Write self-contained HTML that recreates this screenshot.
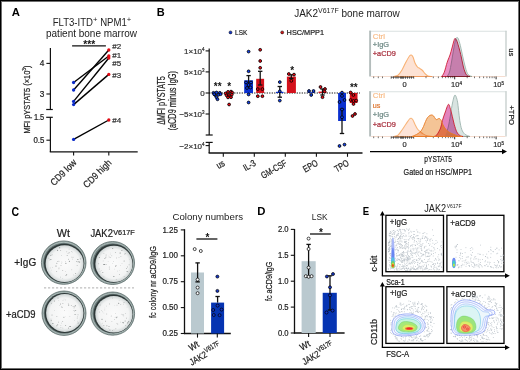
<!DOCTYPE html>
<html><head><meta charset="utf-8"><style>
html,body{margin:0;padding:0;background:#fff;}
#fig{position:relative;width:520px;height:370px;overflow:hidden;background:#fff;}
svg{position:absolute;left:0;top:0;font-family:"Liberation Sans", sans-serif;will-change:transform;}
#frame{position:absolute;left:0;top:0;width:518px;height:368px;border:1px solid #000;box-shadow:inset 0 0 0 1px rgba(0,0,0,0.57);}
</style></head><body><div id="fig">
<svg width="520" height="370" viewBox="0 0 520 370">
<text x="11.7" y="15.8" font-size="11.2" text-anchor="start" fill="#000" textLength="8.2" lengthAdjust="spacingAndGlyphs" font-weight="bold" >A</text>
<text x="156.8" y="16.4" font-size="11" text-anchor="start" fill="#000" font-weight="bold" >B</text>
<text x="11.6" y="215.5" font-size="12" text-anchor="start" fill="#000" textLength="7.6" lengthAdjust="spacingAndGlyphs" font-weight="bold" >C</text>
<text x="257.2" y="214.6" font-size="11" text-anchor="start" fill="#000" textLength="8.2" lengthAdjust="spacingAndGlyphs" font-weight="bold" >D</text>
<text x="362.8" y="215.0" font-size="11" text-anchor="start" fill="#000" textLength="6.4" lengthAdjust="spacingAndGlyphs" font-weight="bold" >E</text>
<text x="92.0" y="25.6" font-size="10" text-anchor="middle" fill="#222" textLength="78.6" lengthAdjust="spacingAndGlyphs" stroke="none">FLT3-ITD<tspan dy="-3.6" font-size="8">+</tspan><tspan dy="3.6"> NPM1</tspan><tspan dy="-3.6" font-size="8">+</tspan></text>
<text x="91.5" y="37.2" font-size="10" text-anchor="middle" fill="#222" textLength="91" lengthAdjust="spacingAndGlyphs" stroke="none">patient bone marrow</text>
<line x1="72.1" y1="45.9" x2="105.9" y2="45.9" stroke="#111" stroke-width="1.3" />
<text x="89.3" y="47.6" font-size="10.5" text-anchor="middle" fill="#111" textLength="12" lengthAdjust="spacingAndGlyphs" font-weight="bold" >***</text>
<line x1="50.4" y1="48" x2="50.4" y2="109.5" stroke="#111" stroke-width="1.2" />
<line x1="46.2" y1="109.5" x2="52.8" y2="109.5" stroke="#111" stroke-width="1.2" />
<line x1="46.2" y1="117.3" x2="52.8" y2="117.3" stroke="#111" stroke-width="1.2" />
<line x1="50.4" y1="117.3" x2="50.4" y2="151.9" stroke="#111" stroke-width="1.2" />
<line x1="49.8" y1="151.9" x2="137.7" y2="151.9" stroke="#111" stroke-width="1.2" />
<line x1="46.4" y1="63.4" x2="50.4" y2="63.4" stroke="#111" stroke-width="1.1" />
<line x1="46.4" y1="94.0" x2="50.4" y2="94.0" stroke="#111" stroke-width="1.1" />
<line x1="46.4" y1="140.2" x2="50.4" y2="140.2" stroke="#111" stroke-width="1.1" />
<text x="44.3" y="66.3" font-size="8.4" text-anchor="end" fill="#222" textLength="4.6" lengthAdjust="spacingAndGlyphs" stroke="#222" stroke-width="0.22">4</text>
<text x="44.3" y="96.9" font-size="8.4" text-anchor="end" fill="#222" textLength="4.6" lengthAdjust="spacingAndGlyphs" stroke="#222" stroke-width="0.22">3</text>
<text x="44.3" y="119.7" font-size="8.4" text-anchor="end" fill="#222" textLength="10.4" lengthAdjust="spacingAndGlyphs" stroke="#222" stroke-width="0.22">1.5</text>
<text x="44.3" y="143.1" font-size="8.4" text-anchor="end" fill="#222" textLength="10.9" lengthAdjust="spacingAndGlyphs" stroke="#222" stroke-width="0.22">0.5</text>
<line x1="73.6" y1="151.9" x2="73.6" y2="155.4" stroke="#111" stroke-width="1.1" />
<line x1="108.8" y1="151.9" x2="108.8" y2="155.4" stroke="#111" stroke-width="1.1" />
<text transform="translate(29.8,99.6) rotate(-90)" font-size="9.6" text-anchor="middle" fill="#222" textLength="68" lengthAdjust="spacingAndGlyphs" stroke="#222" stroke-width="0.22">MFI pYSTAT5 (×10<tspan dy="-3.4" font-size="6.2">3</tspan><tspan dy="3.4">)</tspan></text>
<text transform="translate(77.2,163.2) rotate(-45)" font-size="9.6" text-anchor="end" fill="#222" textLength="32.5" lengthAdjust="spacingAndGlyphs" stroke="#222" stroke-width="0.22">CD9 low</text>
<text transform="translate(112.2,163.4) rotate(-45)" font-size="9.6" text-anchor="end" fill="#222" textLength="35.5" lengthAdjust="spacingAndGlyphs" stroke="#222" stroke-width="0.22">CD9 high</text>
<line x1="73.6" y1="82.5" x2="108.8" y2="56.0" stroke="#000" stroke-width="1.4" />
<line x1="73.6" y1="90.0" x2="108.8" y2="50.0" stroke="#000" stroke-width="1.4" />
<line x1="73.6" y1="101.4" x2="108.8" y2="58.0" stroke="#000" stroke-width="1.4" />
<line x1="73.6" y1="104.6" x2="108.8" y2="74.4" stroke="#000" stroke-width="1.4" />
<line x1="73.6" y1="139.4" x2="108.8" y2="120.0" stroke="#000" stroke-width="1.4" />
<circle cx="73.6" cy="82.5" r="1.65" fill="#0a2ac8" stroke="none" stroke-width="0"/>
<circle cx="108.8" cy="56.0" r="1.65" fill="#e00a14" stroke="none" stroke-width="0"/>
<circle cx="73.6" cy="90.0" r="1.65" fill="#0a2ac8" stroke="none" stroke-width="0"/>
<circle cx="108.8" cy="50.0" r="1.65" fill="#e00a14" stroke="none" stroke-width="0"/>
<circle cx="73.6" cy="101.4" r="1.65" fill="#0a2ac8" stroke="none" stroke-width="0"/>
<circle cx="108.8" cy="58.0" r="1.65" fill="#e00a14" stroke="none" stroke-width="0"/>
<circle cx="73.6" cy="104.6" r="1.65" fill="#0a2ac8" stroke="none" stroke-width="0"/>
<circle cx="108.8" cy="74.4" r="1.65" fill="#e00a14" stroke="none" stroke-width="0"/>
<circle cx="73.6" cy="139.4" r="1.65" fill="#0a2ac8" stroke="none" stroke-width="0"/>
<circle cx="108.8" cy="120.0" r="1.65" fill="#e00a14" stroke="none" stroke-width="0"/>
<text x="112.3" y="49.3" font-size="8" text-anchor="start" fill="#333"  stroke="#333" stroke-width="0.22">#2</text>
<text x="112.3" y="57.8" font-size="8" text-anchor="start" fill="#333"  stroke="#333" stroke-width="0.22">#1</text>
<text x="112.3" y="66.1" font-size="8" text-anchor="start" fill="#333"  stroke="#333" stroke-width="0.22">#5</text>
<text x="112.3" y="78.0" font-size="8" text-anchor="start" fill="#333"  stroke="#333" stroke-width="0.22">#3</text>
<text x="112.3" y="123.0" font-size="8" text-anchor="start" fill="#333"  stroke="#333" stroke-width="0.22">#4</text>
<text x="347" y="16.7" font-size="10" text-anchor="middle" fill="#222" stroke="none">JAK2<tspan dy="-4" font-size="7">V617F</tspan><tspan dy="4"> bone marrow</tspan></text>
<circle cx="230.5" cy="32.4" r="1.5" fill="#1536c8" stroke="#000" stroke-width="0.5"/>
<text x="235.1" y="35.2" font-size="7.9" text-anchor="start" fill="#222" textLength="12.1" lengthAdjust="spacingAndGlyphs"  stroke="#222" stroke-width="0.22">LSK</text>
<circle cx="282.2" cy="32.4" r="1.5" fill="#d01818" stroke="#000" stroke-width="0.5"/>
<text x="286.6" y="35.2" font-size="7.9" text-anchor="start" fill="#222" textLength="37.4" lengthAdjust="spacingAndGlyphs"  stroke="#222" stroke-width="0.22">HSC/MPP1</text>
<line x1="209.2" y1="48.6" x2="209.2" y2="135" stroke="#111" stroke-width="1.2" />
<line x1="205.7" y1="135" x2="212.7" y2="135" stroke="#111" stroke-width="1.2" />
<line x1="205.7" y1="142.4" x2="212.7" y2="142.4" stroke="#111" stroke-width="1.2" />
<line x1="209.2" y1="142.4" x2="209.2" y2="153" stroke="#111" stroke-width="1.2" />
<line x1="208.6" y1="153" x2="362.5" y2="153" stroke="#111" stroke-width="1.3" />
<line x1="205.6" y1="50.9" x2="209.2" y2="50.9" stroke="#111" stroke-width="1.1" />
<line x1="205.6" y1="71.9" x2="209.2" y2="71.9" stroke="#111" stroke-width="1.1" />
<line x1="205.6" y1="93.0" x2="209.2" y2="93.0" stroke="#111" stroke-width="1.1" />
<line x1="205.6" y1="114.0" x2="209.2" y2="114.0" stroke="#111" stroke-width="1.1" />
<line x1="205.6" y1="145.6" x2="209.2" y2="145.6" stroke="#111" stroke-width="1.1" />
<text x="204.6" y="53.8" font-size="8" text-anchor="end" fill="#333"  stroke="#333" stroke-width="0.22">1×10<tspan dy="-2.5" font-size="4.5">4</tspan></text>
<text x="204.6" y="74.80000000000001" font-size="8" text-anchor="end" fill="#333"  stroke="#333" stroke-width="0.22">5×10<tspan dy="-2.5" font-size="4.5">3</tspan></text>
<text x="204.6" y="95.9" font-size="8" text-anchor="end" fill="#333"  stroke="#333" stroke-width="0.22">0</text>
<text x="204.6" y="116.9" font-size="8" text-anchor="end" fill="#333"  stroke="#333" stroke-width="0.22">−5×10<tspan dy="-2.5" font-size="4.5">3</tspan></text>
<text x="204.6" y="148.5" font-size="8" text-anchor="end" fill="#333"  stroke="#333" stroke-width="0.22">−2×10<tspan dy="-2.5" font-size="4.5">4</tspan></text>
<line x1="209.2" y1="93.0" x2="360" y2="93.0" stroke="#000" stroke-width="1.15" stroke-dasharray="1.2 1.3"/>
<line x1="223.3" y1="153" x2="223.3" y2="156.8" stroke="#111" stroke-width="1.1" />
<line x1="254.3" y1="153" x2="254.3" y2="156.8" stroke="#111" stroke-width="1.1" />
<line x1="285.3" y1="153" x2="285.3" y2="156.8" stroke="#111" stroke-width="1.1" />
<line x1="316.4" y1="153" x2="316.4" y2="156.8" stroke="#111" stroke-width="1.1" />
<line x1="347.5" y1="153" x2="347.5" y2="156.8" stroke="#111" stroke-width="1.1" />
<text transform="translate(225.5,165.0) rotate(-30)" font-size="9.4" text-anchor="end" fill="#222" textLength="8.0" lengthAdjust="spacingAndGlyphs" stroke="#222" stroke-width="0.22">us</text>
<text transform="translate(256.5,165.0) rotate(-30)" font-size="9.4" text-anchor="end" fill="#222" textLength="12.6" lengthAdjust="spacingAndGlyphs" stroke="#222" stroke-width="0.22">IL-3</text>
<text transform="translate(287.5,165.0) rotate(-30)" font-size="9.4" text-anchor="end" fill="#222" textLength="28.0" lengthAdjust="spacingAndGlyphs" stroke="#222" stroke-width="0.22">GM-CSF</text>
<text transform="translate(318.59999999999997,165.0) rotate(-30)" font-size="9.4" text-anchor="end" fill="#222" textLength="15.4" lengthAdjust="spacingAndGlyphs" stroke="#222" stroke-width="0.22">EPO</text>
<text transform="translate(349.7,165.0) rotate(-30)" font-size="9.4" text-anchor="end" fill="#222" textLength="15.0" lengthAdjust="spacingAndGlyphs" stroke="#222" stroke-width="0.22">TPO</text>
<text transform="translate(164.6,100.6) rotate(-90)" font-size="10" text-anchor="middle" fill="#222" textLength="48.5" lengthAdjust="spacingAndGlyphs" stroke="#222" stroke-width="0.22">ΔMFI pYSTAT5</text>
<text transform="translate(175.6,100.8) rotate(-90)" font-size="10" text-anchor="middle" fill="#222" textLength="59.5" lengthAdjust="spacingAndGlyphs" stroke="#222" stroke-width="0.22">(aCD9 minus IgG)</text>
<rect x="244.2" y="80.3" width="8.800000000000011" height="12.700000000000003" fill="#0a30d0"/>
<rect x="256.2" y="78.8" width="7.900000000000034" height="14.200000000000003" fill="#d4121c"/>
<line x1="248.6" y1="75.6" x2="248.6" y2="87" stroke="#111" stroke-width="1.3" />
<line x1="246.4" y1="75.6" x2="250.79999999999998" y2="75.6" stroke="#111" stroke-width="1.3" />
<line x1="246.4" y1="87" x2="250.79999999999998" y2="87" stroke="#111" stroke-width="1.3" />
<line x1="260.2" y1="71.3" x2="260.2" y2="85" stroke="#111" stroke-width="1.3" />
<line x1="258.0" y1="71.3" x2="262.4" y2="71.3" stroke="#111" stroke-width="1.3" />
<line x1="258.0" y1="85" x2="262.4" y2="85" stroke="#111" stroke-width="1.3" />
<rect x="276" y="91.8" width="7.5" height="1.2000000000000028" fill="#0a30d0"/>
<line x1="279.8" y1="86.5" x2="279.8" y2="97.2" stroke="#111" stroke-width="1.3" />
<line x1="277.6" y1="86.5" x2="282.0" y2="86.5" stroke="#111" stroke-width="1.3" />
<line x1="277.6" y1="97.2" x2="282.0" y2="97.2" stroke="#111" stroke-width="1.3" />
<rect x="286.9" y="76.6" width="9.0" height="16.400000000000006" fill="#d4121c"/>
<line x1="291.3" y1="74.8" x2="291.3" y2="78.5" stroke="#111" stroke-width="1.3" />
<line x1="289.1" y1="74.8" x2="293.5" y2="74.8" stroke="#111" stroke-width="1.3" />
<line x1="289.1" y1="78.5" x2="293.5" y2="78.5" stroke="#111" stroke-width="1.3" />
<rect x="307.5" y="92.2" width="7.5" height="0.7999999999999972" fill="#0a30d0"/>
<rect x="318.5" y="91.6" width="8.0" height="1.4000000000000057" fill="#d4121c"/>
<line x1="322.5" y1="89" x2="322.5" y2="95" stroke="#111" stroke-width="1.3" />
<line x1="320.3" y1="89" x2="324.7" y2="89" stroke="#111" stroke-width="1.3" />
<line x1="320.3" y1="95" x2="324.7" y2="95" stroke="#111" stroke-width="1.3" />
<rect x="338.1" y="93.0" width="7.899999999999977" height="28.0" fill="#0a30d0"/>
<line x1="342" y1="109.2" x2="342" y2="133.5" stroke="#111" stroke-width="1.3" />
<line x1="339.8" y1="109.2" x2="344.2" y2="109.2" stroke="#111" stroke-width="1.3" />
<line x1="339.8" y1="133.5" x2="344.2" y2="133.5" stroke="#111" stroke-width="1.3" />
<rect x="349.8" y="93.0" width="7.699999999999989" height="10.0" fill="#d4121c"/>
<circle cx="213.5" cy="92.8" r="1.4" fill="#1040f0" stroke="#000" stroke-width="0.85"/>
<circle cx="216.5" cy="92.5" r="1.4" fill="#1040f0" stroke="#000" stroke-width="0.85"/>
<circle cx="219.8" cy="92.8" r="1.4" fill="#1040f0" stroke="#000" stroke-width="0.85"/>
<circle cx="215" cy="95" r="1.4" fill="#1040f0" stroke="#000" stroke-width="0.85"/>
<circle cx="218.5" cy="94.8" r="1.4" fill="#1040f0" stroke="#000" stroke-width="0.85"/>
<circle cx="220.6" cy="94.2" r="1.4" fill="#1040f0" stroke="#000" stroke-width="0.85"/>
<circle cx="216.5" cy="97.3" r="1.4" fill="#1040f0" stroke="#000" stroke-width="0.85"/>
<circle cx="217.5" cy="99.3" r="1.4" fill="#1040f0" stroke="#000" stroke-width="0.85"/>
<circle cx="214.2" cy="94.2" r="1.4" fill="#1040f0" stroke="#000" stroke-width="0.85"/>
<circle cx="248.6" cy="51.6" r="1.4" fill="#1040f0" stroke="#000" stroke-width="0.85"/>
<circle cx="248.6" cy="71.3" r="1.4" fill="#1040f0" stroke="#000" stroke-width="0.85"/>
<circle cx="246" cy="82.5" r="1.4" fill="#1040f0" stroke="#000" stroke-width="0.85"/>
<circle cx="251" cy="82.5" r="1.4" fill="#1040f0" stroke="#000" stroke-width="0.85"/>
<circle cx="248.6" cy="85" r="1.4" fill="#1040f0" stroke="#000" stroke-width="0.85"/>
<circle cx="247" cy="88" r="1.4" fill="#1040f0" stroke="#000" stroke-width="0.85"/>
<circle cx="250.5" cy="87.5" r="1.4" fill="#1040f0" stroke="#000" stroke-width="0.85"/>
<circle cx="248.6" cy="94.5" r="1.4" fill="#1040f0" stroke="#000" stroke-width="0.85"/>
<circle cx="248.6" cy="102.5" r="1.4" fill="#1040f0" stroke="#000" stroke-width="0.85"/>
<circle cx="279.8" cy="82.1" r="1.4" fill="#1040f0" stroke="#000" stroke-width="0.85"/>
<circle cx="279.8" cy="91.3" r="1.4" fill="#1040f0" stroke="#000" stroke-width="0.85"/>
<circle cx="279.8" cy="100.6" r="1.4" fill="#1040f0" stroke="#000" stroke-width="0.85"/>
<circle cx="309" cy="91" r="1.4" fill="#1040f0" stroke="#000" stroke-width="0.85"/>
<circle cx="313.5" cy="91" r="1.4" fill="#1040f0" stroke="#000" stroke-width="0.85"/>
<circle cx="311.2" cy="95" r="1.4" fill="#1040f0" stroke="#000" stroke-width="0.85"/>
<circle cx="342" cy="92.6" r="1.4" fill="#1040f0" stroke="#000" stroke-width="0.85"/>
<circle cx="342" cy="95.9" r="1.4" fill="#1040f0" stroke="#000" stroke-width="0.85"/>
<circle cx="339.5" cy="102" r="1.4" fill="#1040f0" stroke="#000" stroke-width="0.85"/>
<circle cx="344.5" cy="100" r="1.4" fill="#1040f0" stroke="#000" stroke-width="0.85"/>
<circle cx="342" cy="109.5" r="1.4" fill="#1040f0" stroke="#000" stroke-width="0.85"/>
<circle cx="342" cy="117.2" r="1.4" fill="#1040f0" stroke="#000" stroke-width="0.85"/>
<circle cx="339.5" cy="146" r="1.4" fill="#1040f0" stroke="#000" stroke-width="0.85"/>
<circle cx="344.5" cy="144.6" r="1.4" fill="#1040f0" stroke="#000" stroke-width="0.85"/>
<circle cx="225.6" cy="93.4" r="1.4" fill="#f00a14" stroke="#000" stroke-width="0.85"/>
<circle cx="228" cy="91.9" r="1.4" fill="#f00a14" stroke="#000" stroke-width="0.85"/>
<circle cx="231" cy="91.6" r="1.4" fill="#f00a14" stroke="#000" stroke-width="0.85"/>
<circle cx="232.2" cy="92.6" r="1.4" fill="#f00a14" stroke="#000" stroke-width="0.85"/>
<circle cx="226.6" cy="95.4" r="1.4" fill="#f00a14" stroke="#000" stroke-width="0.85"/>
<circle cx="229" cy="95" r="1.4" fill="#f00a14" stroke="#000" stroke-width="0.85"/>
<circle cx="231.8" cy="94.6" r="1.4" fill="#f00a14" stroke="#000" stroke-width="0.85"/>
<circle cx="228" cy="97.4" r="1.4" fill="#f00a14" stroke="#000" stroke-width="0.85"/>
<circle cx="231" cy="97.2" r="1.4" fill="#f00a14" stroke="#000" stroke-width="0.85"/>
<circle cx="229.1" cy="104.5" r="1.4" fill="#f00a14" stroke="#000" stroke-width="0.85"/>
<circle cx="260.2" cy="49.8" r="1.4" fill="#f00a14" stroke="#000" stroke-width="0.85"/>
<circle cx="260.2" cy="61" r="1.4" fill="#f00a14" stroke="#000" stroke-width="0.85"/>
<circle cx="260.2" cy="67.8" r="1.4" fill="#f00a14" stroke="#000" stroke-width="0.85"/>
<circle cx="257.8" cy="89.1" r="1.4" fill="#f00a14" stroke="#000" stroke-width="0.85"/>
<circle cx="262.4" cy="89.1" r="1.4" fill="#f00a14" stroke="#000" stroke-width="0.85"/>
<circle cx="257.8" cy="96.2" r="1.4" fill="#f00a14" stroke="#000" stroke-width="0.85"/>
<circle cx="262.4" cy="96.2" r="1.4" fill="#f00a14" stroke="#000" stroke-width="0.85"/>
<circle cx="288.8" cy="74.0" r="1.4" fill="#f00a14" stroke="#000" stroke-width="0.85"/>
<circle cx="294" cy="74.6" r="1.4" fill="#f00a14" stroke="#000" stroke-width="0.85"/>
<circle cx="291.3" cy="80.8" r="1.4" fill="#f00a14" stroke="#000" stroke-width="0.85"/>
<circle cx="320.5" cy="87" r="1.4" fill="#f00a14" stroke="#000" stroke-width="0.85"/>
<circle cx="325" cy="89" r="1.4" fill="#f00a14" stroke="#000" stroke-width="0.85"/>
<circle cx="324.5" cy="91.5" r="1.4" fill="#f00a14" stroke="#000" stroke-width="0.85"/>
<circle cx="322.5" cy="97.2" r="1.4" fill="#f00a14" stroke="#000" stroke-width="0.85"/>
<circle cx="350.6" cy="92.5" r="1.4" fill="#f00a14" stroke="#000" stroke-width="0.85"/>
<circle cx="353.4" cy="95" r="1.4" fill="#f00a14" stroke="#000" stroke-width="0.85"/>
<circle cx="350.6" cy="100" r="1.4" fill="#f00a14" stroke="#000" stroke-width="0.85"/>
<circle cx="353.5" cy="101" r="1.4" fill="#f00a14" stroke="#000" stroke-width="0.85"/>
<circle cx="356.2" cy="100.6" r="1.4" fill="#f00a14" stroke="#000" stroke-width="0.85"/>
<circle cx="353.5" cy="104" r="1.4" fill="#f00a14" stroke="#000" stroke-width="0.85"/>
<circle cx="352.5" cy="116" r="1.4" fill="#f00a14" stroke="#000" stroke-width="0.85"/>
<circle cx="355" cy="114" r="1.4" fill="#f00a14" stroke="#000" stroke-width="0.85"/>
<text x="217.7" y="90.3" font-size="10" text-anchor="middle" fill="#111" textLength="7.8" lengthAdjust="spacingAndGlyphs" font-weight="bold" >**</text>
<text x="229.2" y="90.4" font-size="10" text-anchor="middle" fill="#111" font-weight="bold" >*</text>
<text x="292.1" y="73.6" font-size="10" text-anchor="middle" fill="#111" font-weight="bold" >*</text>
<text x="353.8" y="90.8" font-size="10" text-anchor="middle" fill="#111" textLength="7.8" lengthAdjust="spacingAndGlyphs" font-weight="bold" >**</text>
<line x1="369.2" y1="31.3" x2="506.6" y2="31.3" stroke="#dae1e0" stroke-width="1.1"/>
<line x1="506" y1="30.7" x2="506" y2="76.5" stroke="#c4cccb" stroke-width="1.3"/>
<line x1="370.1" y1="30.7" x2="370.1" y2="76.5" stroke="#b4bdbc" stroke-width="1.9"/>
<line x1="371" y1="76.5" x2="505.4" y2="76.5" stroke="#f2d4c4" stroke-width="0.8"/>
<line x1="373.7" y1="76.5" x2="373.7" y2="78.2" stroke="#333" stroke-width="0.7" />
<line x1="378.3" y1="76.5" x2="378.3" y2="78.2" stroke="#333" stroke-width="0.7" />
<line x1="382.5" y1="76.5" x2="382.5" y2="78.2" stroke="#333" stroke-width="0.7" />
<line x1="426.0" y1="76.5" x2="426.0" y2="78.2" stroke="#333" stroke-width="0.7" />
<line x1="433.3" y1="76.5" x2="433.3" y2="78.2" stroke="#333" stroke-width="0.7" />
<line x1="438.4" y1="76.5" x2="438.4" y2="78.2" stroke="#333" stroke-width="0.7" />
<line x1="442.4" y1="76.5" x2="442.4" y2="78.2" stroke="#333" stroke-width="0.7" />
<line x1="445.6" y1="76.5" x2="445.6" y2="78.2" stroke="#333" stroke-width="0.7" />
<line x1="448.3" y1="76.5" x2="448.3" y2="78.2" stroke="#333" stroke-width="0.7" />
<line x1="450.7" y1="76.5" x2="450.7" y2="78.2" stroke="#333" stroke-width="0.7" />
<line x1="452.8" y1="76.5" x2="452.8" y2="78.2" stroke="#333" stroke-width="0.7" />
<line x1="467.2" y1="76.5" x2="467.2" y2="78.2" stroke="#333" stroke-width="0.7" />
<line x1="474.5" y1="76.5" x2="474.5" y2="78.2" stroke="#333" stroke-width="0.7" />
<line x1="479.6" y1="76.5" x2="479.6" y2="78.2" stroke="#333" stroke-width="0.7" />
<line x1="483.6" y1="76.5" x2="483.6" y2="78.2" stroke="#333" stroke-width="0.7" />
<line x1="486.9" y1="76.5" x2="486.9" y2="78.2" stroke="#333" stroke-width="0.7" />
<line x1="489.7" y1="76.5" x2="489.7" y2="78.2" stroke="#333" stroke-width="0.7" />
<line x1="492.1" y1="76.5" x2="492.1" y2="78.2" stroke="#333" stroke-width="0.7" />
<line x1="494.2" y1="76.5" x2="494.2" y2="78.2" stroke="#333" stroke-width="0.7" />
<line x1="391" y1="77.2" x2="414" y2="77.2" stroke="#222" stroke-width="0.7" />
<line x1="391.2" y1="76.5" x2="391.2" y2="78.8" stroke="#222" stroke-width="0.65" />
<line x1="393.5" y1="76.5" x2="393.5" y2="78.8" stroke="#222" stroke-width="0.65" />
<line x1="396" y1="76.5" x2="396" y2="78.8" stroke="#222" stroke-width="0.65" />
<line x1="398" y1="76.5" x2="398" y2="78.8" stroke="#222" stroke-width="0.65" />
<line x1="400.6" y1="76.5" x2="400.6" y2="78.8" stroke="#222" stroke-width="0.65" />
<line x1="401.6" y1="76.5" x2="401.6" y2="78.8" stroke="#222" stroke-width="0.65" />
<line x1="402.6" y1="76.5" x2="402.6" y2="78.8" stroke="#222" stroke-width="0.65" />
<line x1="403.6" y1="76.5" x2="403.6" y2="78.8" stroke="#222" stroke-width="0.65" />
<line x1="405.5" y1="76.5" x2="405.5" y2="78.8" stroke="#222" stroke-width="0.65" />
<line x1="407.5" y1="76.5" x2="407.5" y2="78.8" stroke="#222" stroke-width="0.65" />
<line x1="409.6" y1="76.5" x2="409.6" y2="78.8" stroke="#222" stroke-width="0.65" />
<line x1="411.5" y1="76.5" x2="411.5" y2="78.8" stroke="#222" stroke-width="0.65" />
<line x1="413.7" y1="76.5" x2="413.7" y2="78.8" stroke="#222" stroke-width="0.65" />
<line x1="454.7" y1="76.5" x2="454.7" y2="79.3" stroke="#111" stroke-width="0.9" />
<line x1="496.1" y1="76.5" x2="496.1" y2="79.3" stroke="#111" stroke-width="0.9" />
<line x1="369.2" y1="91.8" x2="506.6" y2="91.8" stroke="#dae1e0" stroke-width="1.1"/>
<line x1="506" y1="91.2" x2="506" y2="136.5" stroke="#c4cccb" stroke-width="1.3"/>
<line x1="370.1" y1="91.2" x2="370.1" y2="136.5" stroke="#b4bdbc" stroke-width="1.9"/>
<line x1="371" y1="136.5" x2="505.4" y2="136.5" stroke="#f2d4c4" stroke-width="0.8"/>
<line x1="373.7" y1="136.5" x2="373.7" y2="138.2" stroke="#333" stroke-width="0.7" />
<line x1="378.3" y1="136.5" x2="378.3" y2="138.2" stroke="#333" stroke-width="0.7" />
<line x1="382.5" y1="136.5" x2="382.5" y2="138.2" stroke="#333" stroke-width="0.7" />
<line x1="426.0" y1="136.5" x2="426.0" y2="138.2" stroke="#333" stroke-width="0.7" />
<line x1="433.3" y1="136.5" x2="433.3" y2="138.2" stroke="#333" stroke-width="0.7" />
<line x1="438.4" y1="136.5" x2="438.4" y2="138.2" stroke="#333" stroke-width="0.7" />
<line x1="442.4" y1="136.5" x2="442.4" y2="138.2" stroke="#333" stroke-width="0.7" />
<line x1="445.6" y1="136.5" x2="445.6" y2="138.2" stroke="#333" stroke-width="0.7" />
<line x1="448.3" y1="136.5" x2="448.3" y2="138.2" stroke="#333" stroke-width="0.7" />
<line x1="450.7" y1="136.5" x2="450.7" y2="138.2" stroke="#333" stroke-width="0.7" />
<line x1="452.8" y1="136.5" x2="452.8" y2="138.2" stroke="#333" stroke-width="0.7" />
<line x1="467.2" y1="136.5" x2="467.2" y2="138.2" stroke="#333" stroke-width="0.7" />
<line x1="474.5" y1="136.5" x2="474.5" y2="138.2" stroke="#333" stroke-width="0.7" />
<line x1="479.6" y1="136.5" x2="479.6" y2="138.2" stroke="#333" stroke-width="0.7" />
<line x1="483.6" y1="136.5" x2="483.6" y2="138.2" stroke="#333" stroke-width="0.7" />
<line x1="486.9" y1="136.5" x2="486.9" y2="138.2" stroke="#333" stroke-width="0.7" />
<line x1="489.7" y1="136.5" x2="489.7" y2="138.2" stroke="#333" stroke-width="0.7" />
<line x1="492.1" y1="136.5" x2="492.1" y2="138.2" stroke="#333" stroke-width="0.7" />
<line x1="494.2" y1="136.5" x2="494.2" y2="138.2" stroke="#333" stroke-width="0.7" />
<line x1="391" y1="137.2" x2="414" y2="137.2" stroke="#222" stroke-width="0.7" />
<line x1="391.2" y1="136.5" x2="391.2" y2="138.8" stroke="#222" stroke-width="0.65" />
<line x1="393.5" y1="136.5" x2="393.5" y2="138.8" stroke="#222" stroke-width="0.65" />
<line x1="396" y1="136.5" x2="396" y2="138.8" stroke="#222" stroke-width="0.65" />
<line x1="398" y1="136.5" x2="398" y2="138.8" stroke="#222" stroke-width="0.65" />
<line x1="400.6" y1="136.5" x2="400.6" y2="138.8" stroke="#222" stroke-width="0.65" />
<line x1="401.6" y1="136.5" x2="401.6" y2="138.8" stroke="#222" stroke-width="0.65" />
<line x1="402.6" y1="136.5" x2="402.6" y2="138.8" stroke="#222" stroke-width="0.65" />
<line x1="403.6" y1="136.5" x2="403.6" y2="138.8" stroke="#222" stroke-width="0.65" />
<line x1="405.5" y1="136.5" x2="405.5" y2="138.8" stroke="#222" stroke-width="0.65" />
<line x1="407.5" y1="136.5" x2="407.5" y2="138.8" stroke="#222" stroke-width="0.65" />
<line x1="409.6" y1="136.5" x2="409.6" y2="138.8" stroke="#222" stroke-width="0.65" />
<line x1="411.5" y1="136.5" x2="411.5" y2="138.8" stroke="#222" stroke-width="0.65" />
<line x1="413.7" y1="136.5" x2="413.7" y2="138.8" stroke="#222" stroke-width="0.65" />
<line x1="454.7" y1="136.5" x2="454.7" y2="139.3" stroke="#111" stroke-width="0.9" />
<line x1="496.1" y1="136.5" x2="496.1" y2="139.3" stroke="#111" stroke-width="0.9" />
<text x="404.6" y="87.39999999999999" font-size="7.5" text-anchor="middle" fill="#333"  stroke="#333" stroke-width="0.22">0</text>
<text x="456.5" y="87.39999999999999" font-size="7.5" text-anchor="middle" fill="#333"  stroke="#333" stroke-width="0.22">10<tspan dy="-2.5" font-size="4.5">4</tspan></text>
<text x="498.6" y="87.39999999999999" font-size="7.5" text-anchor="middle" fill="#333"  stroke="#333" stroke-width="0.22">10<tspan dy="-2.5" font-size="4.5">5</tspan></text>
<text x="404.6" y="147.29999999999998" font-size="7.5" text-anchor="middle" fill="#333"  stroke="#333" stroke-width="0.22">0</text>
<text x="456.5" y="147.29999999999998" font-size="7.5" text-anchor="middle" fill="#333"  stroke="#333" stroke-width="0.22">10<tspan dy="-2.5" font-size="4.5">4</tspan></text>
<text x="498.6" y="147.29999999999998" font-size="7.5" text-anchor="middle" fill="#333"  stroke="#333" stroke-width="0.22">10<tspan dy="-2.5" font-size="4.5">5</tspan></text>
<path d="M394,76.5 C394.67,76.28 396.67,76.28 398,75.2 C399.33,74.12 400.67,72.20 402,70 C403.33,67.80 404.75,64.33 406,62 C407.25,59.67 408.62,57.17 409.5,56 C410.38,54.83 410.72,54.83 411.3,55 C411.88,55.17 412.38,55.67 413,57 C413.62,58.33 414.25,61.33 415,63 C415.75,64.67 416.67,66.07 417.5,67 C418.33,67.93 419.17,68.02 420,68.6 C420.83,69.18 421.67,69.67 422.5,70.5 C423.33,71.33 424.08,72.68 425,73.6 C425.92,74.52 426.83,75.52 428,76 C429.17,76.48 431.33,76.42 432,76.5 Z" fill="#fde2d4" stroke="#f8b274" stroke-width="1.1" stroke-linejoin="round" style="mix-blend-mode:multiply"/>
<path d="M447,76.5 C447.42,75.75 448.75,74.42 449.5,72 C450.25,69.58 450.83,65.67 451.5,62 C452.17,58.33 452.83,53.67 453.5,50 C454.17,46.33 454.95,42.07 455.5,40 C456.05,37.93 456.33,37.80 456.8,37.6 C457.27,37.40 457.70,37.45 458.3,38.8 C458.90,40.15 459.65,42.70 460.4,45.7 C461.15,48.70 462.03,53.42 462.8,56.8 C463.57,60.18 464.30,63.38 465,66 C465.70,68.62 466.33,70.95 467,72.5 C467.67,74.05 468.17,74.63 469,75.3 C469.83,75.97 471.50,76.30 472,76.5 Z" fill="#d8e4e1" stroke="#9db3ae" stroke-width="0.9" stroke-linejoin="round" style="mix-blend-mode:multiply"/>
<path d="M441.5,76.5 C441.83,76.08 442.92,75.08 443.5,74 C444.08,72.92 444.50,71.58 445,70 C445.50,68.42 446.00,66.17 446.5,64.5 C447.00,62.83 447.42,61.58 448,60 C448.58,58.42 449.33,57.00 450,55 C450.67,53.00 451.33,50.42 452,48 C452.67,45.58 453.50,42.08 454,40.5 C454.50,38.92 454.58,38.58 455,38.5 C455.42,38.42 456.00,39.02 456.5,40 C457.00,40.98 457.42,42.48 458,44.4 C458.58,46.32 459.42,49.23 460,51.5 C460.58,53.77 460.97,55.58 461.5,58 C462.03,60.42 462.62,63.67 463.2,66 C463.78,68.33 464.37,70.42 465,72 C465.63,73.58 466.17,74.75 467,75.5 C467.83,76.25 469.50,76.33 470,76.5 Z" fill="#ea8ec4" stroke="#cc2038" stroke-width="0.9" stroke-linejoin="round" style="mix-blend-mode:multiply"/>
<path d="M394,136.5 C394.67,136.28 396.67,136.28 398,135.2 C399.33,134.12 400.67,131.87 402,130 C403.33,128.13 404.75,125.83 406,124 C407.25,122.17 408.62,119.95 409.5,119 C410.38,118.05 410.72,118.13 411.3,118.3 C411.88,118.47 412.38,118.97 413,120 C413.62,121.03 414.25,123.00 415,124.5 C415.75,126.00 416.67,127.83 417.5,129 C418.33,130.17 419.08,130.70 420,131.5 C420.92,132.30 421.83,133.08 423,133.8 C424.17,134.52 425.50,135.35 427,135.8 C428.50,136.25 431.17,136.38 432,136.5 Z" fill="#fde4d8" stroke="#f8b67c" stroke-width="1.1" stroke-linejoin="round" style="mix-blend-mode:multiply"/>
<path d="M445,136.5 C445.50,135.08 447.08,131.58 448,128 C448.92,124.42 449.75,119.17 450.5,115 C451.25,110.83 451.77,106.32 452.5,103 C453.23,99.68 454.10,95.48 454.9,95.1 C455.70,94.72 456.68,98.12 457.3,100.7 C457.92,103.28 458.18,107.28 458.6,110.6 C459.02,113.92 459.28,117.48 459.8,120.6 C460.32,123.72 460.87,127.03 461.7,129.3 C462.53,131.57 463.42,133.00 464.8,134.2 C466.18,135.40 469.13,136.12 470,136.5 Z" fill="#d8e4e1" stroke="#9db3ae" stroke-width="0.9" stroke-linejoin="round" style="mix-blend-mode:multiply"/>
<path d="M434,136.5 C434.47,136.23 435.70,136.32 436.8,134.9 C437.90,133.48 439.67,130.38 440.6,128 C441.53,125.62 441.68,123.08 442.4,120.6 C443.12,118.12 443.90,115.80 444.9,113.1 C445.90,110.40 447.47,105.02 448.4,104.4 C449.33,103.78 449.83,107.33 450.5,109.4 C451.17,111.47 451.78,114.32 452.4,116.8 C453.02,119.28 453.48,121.81 454.2,124.3 C454.92,126.79 455.77,129.88 456.7,131.75 C457.63,133.62 458.75,134.71 459.8,135.5 C460.85,136.29 462.47,136.33 463,136.5 Z" fill="#e283bd" style="mix-blend-mode:multiply"/>
<path d="M412,136.5 C412.50,136.28 414.00,135.68 415,135.2 C416.00,134.72 417.00,134.30 418,133.6 C419.00,132.90 420.08,132.18 421,131 C421.92,129.82 422.75,128.08 423.5,126.5 C424.25,124.92 424.83,122.98 425.5,121.5 C426.17,120.02 426.75,118.62 427.5,117.6 C428.25,116.58 429.27,115.83 430,115.4 C430.73,114.97 431.30,114.90 431.9,115 C432.50,115.10 433.02,115.37 433.6,116 C434.18,116.63 434.87,118.20 435.4,118.8 C435.93,119.40 436.28,119.63 436.8,119.6 C437.32,119.57 437.97,118.72 438.5,118.6 C439.03,118.48 439.52,118.53 440,118.9 C440.48,119.27 440.90,119.78 441.4,120.8 C441.90,121.82 442.10,123.38 443,125 C443.90,126.62 445.34,129.07 446.8,130.5 C448.26,131.93 449.88,132.68 451.75,133.6 C453.62,134.52 456.29,135.52 458,136 C459.71,136.48 461.33,136.42 462,136.5 Z" fill="#f4c496" style="mix-blend-mode:multiply"/>
<clipPath id="cpa"><path d="M434,136.5 C434.47,136.23 435.70,136.32 436.8,134.9 C437.90,133.48 439.67,130.38 440.6,128 C441.53,125.62 441.68,123.08 442.4,120.6 C443.12,118.12 443.90,115.80 444.9,113.1 C445.90,110.40 447.47,105.02 448.4,104.4 C449.33,103.78 449.83,107.33 450.5,109.4 C451.17,111.47 451.78,114.32 452.4,116.8 C453.02,119.28 453.48,121.81 454.2,124.3 C454.92,126.79 455.77,129.88 456.7,131.75 C457.63,133.62 458.75,134.71 459.8,135.5 C460.85,136.29 462.47,136.33 463,136.5 Z"/></clipPath>
<path d="M412,136.5 C412.50,136.28 414.00,135.68 415,135.2 C416.00,134.72 417.00,134.30 418,133.6 C419.00,132.90 420.08,132.18 421,131 C421.92,129.82 422.75,128.08 423.5,126.5 C424.25,124.92 424.83,122.98 425.5,121.5 C426.17,120.02 426.75,118.62 427.5,117.6 C428.25,116.58 429.27,115.83 430,115.4 C430.73,114.97 431.30,114.90 431.9,115 C432.50,115.10 433.02,115.37 433.6,116 C434.18,116.63 434.87,118.20 435.4,118.8 C435.93,119.40 436.28,119.63 436.8,119.6 C437.32,119.57 437.97,118.72 438.5,118.6 C439.03,118.48 439.52,118.53 440,118.9 C440.48,119.27 440.90,119.78 441.4,120.8 C441.90,121.82 442.10,123.38 443,125 C443.90,126.62 445.34,129.07 446.8,130.5 C448.26,131.93 449.88,132.68 451.75,133.6 C453.62,134.52 456.29,135.52 458,136 C459.71,136.48 461.33,136.42 462,136.5 Z" fill="#e07448" clip-path="url(#cpa)"/>
<clipPath id="cpi"><path d="M445,136.5 C445.50,135.08 447.08,131.58 448,128 C448.92,124.42 449.75,119.17 450.5,115 C451.25,110.83 451.77,106.32 452.5,103 C453.23,99.68 454.10,95.48 454.9,95.1 C455.70,94.72 456.68,98.12 457.3,100.7 C457.92,103.28 458.18,107.28 458.6,110.6 C459.02,113.92 459.28,117.48 459.8,120.6 C460.32,123.72 460.87,127.03 461.7,129.3 C462.53,131.57 463.42,133.00 464.8,134.2 C466.18,135.40 469.13,136.12 470,136.5 Z"/></clipPath>
<path d="M412,136.5 C412.50,136.28 414.00,135.68 415,135.2 C416.00,134.72 417.00,134.30 418,133.6 C419.00,132.90 420.08,132.18 421,131 C421.92,129.82 422.75,128.08 423.5,126.5 C424.25,124.92 424.83,122.98 425.5,121.5 C426.17,120.02 426.75,118.62 427.5,117.6 C428.25,116.58 429.27,115.83 430,115.4 C430.73,114.97 431.30,114.90 431.9,115 C432.50,115.10 433.02,115.37 433.6,116 C434.18,116.63 434.87,118.20 435.4,118.8 C435.93,119.40 436.28,119.63 436.8,119.6 C437.32,119.57 437.97,118.72 438.5,118.6 C439.03,118.48 439.52,118.53 440,118.9 C440.48,119.27 440.90,119.78 441.4,120.8 C441.90,121.82 442.10,123.38 443,125 C443.90,126.62 445.34,129.07 446.8,130.5 C448.26,131.93 449.88,132.68 451.75,133.6 C453.62,134.52 456.29,135.52 458,136 C459.71,136.48 461.33,136.42 462,136.5 Z" fill="#c8704a" clip-path="url(#cpi)" opacity="0.85"/>
<path d="M434,136.5 C434.47,136.23 435.70,136.32 436.8,134.9 C437.90,133.48 439.67,130.38 440.6,128 C441.53,125.62 441.68,123.08 442.4,120.6 C443.12,118.12 443.90,115.80 444.9,113.1 C445.90,110.40 447.47,105.02 448.4,104.4 C449.33,103.78 449.83,107.33 450.5,109.4 C451.17,111.47 451.78,114.32 452.4,116.8 C453.02,119.28 453.48,121.81 454.2,124.3 C454.92,126.79 455.77,129.88 456.7,131.75 C457.63,133.62 458.75,134.71 459.8,135.5 C460.85,136.29 462.47,136.33 463,136.5 Z" fill="none" stroke="#cc2030" stroke-width="0.9" stroke-linejoin="round"/>
<path d="M412,136.5 C412.50,136.28 414.00,135.68 415,135.2 C416.00,134.72 417.00,134.30 418,133.6 C419.00,132.90 420.08,132.18 421,131 C421.92,129.82 422.75,128.08 423.5,126.5 C424.25,124.92 424.83,122.98 425.5,121.5 C426.17,120.02 426.75,118.62 427.5,117.6 C428.25,116.58 429.27,115.83 430,115.4 C430.73,114.97 431.30,114.90 431.9,115 C432.50,115.10 433.02,115.37 433.6,116 C434.18,116.63 434.87,118.20 435.4,118.8 C435.93,119.40 436.28,119.63 436.8,119.6 C437.32,119.57 437.97,118.72 438.5,118.6 C439.03,118.48 439.52,118.53 440,118.9 C440.48,119.27 440.90,119.78 441.4,120.8 C441.90,121.82 442.10,123.38 443,125 C443.90,126.62 445.34,129.07 446.8,130.5 C448.26,131.93 449.88,132.68 451.75,133.6 C453.62,134.52 456.29,135.52 458,136 C459.71,136.48 461.33,136.42 462,136.5 Z" fill="none" stroke="#e87a24" stroke-width="0.9" stroke-linejoin="round"/>
<text x="372.8" y="38.6" font-size="7.3" text-anchor="start" fill="#f8bf8e" textLength="12.1" lengthAdjust="spacingAndGlyphs"  stroke="#f8bf8e" stroke-width="0.22">Ctrl</text>
<text x="372.8" y="47.3" font-size="7.3" text-anchor="start" fill="#6f8a86" textLength="16.3" lengthAdjust="spacingAndGlyphs"  stroke="#6f8a86" stroke-width="0.22">+IgG</text>
<text x="372.8" y="56.0" font-size="7.3" text-anchor="start" fill="#a8303e" textLength="23.1" lengthAdjust="spacingAndGlyphs"  stroke="#a8303e" stroke-width="0.22">+aCD9</text>
<text x="372.8" y="98.4" font-size="7.3" text-anchor="start" fill="#f8bf8e" textLength="12.1" lengthAdjust="spacingAndGlyphs"  stroke="#f8bf8e" stroke-width="0.22">Ctrl</text>
<text x="372.8" y="108.0" font-size="7.3" text-anchor="start" fill="#de7630" textLength="7.6" lengthAdjust="spacingAndGlyphs"  stroke="#de7630" stroke-width="0.22">us</text>
<text x="372.8" y="116.7" font-size="7.3" text-anchor="start" fill="#6f8a86" textLength="16.3" lengthAdjust="spacingAndGlyphs"  stroke="#6f8a86" stroke-width="0.22">+IgG</text>
<text x="372.8" y="126.5" font-size="7.3" text-anchor="start" fill="#a8303e" textLength="23.1" lengthAdjust="spacingAndGlyphs"  stroke="#a8303e" stroke-width="0.22">+aCD9</text>
<text transform="translate(508.9,52.3) rotate(90)" font-size="7.6" text-anchor="middle" fill="#222" stroke="#222" stroke-width="0.22">us</text>
<text transform="translate(509.2,115.3) rotate(90)" font-size="7.4" text-anchor="middle" fill="#222" stroke="#222" stroke-width="0.22">+TPO</text>
<line x1="370" y1="151.6" x2="503" y2="151.6" stroke="#000" stroke-width="1.3" />
<path d="M502,148.9 L507,151.6 L502,154.3 Z" fill="#000"/>
<text x="438.1" y="162.3" font-size="9.6" text-anchor="middle" fill="#222" textLength="27.5" lengthAdjust="spacingAndGlyphs"  stroke="#222" stroke-width="0.22">pYSTAT5</text>
<text x="437.8" y="174.8" font-size="9.6" text-anchor="middle" fill="#222" textLength="68.4" lengthAdjust="spacingAndGlyphs"  stroke="#222" stroke-width="0.22">Gated on HSC/MPP1</text>
<text x="63.3" y="237.3" font-size="10.4" text-anchor="middle" fill="#222" textLength="13.2" lengthAdjust="spacingAndGlyphs"  stroke="#222" stroke-width="0.22">Wt</text>
<text x="90.4" y="237.3" font-size="10.2" text-anchor="start" fill="#222" textLength="22.5" lengthAdjust="spacingAndGlyphs"  stroke="#222" stroke-width="0.22">JAK2</text>
<text x="113.3" y="234.5" font-size="7.0" text-anchor="start" fill="#222" textLength="21.3" lengthAdjust="spacingAndGlyphs"  stroke="#222" stroke-width="0.22">V617F</text>
<text x="36.2" y="266.3" font-size="10" text-anchor="end" fill="#222"  stroke="#222" stroke-width="0.22">+IgG</text>
<text x="35.6" y="318.2" font-size="10" text-anchor="end" fill="#222" textLength="29.6" lengthAdjust="spacingAndGlyphs"  stroke="#222" stroke-width="0.22">+aCD9</text>
<line x1="44" y1="287.9" x2="134" y2="287.9" stroke="#9a9a9a" stroke-width="0.8" stroke-dasharray="2.2 1.8"/>
<defs>
<radialGradient id="dishin" cx="50%" cy="50%" r="50%"><stop offset="0" stop-color="#fbfbfb"/><stop offset="0.8" stop-color="#f3f4f4"/><stop offset="1" stop-color="#d0d6d6"/></radialGradient>
<linearGradient id="rim" x1="0" y1="0" x2="1" y2="1"><stop offset="0" stop-color="#3b4a4a"/><stop offset="0.5" stop-color="#7d8f8d"/><stop offset="1" stop-color="#5d6f6e"/></linearGradient>
</defs>
<ellipse cx="63.7" cy="262.65" rx="22.3" ry="21.700000000000003" fill="#8d9d9b" stroke="#5e6e6d" stroke-width="0.8"/>
<ellipse cx="63.7" cy="262.65" rx="21.4" ry="20.8" fill="#aebcba"/>
<ellipse cx="63.7" cy="262.65" rx="20.599999999999998" ry="20.0" fill="#6a7a79"/>
<ellipse cx="64.15" cy="263.15" rx="20.099999999999998" ry="19.5" fill="#2e3838"/>
<ellipse cx="64.60000000000001" cy="263.65" rx="19.0" ry="18.400000000000002" fill="url(#dishin)"/>
<circle cx="75.1" cy="275.2" r="0.3" fill="#5a6060" fill-opacity="0.6"/>
<circle cx="75.7" cy="273.5" r="0.4" fill="#5a6060" fill-opacity="0.85"/>
<circle cx="58.9" cy="268.9" r="0.4" fill="#5a6060" fill-opacity="0.4"/>
<circle cx="73.0" cy="257.2" r="0.5" fill="#5a6060" fill-opacity="0.4"/>
<circle cx="61.6" cy="255.5" r="0.3" fill="#5a6060" fill-opacity="0.85"/>
<circle cx="80.0" cy="258.3" r="0.3" fill="#5a6060" fill-opacity="0.4"/>
<circle cx="77.1" cy="265.6" r="0.4" fill="#5a6060" fill-opacity="0.85"/>
<circle cx="66.9" cy="274.3" r="0.3" fill="#5a6060" fill-opacity="0.85"/>
<circle cx="66.6" cy="274.6" r="0.4" fill="#5a6060" fill-opacity="0.85"/>
<circle cx="65.5" cy="271.7" r="0.3" fill="#5a6060" fill-opacity="0.6"/>
<circle cx="80.4" cy="258.9" r="0.4" fill="#5a6060" fill-opacity="0.85"/>
<circle cx="69.4" cy="261.2" r="0.5" fill="#5a6060" fill-opacity="0.85"/>
<circle cx="68.4" cy="259.2" r="0.4" fill="#5a6060" fill-opacity="0.85"/>
<circle cx="76.6" cy="261.7" r="0.4" fill="#5a6060" fill-opacity="0.85"/>
<circle cx="71.4" cy="251.6" r="0.4" fill="#5a6060" fill-opacity="0.6"/>
<circle cx="50.8" cy="255.4" r="0.5" fill="#5a6060" fill-opacity="0.6"/>
<circle cx="61.9" cy="262.0" r="0.3" fill="#5a6060" fill-opacity="0.85"/>
<circle cx="67.8" cy="253.3" r="0.3" fill="#5a6060" fill-opacity="0.6"/>
<circle cx="50.9" cy="259.4" r="0.5" fill="#5a6060" fill-opacity="0.85"/>
<circle cx="56.6" cy="271.5" r="0.5" fill="#5a6060" fill-opacity="0.4"/>
<circle cx="66.8" cy="251.8" r="0.4" fill="#5a6060" fill-opacity="0.6"/>
<circle cx="61.6" cy="263.8" r="0.3" fill="#5a6060" fill-opacity="0.6"/>
<circle cx="59.7" cy="247.8" r="0.5" fill="#5a6060" fill-opacity="0.85"/>
<circle cx="59.0" cy="267.9" r="0.5" fill="#5a6060" fill-opacity="0.4"/>
<circle cx="79.6" cy="262.0" r="0.5" fill="#5a6060" fill-opacity="0.85"/>
<circle cx="66.0" cy="275.6" r="0.5" fill="#5a6060" fill-opacity="0.6"/>
<circle cx="56.0" cy="265.9" r="0.5" fill="#5a6060" fill-opacity="0.85"/>
<circle cx="65.9" cy="263.3" r="0.5" fill="#5a6060" fill-opacity="0.85"/>
<circle cx="69.1" cy="252.4" r="0.5" fill="#5a6060" fill-opacity="0.4"/>
<circle cx="61.0" cy="265.4" r="0.4" fill="#5a6060" fill-opacity="0.85"/>
<circle cx="48.9" cy="258.2" r="0.4" fill="#5a6060" fill-opacity="0.6"/>
<circle cx="68.9" cy="253.7" r="0.3" fill="#5a6060" fill-opacity="0.85"/>
<circle cx="49.8" cy="259.9" r="0.4" fill="#5a6060" fill-opacity="0.6"/>
<circle cx="52.1" cy="254.8" r="0.5" fill="#5a6060" fill-opacity="0.4"/>
<circle cx="57.7" cy="261.4" r="0.3" fill="#5a6060" fill-opacity="0.85"/>
<circle cx="69.1" cy="249.2" r="0.4" fill="#5a6060" fill-opacity="0.4"/>
<circle cx="72.3" cy="252.1" r="0.3" fill="#5a6060" fill-opacity="0.4"/>
<circle cx="50.3" cy="267.9" r="0.4" fill="#5a6060" fill-opacity="0.4"/>
<circle cx="62.8" cy="278.5" r="0.3" fill="#5a6060" fill-opacity="0.6"/>
<circle cx="62.8" cy="270.3" r="0.4" fill="#5a6060" fill-opacity="0.85"/>
<circle cx="77.9" cy="259.6" r="0.5" fill="#5a6060" fill-opacity="0.85"/>
<circle cx="60.6" cy="277.1" r="0.4" fill="#5a6060" fill-opacity="0.6"/>
<circle cx="71.8" cy="269.8" r="0.4" fill="#5a6060" fill-opacity="0.6"/>
<circle cx="67.1" cy="255.5" r="0.4" fill="#5a6060" fill-opacity="0.85"/>
<circle cx="56.8" cy="263.2" r="0.5" fill="#5a6060" fill-opacity="0.6"/>
<circle cx="65.6" cy="261.4" r="0.3" fill="#5a6060" fill-opacity="0.6"/>
<circle cx="73.4" cy="274.9" r="0.3" fill="#5a6060" fill-opacity="0.6"/>
<circle cx="60.6" cy="250.4" r="0.5" fill="#5a6060" fill-opacity="0.4"/>
<circle cx="78.1" cy="261.7" r="0.5" fill="#5a6060" fill-opacity="0.85"/>
<circle cx="52.7" cy="267.3" r="0.3" fill="#5a6060" fill-opacity="0.6"/>
<circle cx="57.6" cy="250.3" r="0.5" fill="#5a6060" fill-opacity="0.85"/>
<circle cx="51.4" cy="270.1" r="0.3" fill="#5a6060" fill-opacity="0.4"/>
<circle cx="71.4" cy="257.1" r="0.3" fill="#5a6060" fill-opacity="0.6"/>
<circle cx="72.7" cy="259.1" r="0.3" fill="#5a6060" fill-opacity="0.6"/>
<circle cx="58.9" cy="261.3" r="0.5" fill="#5a6060" fill-opacity="0.4"/>
<ellipse cx="112.65" cy="263.0" rx="21.85" ry="21.5" fill="#8d9d9b" stroke="#5e6e6d" stroke-width="0.8"/>
<ellipse cx="112.65" cy="263.0" rx="20.95" ry="20.599999999999998" fill="#aebcba"/>
<ellipse cx="112.65" cy="263.0" rx="20.15" ry="19.799999999999997" fill="#6a7a79"/>
<ellipse cx="113.30000000000001" cy="263.45" rx="19.65" ry="19.299999999999997" fill="#2e3838"/>
<ellipse cx="113.95" cy="263.9" rx="18.55" ry="18.2" fill="url(#dishin)"/>
<circle cx="129.6" cy="259.5" r="0.3" fill="#5a6060" fill-opacity="0.4"/>
<circle cx="127.1" cy="271.6" r="0.5" fill="#5a6060" fill-opacity="0.85"/>
<circle cx="119.0" cy="257.3" r="0.3" fill="#5a6060" fill-opacity="0.85"/>
<circle cx="127.4" cy="266.9" r="0.4" fill="#5a6060" fill-opacity="0.85"/>
<circle cx="102.8" cy="272.6" r="0.5" fill="#5a6060" fill-opacity="0.6"/>
<circle cx="103.2" cy="260.9" r="0.4" fill="#5a6060" fill-opacity="0.4"/>
<circle cx="120.9" cy="256.7" r="0.4" fill="#5a6060" fill-opacity="0.6"/>
<circle cx="100.0" cy="271.1" r="0.3" fill="#5a6060" fill-opacity="0.85"/>
<circle cx="117.5" cy="271.0" r="0.3" fill="#5a6060" fill-opacity="0.6"/>
<circle cx="119.5" cy="274.3" r="0.4" fill="#5a6060" fill-opacity="0.85"/>
<circle cx="110.7" cy="257.6" r="0.4" fill="#5a6060" fill-opacity="0.6"/>
<circle cx="112.4" cy="248.3" r="0.4" fill="#5a6060" fill-opacity="0.85"/>
<circle cx="103.9" cy="276.9" r="0.4" fill="#5a6060" fill-opacity="0.4"/>
<circle cx="124.1" cy="261.0" r="0.5" fill="#5a6060" fill-opacity="0.6"/>
<circle cx="109.2" cy="257.1" r="0.4" fill="#5a6060" fill-opacity="0.6"/>
<circle cx="98.7" cy="263.8" r="0.4" fill="#5a6060" fill-opacity="0.85"/>
<circle cx="125.7" cy="253.4" r="0.4" fill="#5a6060" fill-opacity="0.6"/>
<circle cx="99.3" cy="257.4" r="0.5" fill="#5a6060" fill-opacity="0.6"/>
<circle cx="106.1" cy="264.6" r="0.4" fill="#5a6060" fill-opacity="0.85"/>
<circle cx="121.9" cy="250.6" r="0.5" fill="#5a6060" fill-opacity="0.6"/>
<circle cx="115.6" cy="252.6" r="0.4" fill="#5a6060" fill-opacity="0.85"/>
<circle cx="120.1" cy="253.1" r="0.5" fill="#5a6060" fill-opacity="0.85"/>
<circle cx="106.0" cy="256.9" r="0.5" fill="#5a6060" fill-opacity="0.4"/>
<circle cx="103.8" cy="264.6" r="0.5" fill="#5a6060" fill-opacity="0.85"/>
<circle cx="124.9" cy="254.0" r="0.4" fill="#5a6060" fill-opacity="0.85"/>
<circle cx="129.1" cy="264.7" r="0.5" fill="#5a6060" fill-opacity="0.4"/>
<circle cx="126.6" cy="268.7" r="0.4" fill="#5a6060" fill-opacity="0.85"/>
<circle cx="116.2" cy="279.2" r="0.3" fill="#5a6060" fill-opacity="0.85"/>
<circle cx="119.6" cy="270.3" r="0.3" fill="#5a6060" fill-opacity="0.4"/>
<circle cx="101.4" cy="270.4" r="0.3" fill="#5a6060" fill-opacity="0.4"/>
<circle cx="109.4" cy="269.1" r="0.5" fill="#5a6060" fill-opacity="0.4"/>
<circle cx="128.1" cy="271.9" r="0.3" fill="#5a6060" fill-opacity="0.4"/>
<circle cx="113.6" cy="261.5" r="0.4" fill="#5a6060" fill-opacity="0.4"/>
<circle cx="116.5" cy="257.9" r="0.3" fill="#5a6060" fill-opacity="0.85"/>
<circle cx="110.2" cy="254.3" r="0.3" fill="#5a6060" fill-opacity="0.4"/>
<circle cx="115.8" cy="266.5" r="0.4" fill="#5a6060" fill-opacity="0.85"/>
<circle cx="103.9" cy="253.6" r="0.4" fill="#5a6060" fill-opacity="0.6"/>
<circle cx="104.7" cy="264.5" r="0.5" fill="#5a6060" fill-opacity="0.85"/>
<circle cx="112.9" cy="248.3" r="0.4" fill="#5a6060" fill-opacity="0.85"/>
<circle cx="110.8" cy="253.0" r="0.3" fill="#5a6060" fill-opacity="0.4"/>
<circle cx="108.9" cy="256.0" r="0.3" fill="#5a6060" fill-opacity="0.4"/>
<circle cx="99.1" cy="268.9" r="0.3" fill="#5a6060" fill-opacity="0.85"/>
<circle cx="104.9" cy="258.6" r="0.5" fill="#5a6060" fill-opacity="0.6"/>
<circle cx="124.1" cy="276.6" r="0.4" fill="#5a6060" fill-opacity="0.6"/>
<circle cx="105.4" cy="257.3" r="0.3" fill="#5a6060" fill-opacity="0.85"/>
<circle cx="108.1" cy="261.7" r="0.3" fill="#5a6060" fill-opacity="0.6"/>
<circle cx="120.5" cy="265.3" r="0.3" fill="#5a6060" fill-opacity="0.6"/>
<circle cx="106.1" cy="255.1" r="0.5" fill="#5a6060" fill-opacity="0.4"/>
<circle cx="122.0" cy="263.6" r="0.4" fill="#5a6060" fill-opacity="0.4"/>
<circle cx="113.9" cy="276.6" r="0.5" fill="#5a6060" fill-opacity="0.85"/>
<circle cx="111.8" cy="255.8" r="0.4" fill="#5a6060" fill-opacity="0.6"/>
<circle cx="112.8" cy="263.7" r="0.3" fill="#5a6060" fill-opacity="0.6"/>
<circle cx="109.3" cy="266.9" r="0.5" fill="#5a6060" fill-opacity="0.4"/>
<circle cx="114.3" cy="269.1" r="0.3" fill="#5a6060" fill-opacity="0.4"/>
<circle cx="116.0" cy="265.5" r="0.5" fill="#5a6060" fill-opacity="0.6"/>
<ellipse cx="64.0" cy="313.2" rx="22.0" ry="22.200000000000003" fill="#8d9d9b" stroke="#5e6e6d" stroke-width="0.8"/>
<ellipse cx="64.0" cy="313.2" rx="21.099999999999998" ry="21.3" fill="#aebcba"/>
<ellipse cx="64.0" cy="313.2" rx="20.299999999999997" ry="20.5" fill="#6a7a79"/>
<ellipse cx="64.4" cy="313.09999999999997" rx="19.799999999999997" ry="20.0" fill="#2e3838"/>
<ellipse cx="64.8" cy="313.0" rx="18.7" ry="18.900000000000002" fill="url(#dishin)"/>
<circle cx="65.7" cy="325.5" r="0.4" fill="#5a6060" fill-opacity="0.85"/>
<circle cx="52.1" cy="315.1" r="0.5" fill="#5a6060" fill-opacity="0.4"/>
<circle cx="74.5" cy="306.7" r="0.5" fill="#5a6060" fill-opacity="0.4"/>
<circle cx="69.9" cy="326.5" r="0.5" fill="#5a6060" fill-opacity="0.85"/>
<circle cx="51.4" cy="315.0" r="0.3" fill="#5a6060" fill-opacity="0.4"/>
<circle cx="54.4" cy="301.1" r="0.5" fill="#5a6060" fill-opacity="0.6"/>
<circle cx="64.0" cy="299.0" r="0.3" fill="#5a6060" fill-opacity="0.4"/>
<circle cx="65.5" cy="299.9" r="0.4" fill="#5a6060" fill-opacity="0.4"/>
<circle cx="68.7" cy="305.1" r="0.5" fill="#5a6060" fill-opacity="0.85"/>
<circle cx="74.0" cy="307.9" r="0.4" fill="#5a6060" fill-opacity="0.6"/>
<circle cx="63.0" cy="300.2" r="0.3" fill="#5a6060" fill-opacity="0.6"/>
<circle cx="69.9" cy="316.6" r="0.3" fill="#5a6060" fill-opacity="0.6"/>
<circle cx="75.7" cy="310.6" r="0.5" fill="#5a6060" fill-opacity="0.6"/>
<circle cx="51.2" cy="320.4" r="0.5" fill="#5a6060" fill-opacity="0.6"/>
<circle cx="54.3" cy="310.7" r="0.3" fill="#5a6060" fill-opacity="0.6"/>
<circle cx="58.0" cy="298.0" r="0.4" fill="#5a6060" fill-opacity="0.85"/>
<circle cx="61.6" cy="306.9" r="0.4" fill="#5a6060" fill-opacity="0.85"/>
<circle cx="75.3" cy="305.7" r="0.5" fill="#5a6060" fill-opacity="0.85"/>
<circle cx="68.5" cy="328.1" r="0.5" fill="#5a6060" fill-opacity="0.6"/>
<circle cx="63.9" cy="317.2" r="0.5" fill="#5a6060" fill-opacity="0.6"/>
<circle cx="77.6" cy="321.1" r="0.4" fill="#5a6060" fill-opacity="0.4"/>
<circle cx="75.8" cy="314.4" r="0.4" fill="#5a6060" fill-opacity="0.4"/>
<circle cx="77.5" cy="316.7" r="0.3" fill="#5a6060" fill-opacity="0.6"/>
<circle cx="62.9" cy="303.4" r="0.4" fill="#5a6060" fill-opacity="0.85"/>
<circle cx="65.1" cy="316.2" r="0.3" fill="#5a6060" fill-opacity="0.4"/>
<circle cx="74.4" cy="320.8" r="0.3" fill="#5a6060" fill-opacity="0.6"/>
<circle cx="62.6" cy="321.5" r="0.5" fill="#5a6060" fill-opacity="0.4"/>
<circle cx="74.6" cy="311.7" r="0.4" fill="#5a6060" fill-opacity="0.4"/>
<circle cx="73.1" cy="306.7" r="0.4" fill="#5a6060" fill-opacity="0.85"/>
<circle cx="52.9" cy="323.4" r="0.5" fill="#5a6060" fill-opacity="0.85"/>
<circle cx="78.1" cy="323.1" r="0.5" fill="#5a6060" fill-opacity="0.6"/>
<circle cx="51.8" cy="319.1" r="0.3" fill="#5a6060" fill-opacity="0.6"/>
<circle cx="56.9" cy="316.3" r="0.4" fill="#5a6060" fill-opacity="0.85"/>
<circle cx="56.8" cy="325.8" r="0.5" fill="#5a6060" fill-opacity="0.6"/>
<circle cx="78.0" cy="314.7" r="0.5" fill="#5a6060" fill-opacity="0.4"/>
<circle cx="77.2" cy="318.0" r="0.4" fill="#5a6060" fill-opacity="0.6"/>
<circle cx="60.5" cy="303.9" r="0.5" fill="#5a6060" fill-opacity="0.6"/>
<circle cx="64.6" cy="310.5" r="0.3" fill="#5a6060" fill-opacity="0.85"/>
<circle cx="75.0" cy="314.4" r="0.5" fill="#5a6060" fill-opacity="0.6"/>
<circle cx="60.9" cy="325.6" r="0.3" fill="#5a6060" fill-opacity="0.6"/>
<circle cx="70.6" cy="326.6" r="0.5" fill="#5a6060" fill-opacity="0.6"/>
<circle cx="61.6" cy="323.0" r="0.3" fill="#5a6060" fill-opacity="0.85"/>
<circle cx="62.3" cy="307.3" r="0.5" fill="#5a6060" fill-opacity="0.4"/>
<circle cx="59.8" cy="305.7" r="0.4" fill="#5a6060" fill-opacity="0.4"/>
<circle cx="58.8" cy="300.6" r="0.3" fill="#5a6060" fill-opacity="0.4"/>
<circle cx="51.5" cy="303.2" r="0.5" fill="#5a6060" fill-opacity="0.4"/>
<circle cx="50.3" cy="319.0" r="0.3" fill="#5a6060" fill-opacity="0.4"/>
<circle cx="57.7" cy="324.8" r="0.5" fill="#5a6060" fill-opacity="0.6"/>
<circle cx="62.9" cy="328.0" r="0.3" fill="#5a6060" fill-opacity="0.85"/>
<circle cx="74.0" cy="310.5" r="0.5" fill="#5a6060" fill-opacity="0.4"/>
<circle cx="71.3" cy="305.5" r="0.5" fill="#5a6060" fill-opacity="0.4"/>
<circle cx="68.2" cy="303.6" r="0.3" fill="#5a6060" fill-opacity="0.6"/>
<circle cx="60.9" cy="327.7" r="0.4" fill="#5a6060" fill-opacity="0.6"/>
<circle cx="58.6" cy="322.1" r="0.4" fill="#5a6060" fill-opacity="0.85"/>
<circle cx="51.1" cy="321.8" r="0.3" fill="#5a6060" fill-opacity="0.4"/>
<ellipse cx="112.7" cy="313.6" rx="21.900000000000002" ry="21.6" fill="#8d9d9b" stroke="#5e6e6d" stroke-width="0.8"/>
<ellipse cx="112.7" cy="313.6" rx="21.0" ry="20.7" fill="#aebcba"/>
<ellipse cx="112.7" cy="313.6" rx="20.2" ry="19.9" fill="#6a7a79"/>
<ellipse cx="113.3" cy="313.95000000000005" rx="19.7" ry="19.4" fill="#2e3838"/>
<ellipse cx="113.9" cy="314.3" rx="18.6" ry="18.3" fill="url(#dishin)"/>
<circle cx="114.4" cy="319.6" r="0.4" fill="#5a6060" fill-opacity="0.6"/>
<circle cx="116.3" cy="317.8" r="0.4" fill="#5a6060" fill-opacity="0.85"/>
<circle cx="127.0" cy="307.0" r="0.3" fill="#5a6060" fill-opacity="0.4"/>
<circle cx="103.9" cy="313.0" r="0.3" fill="#5a6060" fill-opacity="0.4"/>
<circle cx="112.7" cy="330.4" r="0.3" fill="#5a6060" fill-opacity="0.85"/>
<circle cx="119.1" cy="300.4" r="0.3" fill="#5a6060" fill-opacity="0.4"/>
<circle cx="109.0" cy="326.5" r="0.5" fill="#5a6060" fill-opacity="0.6"/>
<circle cx="125.1" cy="321.0" r="0.5" fill="#5a6060" fill-opacity="0.6"/>
<circle cx="106.8" cy="314.0" r="0.4" fill="#5a6060" fill-opacity="0.6"/>
<circle cx="127.6" cy="322.8" r="0.5" fill="#5a6060" fill-opacity="0.6"/>
<circle cx="123.0" cy="314.7" r="0.5" fill="#5a6060" fill-opacity="0.6"/>
<circle cx="120.8" cy="304.7" r="0.4" fill="#5a6060" fill-opacity="0.6"/>
<circle cx="104.9" cy="308.0" r="0.3" fill="#5a6060" fill-opacity="0.4"/>
<circle cx="108.8" cy="328.4" r="0.3" fill="#5a6060" fill-opacity="0.4"/>
<circle cx="126.6" cy="318.1" r="0.4" fill="#5a6060" fill-opacity="0.85"/>
<circle cx="102.6" cy="311.8" r="0.4" fill="#5a6060" fill-opacity="0.4"/>
<circle cx="121.3" cy="314.2" r="0.4" fill="#5a6060" fill-opacity="0.4"/>
<circle cx="106.5" cy="306.0" r="0.3" fill="#5a6060" fill-opacity="0.6"/>
<circle cx="102.0" cy="319.3" r="0.5" fill="#5a6060" fill-opacity="0.85"/>
<circle cx="116.9" cy="323.2" r="0.3" fill="#5a6060" fill-opacity="0.85"/>
<circle cx="115.8" cy="328.7" r="0.5" fill="#5a6060" fill-opacity="0.4"/>
<circle cx="125.6" cy="325.4" r="0.4" fill="#5a6060" fill-opacity="0.6"/>
<circle cx="123.8" cy="315.9" r="0.3" fill="#5a6060" fill-opacity="0.6"/>
<circle cx="112.3" cy="298.1" r="0.3" fill="#5a6060" fill-opacity="0.6"/>
<circle cx="109.9" cy="330.1" r="0.5" fill="#5a6060" fill-opacity="0.6"/>
<circle cx="124.0" cy="302.5" r="0.5" fill="#5a6060" fill-opacity="0.4"/>
<circle cx="111.9" cy="321.3" r="0.4" fill="#5a6060" fill-opacity="0.6"/>
<circle cx="120.7" cy="322.0" r="0.3" fill="#5a6060" fill-opacity="0.6"/>
<circle cx="104.8" cy="309.9" r="0.4" fill="#5a6060" fill-opacity="0.4"/>
<circle cx="103.9" cy="325.4" r="0.4" fill="#5a6060" fill-opacity="0.85"/>
<circle cx="127.5" cy="323.7" r="0.4" fill="#5a6060" fill-opacity="0.4"/>
<circle cx="117.1" cy="317.0" r="0.5" fill="#5a6060" fill-opacity="0.4"/>
<circle cx="100.2" cy="305.1" r="0.5" fill="#5a6060" fill-opacity="0.4"/>
<circle cx="101.6" cy="310.7" r="0.4" fill="#5a6060" fill-opacity="0.4"/>
<circle cx="122.7" cy="322.7" r="0.4" fill="#5a6060" fill-opacity="0.85"/>
<circle cx="125.5" cy="313.4" r="0.3" fill="#5a6060" fill-opacity="0.6"/>
<circle cx="111.2" cy="316.0" r="0.4" fill="#5a6060" fill-opacity="0.6"/>
<circle cx="114.0" cy="329.9" r="0.3" fill="#5a6060" fill-opacity="0.6"/>
<circle cx="115.1" cy="317.2" r="0.4" fill="#5a6060" fill-opacity="0.4"/>
<circle cx="99.3" cy="312.0" r="0.4" fill="#5a6060" fill-opacity="0.6"/>
<circle cx="116.3" cy="317.2" r="0.4" fill="#5a6060" fill-opacity="0.85"/>
<circle cx="123.3" cy="322.7" r="0.5" fill="#5a6060" fill-opacity="0.85"/>
<circle cx="123.7" cy="304.1" r="0.3" fill="#5a6060" fill-opacity="0.6"/>
<circle cx="105.5" cy="321.4" r="0.5" fill="#5a6060" fill-opacity="0.4"/>
<circle cx="106.9" cy="325.8" r="0.5" fill="#5a6060" fill-opacity="0.6"/>
<circle cx="118.7" cy="303.2" r="0.5" fill="#5a6060" fill-opacity="0.85"/>
<circle cx="117.0" cy="305.1" r="0.4" fill="#5a6060" fill-opacity="0.6"/>
<circle cx="128.7" cy="321.7" r="0.5" fill="#5a6060" fill-opacity="0.85"/>
<circle cx="117.7" cy="324.0" r="0.5" fill="#5a6060" fill-opacity="0.4"/>
<circle cx="114.8" cy="305.7" r="0.3" fill="#5a6060" fill-opacity="0.4"/>
<circle cx="109.5" cy="303.9" r="0.4" fill="#5a6060" fill-opacity="0.85"/>
<circle cx="105.3" cy="320.2" r="0.3" fill="#5a6060" fill-opacity="0.4"/>
<circle cx="115.6" cy="313.4" r="0.4" fill="#5a6060" fill-opacity="0.4"/>
<circle cx="102.2" cy="323.2" r="0.4" fill="#5a6060" fill-opacity="0.4"/>
<circle cx="98.9" cy="309.4" r="0.3" fill="#5a6060" fill-opacity="0.4"/>
<text x="207.7" y="220.2" font-size="9.8" text-anchor="middle" fill="#222" textLength="70.6" lengthAdjust="spacingAndGlyphs" stroke="none">Colony numbers</text>
<line x1="184.5" y1="229.2" x2="184.5" y2="334.1" stroke="#111" stroke-width="1.3" />
<line x1="184" y1="333.5" x2="230.8" y2="333.5" stroke="#111" stroke-width="1.3" />
<line x1="180.8" y1="229.9" x2="184.5" y2="229.9" stroke="#111" stroke-width="1.1" />
<text x="178.0" y="232.5" font-size="8.7" text-anchor="end" fill="#222" textLength="15.6" lengthAdjust="spacingAndGlyphs"  stroke="#222" stroke-width="0.22">1.25</text>
<line x1="180.8" y1="255.8" x2="184.5" y2="255.8" stroke="#111" stroke-width="1.1" />
<text x="178.0" y="258.40000000000003" font-size="8.7" text-anchor="end" fill="#222" textLength="15.6" lengthAdjust="spacingAndGlyphs"  stroke="#222" stroke-width="0.22">1.00</text>
<line x1="180.8" y1="281.7" x2="184.5" y2="281.7" stroke="#111" stroke-width="1.1" />
<text x="178.0" y="284.3" font-size="8.7" text-anchor="end" fill="#222" textLength="15.6" lengthAdjust="spacingAndGlyphs"  stroke="#222" stroke-width="0.22">0.75</text>
<line x1="180.8" y1="307.6" x2="184.5" y2="307.6" stroke="#111" stroke-width="1.1" />
<text x="178.0" y="310.20000000000005" font-size="8.7" text-anchor="end" fill="#222" textLength="15.6" lengthAdjust="spacingAndGlyphs"  stroke="#222" stroke-width="0.22">0.50</text>
<line x1="180.8" y1="333.5" x2="184.5" y2="333.5" stroke="#111" stroke-width="1.1" />
<text x="178.0" y="336.1" font-size="8.7" text-anchor="end" fill="#222" textLength="15.6" lengthAdjust="spacingAndGlyphs"  stroke="#222" stroke-width="0.22">0.25</text>
<rect x="191.0" y="272.5" width="13.0" height="61.0" fill="#bac9cf"/>
<rect x="211.1" y="302.6" width="13.0" height="30.899999999999977" fill="#0634b2"/>
<line x1="197.6" y1="262.9" x2="197.6" y2="281.9" stroke="#111" stroke-width="1.3" />
<line x1="195.4" y1="262.9" x2="199.79999999999998" y2="262.9" stroke="#111" stroke-width="1.3" />
<line x1="195.4" y1="281.9" x2="199.79999999999998" y2="281.9" stroke="#111" stroke-width="1.3" />
<line x1="217.6" y1="296.5" x2="217.6" y2="302.6" stroke="#111" stroke-width="1.3" />
<line x1="215.4" y1="296.5" x2="219.8" y2="296.5" stroke="#111" stroke-width="1.3" />
<line x1="196.4" y1="239" x2="217.4" y2="239" stroke="#111" stroke-width="1.3" />
<text x="207.4" y="241.2" font-size="10" text-anchor="middle" fill="#111" font-weight="bold" >*</text>
<circle cx="194.7" cy="249.1" r="1.5" fill="#fff" stroke="#000" stroke-width="0.7"/>
<circle cx="200.8" cy="251.0" r="1.5" fill="#fff" stroke="#000" stroke-width="0.7"/>
<circle cx="197.6" cy="279.6" r="1.5" fill="#fff" stroke="#000" stroke-width="0.7"/>
<circle cx="197.6" cy="287.6" r="1.5" fill="#fff" stroke="#000" stroke-width="0.7"/>
<circle cx="197.6" cy="293.2" r="1.5" fill="#fff" stroke="#000" stroke-width="0.7"/>
<circle cx="217.4" cy="276.6" r="1.5" fill="#1536c8" stroke="#000" stroke-width="0.7"/>
<circle cx="217.4" cy="290.9" r="1.5" fill="#1536c8" stroke="#000" stroke-width="0.7"/>
<circle cx="213.2" cy="310.0" r="1.5" fill="#1536c8" stroke="#000" stroke-width="0.7"/>
<circle cx="217.6" cy="305.6" r="1.5" fill="#1536c8" stroke="#000" stroke-width="0.7"/>
<circle cx="221.6" cy="309.6" r="1.5" fill="#1536c8" stroke="#000" stroke-width="0.7"/>
<circle cx="213.8" cy="315.0" r="1.5" fill="#1536c8" stroke="#000" stroke-width="0.7"/>
<circle cx="219.6" cy="315.2" r="1.5" fill="#1536c8" stroke="#000" stroke-width="0.7"/>
<line x1="197.5" y1="333.5" x2="197.5" y2="337.6" stroke="#111" stroke-width="1.1" />
<line x1="217.3" y1="333.5" x2="217.3" y2="337.6" stroke="#111" stroke-width="1.1" />
<text transform="translate(199.8,346.2) rotate(-30)" font-size="9.4" text-anchor="end" fill="#222" textLength="10.2" lengthAdjust="spacingAndGlyphs" stroke="#222" stroke-width="0.22">Wt</text>
<g transform="translate(207.8,356.4) rotate(-30)"><text x="0" y="0" font-size="9.4" text-anchor="end" fill="#222" textLength="18.6" lengthAdjust="spacingAndGlyphs" stroke="#222" stroke-width="0.22">JAK2</text><text x="0.3" y="-3.9" font-size="7.2" fill="#222" textLength="16" lengthAdjust="spacingAndGlyphs" stroke="#222" stroke-width="0.22">V617F</text></g>
<text transform="translate(156.4,282) rotate(-90)" font-size="9.4" text-anchor="middle" fill="#222" textLength="72" lengthAdjust="spacingAndGlyphs" stroke="#222" stroke-width="0.22">fc colony nr aCD9/IgG</text>
<text x="319.7" y="220.0" font-size="9.8" text-anchor="middle" fill="#222" textLength="15.8" lengthAdjust="spacingAndGlyphs" stroke="none">LSK</text>
<line x1="294.5" y1="229" x2="294.5" y2="333.6" stroke="#111" stroke-width="1.3" />
<line x1="293.9" y1="333.0" x2="344.6" y2="333.0" stroke="#111" stroke-width="1.3" />
<line x1="290.8" y1="229.4" x2="294.5" y2="229.4" stroke="#111" stroke-width="1.1" />
<text x="288.6" y="232.0" font-size="8.7" text-anchor="end" fill="#222" textLength="10.6" lengthAdjust="spacingAndGlyphs"  stroke="#222" stroke-width="0.22">2.0</text>
<line x1="290.8" y1="255.3" x2="294.5" y2="255.3" stroke="#111" stroke-width="1.1" />
<text x="288.6" y="257.90000000000003" font-size="8.7" text-anchor="end" fill="#222" textLength="10.6" lengthAdjust="spacingAndGlyphs"  stroke="#222" stroke-width="0.22">1.5</text>
<line x1="290.8" y1="281.2" x2="294.5" y2="281.2" stroke="#111" stroke-width="1.1" />
<text x="288.6" y="283.8" font-size="8.7" text-anchor="end" fill="#222" textLength="10.6" lengthAdjust="spacingAndGlyphs"  stroke="#222" stroke-width="0.22">1.0</text>
<line x1="290.8" y1="307.1" x2="294.5" y2="307.1" stroke="#111" stroke-width="1.1" />
<text x="288.6" y="309.70000000000005" font-size="8.7" text-anchor="end" fill="#222" textLength="10.6" lengthAdjust="spacingAndGlyphs"  stroke="#222" stroke-width="0.22">0.5</text>
<line x1="290.8" y1="333.0" x2="294.5" y2="333.0" stroke="#111" stroke-width="1.1" />
<text x="288.6" y="335.6" font-size="8.7" text-anchor="end" fill="#222" textLength="10.6" lengthAdjust="spacingAndGlyphs"  stroke="#222" stroke-width="0.22">0.0</text>
<rect x="301.6" y="261.2" width="14.099999999999966" height="71.80000000000001" fill="#bac9cf"/>
<rect x="322.7" y="292.8" width="14.100000000000023" height="40.19999999999999" fill="#0634b2"/>
<line x1="308.6" y1="244.4" x2="308.6" y2="277" stroke="#111" stroke-width="1.3" />
<line x1="306.40000000000003" y1="244.4" x2="310.8" y2="244.4" stroke="#111" stroke-width="1.3" />
<line x1="306.40000000000003" y1="277" x2="310.8" y2="277" stroke="#111" stroke-width="1.3" />
<line x1="330.0" y1="275.8" x2="330.0" y2="310.0" stroke="#111" stroke-width="1.3" />
<line x1="327.8" y1="275.8" x2="332.2" y2="275.8" stroke="#111" stroke-width="1.3" />
<line x1="327.8" y1="310.0" x2="332.2" y2="310.0" stroke="#111" stroke-width="1.3" />
<line x1="310" y1="234" x2="330.8" y2="234" stroke="#111" stroke-width="1.3" />
<text x="321" y="236.4" font-size="10" text-anchor="middle" fill="#111" font-weight="bold" >*</text>
<circle cx="308.6" cy="238.6" r="1.5" fill="#fff" stroke="#000" stroke-width="0.7"/>
<circle cx="308.6" cy="249.0" r="1.5" fill="#fff" stroke="#000" stroke-width="0.7"/>
<circle cx="308.6" cy="267.6" r="1.5" fill="#fff" stroke="#000" stroke-width="0.7"/>
<circle cx="305.8" cy="276.2" r="1.5" fill="#fff" stroke="#000" stroke-width="0.7"/>
<circle cx="308.6" cy="276.8" r="1.5" fill="#fff" stroke="#000" stroke-width="0.7"/>
<circle cx="311.6" cy="276.2" r="1.5" fill="#fff" stroke="#000" stroke-width="0.7"/>
<circle cx="326.9" cy="276.5" r="1.5" fill="#1536c8" stroke="#000" stroke-width="0.7"/>
<circle cx="333.0" cy="274.0" r="1.5" fill="#1536c8" stroke="#000" stroke-width="0.7"/>
<circle cx="330" cy="287.3" r="1.5" fill="#1536c8" stroke="#000" stroke-width="0.7"/>
<circle cx="330" cy="295.3" r="1.5" fill="#1536c8" stroke="#000" stroke-width="0.7"/>
<circle cx="326.5" cy="312.5" r="1.5" fill="#1536c8" stroke="#000" stroke-width="0.7"/>
<circle cx="332.5" cy="310.6" r="1.5" fill="#1536c8" stroke="#000" stroke-width="0.7"/>
<line x1="308.6" y1="333" x2="308.6" y2="337" stroke="#111" stroke-width="1.1" />
<line x1="330" y1="333" x2="330" y2="337" stroke="#111" stroke-width="1.1" />
<text transform="translate(310.9,345.7) rotate(-30)" font-size="9.4" text-anchor="end" fill="#222" textLength="10.2" lengthAdjust="spacingAndGlyphs" stroke="#222" stroke-width="0.22">Wt</text>
<g transform="translate(320.5,355.9) rotate(-30)"><text x="0" y="0" font-size="9.4" text-anchor="end" fill="#222" textLength="18.6" lengthAdjust="spacingAndGlyphs" stroke="#222" stroke-width="0.22">JAK2</text><text x="0.3" y="-3.9" font-size="7.2" fill="#222" textLength="16" lengthAdjust="spacingAndGlyphs" stroke="#222" stroke-width="0.22">V617F</text></g>
<text transform="translate(271.5,281.3) rotate(-90)" font-size="9.4" text-anchor="middle" fill="#222" textLength="39.5" lengthAdjust="spacingAndGlyphs" stroke="#222" stroke-width="0.22">fc aCD9/IgG</text>
<text x="424.2" y="211.7" font-size="10" text-anchor="start" fill="#222" textLength="21.9" lengthAdjust="spacingAndGlyphs" stroke="none">JAK2</text>
<text x="446.7" y="208.4" font-size="5.6" text-anchor="start" fill="#222" textLength="14.8" lengthAdjust="spacingAndGlyphs" stroke="none">V617F</text>
<rect x="385.9" y="215.3" width="57.60000000000002" height="56.39999999999998" fill="none" stroke="#000" stroke-width="1.3"/>
<rect x="446.9" y="215.3" width="57.0" height="56.39999999999998" fill="none" stroke="#000" stroke-width="1.3"/>
<rect x="385.9" y="286.7" width="57.900000000000034" height="56.69999999999999" fill="none" stroke="#000" stroke-width="1.3"/>
<rect x="446.9" y="286.7" width="57.10000000000002" height="56.69999999999999" fill="none" stroke="#000" stroke-width="1.3"/>
<line x1="382.4" y1="215" x2="382.4" y2="275.8" stroke="#000" stroke-width="1.3" />
<path d="M379.9,215.5 L382.4,211 L384.9,215.5 Z" fill="#000"/>
<line x1="381.8" y1="275.8" x2="505.5" y2="275.8" stroke="#000" stroke-width="1.3" />
<path d="M505,273.3 L509.8,275.8 L505,278.3 Z" fill="#000"/>
<line x1="382.4" y1="286" x2="382.4" y2="347.4" stroke="#000" stroke-width="1.3" />
<path d="M379.9,286.5 L382.4,282 L384.9,286.5 Z" fill="#000"/>
<line x1="381.8" y1="347.4" x2="505.5" y2="347.4" stroke="#000" stroke-width="1.3" />
<path d="M505,344.9 L509.8,347.4 L505,349.9 Z" fill="#000"/>
<text x="389.8" y="225.2" font-size="9.2" text-anchor="start" fill="#222" textLength="17.3" lengthAdjust="spacingAndGlyphs"  stroke="#222" stroke-width="0.22">+IgG</text>
<text x="450.2" y="226.0" font-size="9.2" text-anchor="start" fill="#222" textLength="25.4" lengthAdjust="spacingAndGlyphs"  stroke="#222" stroke-width="0.22">+aCD9</text>
<text x="389.9" y="296.0" font-size="9.2" text-anchor="start" fill="#222" textLength="17.5" lengthAdjust="spacingAndGlyphs"  stroke="#222" stroke-width="0.22">+IgG</text>
<text x="450.7" y="297.1" font-size="9.2" text-anchor="start" fill="#222" textLength="25.2" lengthAdjust="spacingAndGlyphs"  stroke="#222" stroke-width="0.22">+aCD9</text>
<text x="386.2" y="284.8" font-size="8.6" text-anchor="start" fill="#222" textLength="18.4" lengthAdjust="spacingAndGlyphs"  stroke="#222" stroke-width="0.22">Sca-1</text>
<text x="386.2" y="357.3" font-size="8.6" text-anchor="start" fill="#222" textLength="23" lengthAdjust="spacingAndGlyphs"  stroke="#222" stroke-width="0.22">FSC-A</text>
<text transform="translate(377.2,263.6) rotate(-90)" font-size="8.6" text-anchor="middle" fill="#222" stroke="#222" stroke-width="0.22">c-kit</text>
<text transform="translate(377.2,332) rotate(-90)" font-size="8.6" text-anchor="middle" fill="#222" stroke="#222" stroke-width="0.22">CD11b</text>
<rect x="392.9" y="262.1" width="0.8" height="0.8" fill="#b4bcc4"/>
<rect x="423.3" y="254.0" width="0.8" height="0.8" fill="#b4bcc4"/>
<rect x="388.8" y="250.4" width="0.8" height="0.8" fill="#b4bcc4"/>
<rect x="398.3" y="238.5" width="0.8" height="0.8" fill="#b4bcc4"/>
<rect x="423.8" y="247.5" width="0.8" height="0.8" fill="#b4bcc4"/>
<rect x="426.2" y="241.6" width="0.8" height="0.8" fill="#b4bcc4"/>
<rect x="409.6" y="263.6" width="0.8" height="0.8" fill="#b4bcc4"/>
<rect x="439.7" y="263.7" width="0.8" height="0.8" fill="#b4bcc4"/>
<rect x="399.3" y="266.3" width="0.8" height="0.8" fill="#b4bcc4"/>
<rect x="440.9" y="245.0" width="0.8" height="0.8" fill="#b4bcc4"/>
<rect x="422.0" y="260.8" width="0.8" height="0.8" fill="#b4bcc4"/>
<rect x="397.6" y="251.7" width="0.8" height="0.8" fill="#b4bcc4"/>
<rect x="398.3" y="258.9" width="0.8" height="0.8" fill="#b4bcc4"/>
<rect x="405.8" y="240.8" width="0.8" height="0.8" fill="#b4bcc4"/>
<rect x="392.9" y="252.7" width="0.8" height="0.8" fill="#b4bcc4"/>
<rect x="437.1" y="262.4" width="0.8" height="0.8" fill="#b4bcc4"/>
<rect x="420.6" y="246.0" width="0.8" height="0.8" fill="#b4bcc4"/>
<rect x="390.1" y="268.5" width="0.8" height="0.8" fill="#b4bcc4"/>
<rect x="420.2" y="240.7" width="0.8" height="0.8" fill="#b4bcc4"/>
<rect x="403.1" y="266.6" width="0.8" height="0.8" fill="#b4bcc4"/>
<rect x="388.9" y="239.7" width="0.8" height="0.8" fill="#b4bcc4"/>
<rect x="391.3" y="235.8" width="0.8" height="0.8" fill="#b4bcc4"/>
<rect x="425.3" y="252.8" width="0.8" height="0.8" fill="#b4bcc4"/>
<rect x="425.9" y="268.5" width="0.8" height="0.8" fill="#b4bcc4"/>
<rect x="405.2" y="270.0" width="0.8" height="0.8" fill="#b4bcc4"/>
<rect x="411.8" y="263.3" width="0.8" height="0.8" fill="#b4bcc4"/>
<rect x="401.8" y="229.0" width="0.8" height="0.8" fill="#b4bcc4"/>
<rect x="424.6" y="236.9" width="0.8" height="0.8" fill="#b4bcc4"/>
<rect x="419.5" y="241.6" width="0.8" height="0.8" fill="#b4bcc4"/>
<rect x="426.4" y="267.9" width="0.8" height="0.8" fill="#b4bcc4"/>
<rect x="397.1" y="247.2" width="0.8" height="0.8" fill="#b4bcc4"/>
<rect x="441.0" y="247.3" width="0.8" height="0.8" fill="#b4bcc4"/>
<rect x="389.7" y="264.7" width="0.8" height="0.8" fill="#b4bcc4"/>
<rect x="426.3" y="252.2" width="0.8" height="0.8" fill="#b4bcc4"/>
<rect x="400.8" y="234.3" width="0.8" height="0.8" fill="#b4bcc4"/>
<rect x="406.7" y="257.4" width="0.8" height="0.8" fill="#b4bcc4"/>
<rect x="421.2" y="259.9" width="0.8" height="0.8" fill="#b4bcc4"/>
<rect x="430.8" y="266.1" width="0.8" height="0.8" fill="#b4bcc4"/>
<rect x="438.4" y="258.5" width="0.8" height="0.8" fill="#b4bcc4"/>
<rect x="389.5" y="262.1" width="0.8" height="0.8" fill="#b4bcc4"/>
<rect x="433.6" y="265.9" width="0.8" height="0.8" fill="#b4bcc4"/>
<rect x="415.2" y="253.6" width="0.8" height="0.8" fill="#b4bcc4"/>
<rect x="402.5" y="248.1" width="0.8" height="0.8" fill="#b4bcc4"/>
<rect x="413.7" y="241.7" width="0.8" height="0.8" fill="#b4bcc4"/>
<rect x="421.4" y="266.9" width="0.8" height="0.8" fill="#b4bcc4"/>
<rect x="400.3" y="257.0" width="0.8" height="0.8" fill="#b4bcc4"/>
<rect x="407.2" y="254.2" width="0.8" height="0.8" fill="#b4bcc4"/>
<rect x="416.6" y="235.1" width="0.8" height="0.8" fill="#b4bcc4"/>
<rect x="427.2" y="239.3" width="0.8" height="0.8" fill="#b4bcc4"/>
<rect x="437.2" y="268.7" width="0.8" height="0.8" fill="#b4bcc4"/>
<rect x="425.0" y="236.3" width="0.8" height="0.8" fill="#b4bcc4"/>
<rect x="415.8" y="252.1" width="0.8" height="0.8" fill="#b4bcc4"/>
<rect x="441.5" y="267.0" width="0.8" height="0.8" fill="#b4bcc4"/>
<rect x="391.3" y="268.0" width="0.8" height="0.8" fill="#b4bcc4"/>
<rect x="409.9" y="236.6" width="0.8" height="0.8" fill="#b4bcc4"/>
<rect x="422.5" y="254.4" width="0.8" height="0.8" fill="#b4bcc4"/>
<rect x="401.9" y="245.2" width="0.8" height="0.8" fill="#b4bcc4"/>
<rect x="398.6" y="244.1" width="0.8" height="0.8" fill="#b4bcc4"/>
<rect x="401.5" y="266.1" width="0.8" height="0.8" fill="#b4bcc4"/>
<rect x="390.4" y="267.1" width="0.8" height="0.8" fill="#b4bcc4"/>
<rect x="404.0" y="229.1" width="0.8" height="0.8" fill="#b4bcc4"/>
<rect x="392.0" y="266.1" width="0.8" height="0.8" fill="#b4bcc4"/>
<rect x="413.8" y="268.9" width="0.8" height="0.8" fill="#b4bcc4"/>
<rect x="412.6" y="237.0" width="0.8" height="0.8" fill="#b4bcc4"/>
<rect x="424.1" y="247.4" width="0.8" height="0.8" fill="#b4bcc4"/>
<rect x="427.7" y="238.4" width="0.8" height="0.8" fill="#b4bcc4"/>
<rect x="390.1" y="231.0" width="0.8" height="0.8" fill="#b4bcc4"/>
<rect x="411.0" y="254.4" width="0.8" height="0.8" fill="#b4bcc4"/>
<rect x="417.2" y="231.5" width="0.8" height="0.8" fill="#b4bcc4"/>
<rect x="408.2" y="248.4" width="0.8" height="0.8" fill="#b4bcc4"/>
<rect x="421.7" y="260.4" width="0.8" height="0.8" fill="#b4bcc4"/>
<rect x="393.2" y="264.8" width="0.8" height="0.8" fill="#b4bcc4"/>
<rect x="392.5" y="251.9" width="0.8" height="0.8" fill="#b4bcc4"/>
<rect x="425.5" y="240.2" width="0.8" height="0.8" fill="#b4bcc4"/>
<rect x="407.3" y="258.6" width="0.8" height="0.8" fill="#b4bcc4"/>
<rect x="394.3" y="257.9" width="0.8" height="0.8" fill="#b4bcc4"/>
<rect x="411.7" y="261.8" width="0.8" height="0.8" fill="#b4bcc4"/>
<rect x="407.7" y="243.6" width="0.8" height="0.8" fill="#b4bcc4"/>
<rect x="435.6" y="240.2" width="0.8" height="0.8" fill="#b4bcc4"/>
<rect x="395.8" y="259.5" width="0.8" height="0.8" fill="#b4bcc4"/>
<rect x="416.2" y="260.2" width="0.8" height="0.8" fill="#b4bcc4"/>
<rect x="426.2" y="266.5" width="0.8" height="0.8" fill="#b4bcc4"/>
<rect x="399.0" y="246.1" width="0.8" height="0.8" fill="#b4bcc4"/>
<rect x="419.5" y="266.2" width="0.8" height="0.8" fill="#b4bcc4"/>
<rect x="393.9" y="236.2" width="0.8" height="0.8" fill="#b4bcc4"/>
<rect x="400.7" y="258.3" width="0.8" height="0.8" fill="#b4bcc4"/>
<rect x="400.1" y="236.2" width="0.8" height="0.8" fill="#b4bcc4"/>
<rect x="397.3" y="259.9" width="0.8" height="0.8" fill="#b4bcc4"/>
<rect x="417.6" y="262.4" width="0.8" height="0.8" fill="#b4bcc4"/>
<rect x="414.1" y="237.7" width="0.8" height="0.8" fill="#b4bcc4"/>
<rect x="416.5" y="249.9" width="0.8" height="0.8" fill="#b4bcc4"/>
<rect x="388.6" y="248.1" width="0.8" height="0.8" fill="#b4bcc4"/>
<rect x="396.5" y="235.0" width="0.8" height="0.8" fill="#b4bcc4"/>
<rect x="402.0" y="264.6" width="0.8" height="0.8" fill="#b4bcc4"/>
<rect x="422.4" y="269.7" width="0.8" height="0.8" fill="#b4bcc4"/>
<rect x="410.5" y="266.5" width="0.8" height="0.8" fill="#b4bcc4"/>
<rect x="404.8" y="241.4" width="0.8" height="0.8" fill="#b4bcc4"/>
<rect x="407.4" y="257.0" width="0.8" height="0.8" fill="#b4bcc4"/>
<rect x="432.8" y="255.6" width="0.8" height="0.8" fill="#b4bcc4"/>
<rect x="408.4" y="258.0" width="0.8" height="0.8" fill="#b4bcc4"/>
<rect x="418.5" y="247.5" width="0.8" height="0.8" fill="#b4bcc4"/>
<rect x="441.5" y="261.7" width="0.8" height="0.8" fill="#b4bcc4"/>
<rect x="409.2" y="256.2" width="0.8" height="0.8" fill="#b4bcc4"/>
<rect x="398.8" y="258.9" width="0.8" height="0.8" fill="#b4bcc4"/>
<rect x="405.9" y="262.8" width="0.8" height="0.8" fill="#b4bcc4"/>
<rect x="433.2" y="253.1" width="0.8" height="0.8" fill="#b4bcc4"/>
<rect x="400.2" y="235.0" width="0.8" height="0.8" fill="#b4bcc4"/>
<rect x="405.9" y="245.6" width="0.8" height="0.8" fill="#b4bcc4"/>
<rect x="389.0" y="242.2" width="0.8" height="0.8" fill="#b4bcc4"/>
<rect x="421.9" y="236.7" width="0.8" height="0.8" fill="#b4bcc4"/>
<rect x="405.8" y="267.1" width="0.8" height="0.8" fill="#b4bcc4"/>
<rect x="395.3" y="266.0" width="0.8" height="0.8" fill="#b4bcc4"/>
<rect x="418.3" y="251.8" width="0.8" height="0.8" fill="#b4bcc4"/>
<rect x="403.6" y="265.7" width="0.8" height="0.8" fill="#b4bcc4"/>
<rect x="419.0" y="263.0" width="0.8" height="0.8" fill="#b4bcc4"/>
<rect x="417.6" y="231.7" width="0.8" height="0.8" fill="#b4bcc4"/>
<rect x="402.2" y="252.1" width="0.8" height="0.8" fill="#b4bcc4"/>
<rect x="395.8" y="268.3" width="0.8" height="0.8" fill="#b4bcc4"/>
<rect x="391.8" y="233.7" width="0.8" height="0.8" fill="#b4bcc4"/>
<rect x="415.1" y="245.0" width="0.8" height="0.8" fill="#b4bcc4"/>
<rect x="425.5" y="250.3" width="0.8" height="0.8" fill="#b4bcc4"/>
<rect x="404.5" y="244.9" width="0.8" height="0.8" fill="#b4bcc4"/>
<rect x="423.9" y="264.5" width="0.8" height="0.8" fill="#b4bcc4"/>
<rect x="418.6" y="266.0" width="0.8" height="0.8" fill="#b4bcc4"/>
<rect x="404.2" y="242.0" width="0.8" height="0.8" fill="#b4bcc4"/>
<rect x="407.3" y="252.8" width="0.8" height="0.8" fill="#b4bcc4"/>
<rect x="389.7" y="265.8" width="0.8" height="0.8" fill="#b4bcc4"/>
<rect x="413.5" y="237.1" width="0.8" height="0.8" fill="#b4bcc4"/>
<rect x="437.8" y="265.7" width="0.8" height="0.8" fill="#b4bcc4"/>
<rect x="398.9" y="254.7" width="0.8" height="0.8" fill="#b4bcc4"/>
<rect x="435.0" y="258.1" width="0.8" height="0.8" fill="#b4bcc4"/>
<rect x="425.6" y="267.4" width="0.8" height="0.8" fill="#b4bcc4"/>
<rect x="392.3" y="237.8" width="0.8" height="0.8" fill="#b4bcc4"/>
<rect x="426.4" y="236.7" width="0.8" height="0.8" fill="#b4bcc4"/>
<rect x="390.4" y="253.4" width="0.8" height="0.8" fill="#b4bcc4"/>
<rect x="401.5" y="261.8" width="0.8" height="0.8" fill="#b4bcc4"/>
<rect x="403.4" y="259.9" width="0.8" height="0.8" fill="#b4bcc4"/>
<rect x="403.1" y="251.2" width="0.8" height="0.8" fill="#b4bcc4"/>
<rect x="436.4" y="269.5" width="0.8" height="0.8" fill="#b4bcc4"/>
<rect x="412.9" y="259.6" width="0.8" height="0.8" fill="#b4bcc4"/>
<rect x="418.0" y="255.3" width="0.8" height="0.8" fill="#b4bcc4"/>
<rect x="416.1" y="268.0" width="0.8" height="0.8" fill="#b4bcc4"/>
<rect x="430.5" y="261.3" width="0.8" height="0.8" fill="#b4bcc4"/>
<rect x="397.7" y="234.8" width="0.8" height="0.8" fill="#b4bcc4"/>
<rect x="402.2" y="261.6" width="0.8" height="0.8" fill="#b4bcc4"/>
<rect x="430.7" y="238.4" width="0.8" height="0.8" fill="#b4bcc4"/>
<rect x="404.8" y="230.3" width="0.8" height="0.8" fill="#b4bcc4"/>
<rect x="421.5" y="250.3" width="0.8" height="0.8" fill="#b4bcc4"/>
<rect x="397.3" y="239.1" width="0.8" height="0.8" fill="#b4bcc4"/>
<rect x="391.3" y="245.5" width="0.8" height="0.8" fill="#b4bcc4"/>
<rect x="399.7" y="268.8" width="0.8" height="0.8" fill="#b4bcc4"/>
<rect x="395.6" y="244.8" width="0.8" height="0.8" fill="#b4bcc4"/>
<rect x="410.9" y="231.7" width="0.8" height="0.8" fill="#b4bcc4"/>
<rect x="399.6" y="242.9" width="0.8" height="0.8" fill="#b4bcc4"/>
<rect x="417.7" y="235.3" width="0.8" height="0.8" fill="#b4bcc4"/>
<rect x="399.6" y="247.9" width="0.8" height="0.8" fill="#b4bcc4"/>
<rect x="391.9" y="257.2" width="0.8" height="0.8" fill="#b4bcc4"/>
<rect x="402.8" y="229.3" width="0.8" height="0.8" fill="#b4bcc4"/>
<rect x="396.3" y="267.4" width="0.8" height="0.8" fill="#b4bcc4"/>
<rect x="389.1" y="241.9" width="0.8" height="0.8" fill="#b4bcc4"/>
<rect x="392.5" y="265.1" width="0.8" height="0.8" fill="#b4bcc4"/>
<rect x="429.6" y="250.1" width="0.8" height="0.8" fill="#b4bcc4"/>
<rect x="409.3" y="238.4" width="0.8" height="0.8" fill="#b4bcc4"/>
<rect x="396.1" y="253.2" width="0.8" height="0.8" fill="#b4bcc4"/>
<rect x="395.3" y="257.8" width="0.8" height="0.8" fill="#b4bcc4"/>
<rect x="427.2" y="256.1" width="0.8" height="0.8" fill="#b4bcc4"/>
<rect x="400.2" y="240.6" width="0.8" height="0.8" fill="#b4bcc4"/>
<rect x="399.7" y="230.2" width="0.8" height="0.8" fill="#b4bcc4"/>
<rect x="400.7" y="254.7" width="0.8" height="0.8" fill="#b4bcc4"/>
<rect x="411.1" y="244.8" width="0.8" height="0.8" fill="#b4bcc4"/>
<rect x="403.1" y="235.1" width="0.8" height="0.8" fill="#b4bcc4"/>
<rect x="400.9" y="232.4" width="0.8" height="0.8" fill="#b4bcc4"/>
<rect x="389.2" y="244.7" width="0.8" height="0.8" fill="#b4bcc4"/>
<rect x="391.4" y="245.3" width="0.8" height="0.8" fill="#b4bcc4"/>
<rect x="405.6" y="239.0" width="0.8" height="0.8" fill="#b4bcc4"/>
<rect x="406.7" y="265.5" width="0.8" height="0.8" fill="#b4bcc4"/>
<rect x="402.1" y="256.2" width="0.8" height="0.8" fill="#b4bcc4"/>
<rect x="410.2" y="245.7" width="0.8" height="0.8" fill="#b4bcc4"/>
<rect x="400.3" y="256.7" width="0.8" height="0.8" fill="#b4bcc4"/>
<rect x="388.1" y="251.1" width="0.8" height="0.8" fill="#b4bcc4"/>
<rect x="432.9" y="268.7" width="0.8" height="0.8" fill="#b4bcc4"/>
<rect x="406.7" y="265.3" width="0.8" height="0.8" fill="#b4bcc4"/>
<rect x="440.1" y="262.7" width="0.8" height="0.8" fill="#b4bcc4"/>
<rect x="416.8" y="238.3" width="0.8" height="0.8" fill="#b4bcc4"/>
<rect x="394.8" y="231.1" width="0.8" height="0.8" fill="#b4bcc4"/>
<rect x="393.5" y="257.7" width="0.8" height="0.8" fill="#b4bcc4"/>
<rect x="412.4" y="260.5" width="0.8" height="0.8" fill="#b4bcc4"/>
<rect x="390.9" y="239.0" width="0.8" height="0.8" fill="#b4bcc4"/>
<rect x="401.6" y="258.2" width="0.8" height="0.8" fill="#b4bcc4"/>
<rect x="424.1" y="238.1" width="0.8" height="0.8" fill="#b4bcc4"/>
<rect x="410.6" y="254.7" width="0.8" height="0.8" fill="#b4bcc4"/>
<rect x="438.4" y="269.5" width="0.8" height="0.8" fill="#b4bcc4"/>
<rect x="426.5" y="233.4" width="0.8" height="0.8" fill="#b4bcc4"/>
<rect x="394.5" y="242.2" width="0.8" height="0.8" fill="#b4bcc4"/>
<rect x="417.3" y="248.5" width="0.8" height="0.8" fill="#b4bcc4"/>
<rect x="429.3" y="269.2" width="0.8" height="0.8" fill="#b4bcc4"/>
<rect x="395.9" y="235.8" width="0.8" height="0.8" fill="#b4bcc4"/>
<rect x="394.5" y="241.9" width="0.8" height="0.8" fill="#b4bcc4"/>
<rect x="407.8" y="239.3" width="0.8" height="0.8" fill="#b4bcc4"/>
<rect x="391.5" y="265.5" width="0.8" height="0.8" fill="#b4bcc4"/>
<rect x="392.2" y="236.1" width="0.8" height="0.8" fill="#b4bcc4"/>
<rect x="423.5" y="254.4" width="0.8" height="0.8" fill="#b4bcc4"/>
<rect x="397.5" y="229.6" width="0.8" height="0.8" fill="#b4bcc4"/>
<rect x="394.4" y="231.6" width="0.8" height="0.8" fill="#b4bcc4"/>
<rect x="409.7" y="257.8" width="0.8" height="0.8" fill="#b4bcc4"/>
<rect x="400.3" y="244.6" width="0.8" height="0.8" fill="#b4bcc4"/>
<rect x="423.5" y="262.1" width="0.8" height="0.8" fill="#b4bcc4"/>
<rect x="422.5" y="243.2" width="0.8" height="0.8" fill="#b4bcc4"/>
<rect x="436.9" y="241.8" width="0.8" height="0.8" fill="#b4bcc4"/>
<rect x="406.1" y="259.3" width="0.8" height="0.8" fill="#b4bcc4"/>
<rect x="397.6" y="232.9" width="0.8" height="0.8" fill="#b4bcc4"/>
<rect x="406.9" y="246.4" width="0.8" height="0.8" fill="#b4bcc4"/>
<rect x="415.1" y="245.2" width="0.8" height="0.8" fill="#b4bcc4"/>
<rect x="417.0" y="268.0" width="0.8" height="0.8" fill="#b4bcc4"/>
<rect x="393.9" y="269.5" width="0.8" height="0.8" fill="#b4bcc4"/>
<rect x="424.6" y="267.8" width="0.8" height="0.8" fill="#b4bcc4"/>
<rect x="396.0" y="254.8" width="0.8" height="0.8" fill="#b4bcc4"/>
<rect x="415.3" y="252.1" width="0.8" height="0.8" fill="#b4bcc4"/>
<rect x="400.4" y="253.4" width="0.8" height="0.8" fill="#b4bcc4"/>
<rect x="427.8" y="269.6" width="0.8" height="0.8" fill="#b4bcc4"/>
<rect x="391.5" y="264.6" width="0.8" height="0.8" fill="#b4bcc4"/>
<rect x="401.5" y="262.0" width="0.8" height="0.8" fill="#b4bcc4"/>
<rect x="417.0" y="264.4" width="0.8" height="0.8" fill="#b4bcc4"/>
<rect x="403.1" y="255.2" width="0.8" height="0.8" fill="#b4bcc4"/>
<rect x="393.4" y="230.0" width="0.8" height="0.8" fill="#b4bcc4"/>
<rect x="434.7" y="263.1" width="0.8" height="0.8" fill="#b4bcc4"/>
<rect x="421.3" y="265.9" width="0.8" height="0.8" fill="#b4bcc4"/>
<rect x="435.3" y="258.7" width="0.8" height="0.8" fill="#b4bcc4"/>
<rect x="424.1" y="246.4" width="0.8" height="0.8" fill="#b4bcc4"/>
<rect x="413.2" y="233.9" width="0.8" height="0.8" fill="#b4bcc4"/>
<rect x="398.6" y="269.8" width="0.8" height="0.8" fill="#b4bcc4"/>
<rect x="410.9" y="262.5" width="0.8" height="0.8" fill="#b4bcc4"/>
<rect x="406.7" y="257.7" width="0.8" height="0.8" fill="#b4bcc4"/>
<rect x="412.6" y="267.2" width="0.8" height="0.8" fill="#b4bcc4"/>
<rect x="391.5" y="245.9" width="0.8" height="0.8" fill="#b4bcc4"/>
<rect x="411.8" y="268.1" width="0.8" height="0.8" fill="#b4bcc4"/>
<rect x="425.5" y="256.4" width="0.8" height="0.8" fill="#b4bcc4"/>
<rect x="401.6" y="246.0" width="0.8" height="0.8" fill="#b4bcc4"/>
<rect x="392.8" y="243.6" width="0.8" height="0.8" fill="#b4bcc4"/>
<rect x="436.5" y="267.9" width="0.8" height="0.8" fill="#b4bcc4"/>
<rect x="391.6" y="247.7" width="0.8" height="0.8" fill="#b4bcc4"/>
<rect x="399.3" y="243.9" width="0.8" height="0.8" fill="#b4bcc4"/>
<rect x="409.3" y="259.3" width="0.8" height="0.8" fill="#b4bcc4"/>
<rect x="397.0" y="255.4" width="0.8" height="0.8" fill="#b4bcc4"/>
<rect x="427.5" y="260.7" width="0.8" height="0.8" fill="#b4bcc4"/>
<rect x="439.0" y="265.7" width="0.8" height="0.8" fill="#b4bcc4"/>
<rect x="394.0" y="261.3" width="0.8" height="0.8" fill="#b4bcc4"/>
<rect x="403.9" y="260.8" width="0.8" height="0.8" fill="#b4bcc4"/>
<rect x="410.4" y="230.8" width="0.8" height="0.8" fill="#b4bcc4"/>
<rect x="396.4" y="268.8" width="0.8" height="0.8" fill="#b4bcc4"/>
<rect x="440.0" y="245.7" width="0.8" height="0.8" fill="#b4bcc4"/>
<rect x="389.5" y="233.1" width="0.8" height="0.8" fill="#b4bcc4"/>
<rect x="390.5" y="245.8" width="0.8" height="0.8" fill="#b4bcc4"/>
<rect x="415.1" y="266.0" width="0.8" height="0.8" fill="#b4bcc4"/>
<rect x="404.2" y="259.2" width="0.8" height="0.8" fill="#b4bcc4"/>
<rect x="407.4" y="246.4" width="0.8" height="0.8" fill="#b4bcc4"/>
<rect x="390.7" y="263.2" width="0.8" height="0.8" fill="#b4bcc4"/>
<rect x="416.5" y="251.2" width="0.8" height="0.8" fill="#b4bcc4"/>
<rect x="400.0" y="232.6" width="0.8" height="0.8" fill="#b4bcc4"/>
<rect x="405.0" y="248.6" width="0.8" height="0.8" fill="#b4bcc4"/>
<rect x="428.5" y="248.7" width="0.8" height="0.8" fill="#b4bcc4"/>
<rect x="410.0" y="268.6" width="0.8" height="0.8" fill="#b4bcc4"/>
<rect x="420.0" y="268.4" width="0.8" height="0.8" fill="#b4bcc4"/>
<rect x="420.3" y="243.8" width="0.8" height="0.8" fill="#b4bcc4"/>
<rect x="420.9" y="253.0" width="0.8" height="0.8" fill="#b4bcc4"/>
<rect x="390.9" y="232.4" width="0.8" height="0.8" fill="#b4bcc4"/>
<rect x="402.6" y="261.5" width="0.8" height="0.8" fill="#b4bcc4"/>
<rect x="391.1" y="260.2" width="0.8" height="0.8" fill="#b4bcc4"/>
<rect x="428.6" y="252.6" width="0.8" height="0.8" fill="#b4bcc4"/>
<rect x="441.1" y="266.5" width="0.8" height="0.8" fill="#b4bcc4"/>
<rect x="408.4" y="247.1" width="0.8" height="0.8" fill="#b4bcc4"/>
<rect x="424.0" y="251.2" width="0.8" height="0.8" fill="#b4bcc4"/>
<rect x="418.3" y="266.8" width="0.8" height="0.8" fill="#b4bcc4"/>
<rect x="394.7" y="264.8" width="0.8" height="0.8" fill="#b4bcc4"/>
<rect x="389.7" y="246.4" width="0.8" height="0.8" fill="#b4bcc4"/>
<rect x="393.7" y="259.3" width="0.8" height="0.8" fill="#b4bcc4"/>
<rect x="413.9" y="269.2" width="0.8" height="0.8" fill="#b4bcc4"/>
<rect x="427.4" y="252.4" width="0.8" height="0.8" fill="#b4bcc4"/>
<rect x="391.5" y="262.7" width="0.8" height="0.8" fill="#b4bcc4"/>
<rect x="412.6" y="248.7" width="0.8" height="0.8" fill="#b4bcc4"/>
<rect x="418.7" y="251.4" width="0.8" height="0.8" fill="#b4bcc4"/>
<rect x="389.1" y="250.8" width="0.8" height="0.8" fill="#b4bcc4"/>
<rect x="403.8" y="239.0" width="0.8" height="0.8" fill="#b4bcc4"/>
<rect x="414.2" y="239.8" width="0.8" height="0.8" fill="#b4bcc4"/>
<rect x="429.9" y="239.3" width="0.8" height="0.8" fill="#b4bcc4"/>
<rect x="400.6" y="247.3" width="0.8" height="0.8" fill="#b4bcc4"/>
<rect x="418.6" y="243.0" width="0.8" height="0.8" fill="#b4bcc4"/>
<rect x="393.5" y="252.0" width="0.8" height="0.8" fill="#b4bcc4"/>
<rect x="391.3" y="256.2" width="0.8" height="0.8" fill="#b4bcc4"/>
<rect x="398.0" y="250.4" width="0.8" height="0.8" fill="#b4bcc4"/>
<rect x="410.5" y="248.7" width="0.8" height="0.8" fill="#b4bcc4"/>
<rect x="434.4" y="267.3" width="0.8" height="0.8" fill="#b4bcc4"/>
<rect x="406.1" y="242.9" width="0.8" height="0.8" fill="#b4bcc4"/>
<rect x="397.5" y="234.7" width="0.8" height="0.8" fill="#b4bcc4"/>
<rect x="413.9" y="261.0" width="0.8" height="0.8" fill="#b4bcc4"/>
<rect x="400.9" y="255.7" width="0.8" height="0.8" fill="#b4bcc4"/>
<rect x="398.0" y="238.1" width="0.8" height="0.8" fill="#b4bcc4"/>
<rect x="430.7" y="250.9" width="0.8" height="0.8" fill="#b4bcc4"/>
<rect x="410.4" y="269.6" width="0.8" height="0.8" fill="#b4bcc4"/>
<rect x="388.7" y="249.2" width="0.8" height="0.8" fill="#b4bcc4"/>
<rect x="391.5" y="266.5" width="0.8" height="0.8" fill="#b4bcc4"/>
<rect x="412.5" y="244.0" width="0.8" height="0.8" fill="#b4bcc4"/>
<rect x="402.7" y="267.5" width="0.8" height="0.8" fill="#b4bcc4"/>
<rect x="398.0" y="242.9" width="0.8" height="0.8" fill="#b4bcc4"/>
<rect x="404.6" y="236.1" width="0.8" height="0.8" fill="#b4bcc4"/>
<rect x="392.4" y="237.8" width="0.8" height="0.8" fill="#b4bcc4"/>
<rect x="433.7" y="247.8" width="0.8" height="0.8" fill="#b4bcc4"/>
<rect x="439.0" y="269.1" width="0.8" height="0.8" fill="#b4bcc4"/>
<rect x="429.2" y="245.1" width="0.8" height="0.8" fill="#b4bcc4"/>
<rect x="399.4" y="229.3" width="0.8" height="0.8" fill="#b4bcc4"/>
<rect x="413.1" y="236.1" width="0.8" height="0.8" fill="#b4bcc4"/>
<rect x="404.4" y="230.2" width="0.8" height="0.8" fill="#b4bcc4"/>
<rect x="417.2" y="247.6" width="0.8" height="0.8" fill="#b4bcc4"/>
<rect x="434.1" y="265.1" width="0.8" height="0.8" fill="#b4bcc4"/>
<rect x="415.5" y="269.4" width="0.8" height="0.8" fill="#b4bcc4"/>
<rect x="397.2" y="258.5" width="0.8" height="0.8" fill="#b4bcc4"/>
<rect x="406.7" y="251.7" width="0.8" height="0.8" fill="#b4bcc4"/>
<rect x="388.1" y="249.1" width="0.8" height="0.8" fill="#b4bcc4"/>
<rect x="392.9" y="249.1" width="0.8" height="0.8" fill="#b4bcc4"/>
<rect x="422.6" y="268.8" width="0.8" height="0.8" fill="#b4bcc4"/>
<rect x="401.8" y="266.0" width="0.8" height="0.8" fill="#b4bcc4"/>
<rect x="414.5" y="248.5" width="0.8" height="0.8" fill="#b4bcc4"/>
<rect x="431.7" y="261.8" width="0.8" height="0.8" fill="#b4bcc4"/>
<rect x="391.5" y="256.2" width="0.8" height="0.8" fill="#b4bcc4"/>
<rect x="441.2" y="254.3" width="0.8" height="0.8" fill="#b4bcc4"/>
<rect x="414.6" y="244.5" width="0.8" height="0.8" fill="#b4bcc4"/>
<rect x="425.1" y="267.6" width="0.8" height="0.8" fill="#b4bcc4"/>
<rect x="438.1" y="266.3" width="0.8" height="0.8" fill="#b4bcc4"/>
<rect x="416.2" y="248.7" width="0.8" height="0.8" fill="#b4bcc4"/>
<rect x="391.8" y="230.7" width="0.8" height="0.8" fill="#b4bcc4"/>
<rect x="410.4" y="245.4" width="0.8" height="0.8" fill="#b4bcc4"/>
<rect x="413.6" y="268.3" width="0.8" height="0.8" fill="#b4bcc4"/>
<rect x="439.6" y="265.4" width="0.8" height="0.8" fill="#b4bcc4"/>
<rect x="419.0" y="259.4" width="0.8" height="0.8" fill="#b4bcc4"/>
<rect x="390.5" y="258.0" width="0.8" height="0.8" fill="#b4bcc4"/>
<rect x="391.0" y="248.2" width="0.8" height="0.8" fill="#b4bcc4"/>
<rect x="391.9" y="244.7" width="0.8" height="0.8" fill="#b4bcc4"/>
<rect x="414.3" y="252.9" width="0.8" height="0.8" fill="#b4bcc4"/>
<rect x="399.9" y="264.4" width="0.8" height="0.8" fill="#b4bcc4"/>
<rect x="424.2" y="259.2" width="0.8" height="0.8" fill="#b4bcc4"/>
<rect x="400.2" y="260.5" width="0.8" height="0.8" fill="#b4bcc4"/>
<rect x="402.0" y="254.0" width="0.8" height="0.8" fill="#b4bcc4"/>
<rect x="409.5" y="269.7" width="0.8" height="0.8" fill="#b4bcc4"/>
<rect x="428.3" y="252.5" width="0.8" height="0.8" fill="#b4bcc4"/>
<rect x="402.8" y="252.0" width="0.8" height="0.8" fill="#b4bcc4"/>
<rect x="431.5" y="245.9" width="0.8" height="0.8" fill="#b4bcc4"/>
<rect x="407.0" y="260.0" width="0.8" height="0.8" fill="#b4bcc4"/>
<rect x="407.4" y="250.8" width="0.8" height="0.8" fill="#b4bcc4"/>
<rect x="408.2" y="255.8" width="0.8" height="0.8" fill="#b4bcc4"/>
<rect x="401.5" y="235.9" width="0.8" height="0.8" fill="#b4bcc4"/>
<rect x="406.2" y="265.0" width="0.8" height="0.8" fill="#b4bcc4"/>
<rect x="406.4" y="246.8" width="0.8" height="0.8" fill="#b4bcc4"/>
<rect x="400.2" y="243.6" width="0.8" height="0.8" fill="#b4bcc4"/>
<rect x="391.4" y="263.4" width="0.8" height="0.8" fill="#b4bcc4"/>
<rect x="419.5" y="232.5" width="0.8" height="0.8" fill="#b4bcc4"/>
<rect x="407.1" y="269.4" width="0.8" height="0.8" fill="#b4bcc4"/>
<rect x="389.1" y="257.4" width="0.8" height="0.8" fill="#b4bcc4"/>
<rect x="405.4" y="247.9" width="0.8" height="0.8" fill="#b4bcc4"/>
<rect x="401.4" y="240.6" width="0.8" height="0.8" fill="#b4bcc4"/>
<rect x="388.9" y="241.4" width="0.8" height="0.8" fill="#b4bcc4"/>
<rect x="413.3" y="249.7" width="0.8" height="0.8" fill="#b4bcc4"/>
<rect x="430.6" y="265.5" width="0.8" height="0.8" fill="#b4bcc4"/>
<rect x="389.2" y="241.0" width="0.8" height="0.8" fill="#b4bcc4"/>
<rect x="431.0" y="254.2" width="0.8" height="0.8" fill="#b4bcc4"/>
<rect x="404.7" y="264.3" width="0.8" height="0.8" fill="#b4bcc4"/>
<rect x="388.7" y="234.7" width="0.8" height="0.8" fill="#b4bcc4"/>
<rect x="420.0" y="252.7" width="0.8" height="0.8" fill="#b4bcc4"/>
<rect x="399.7" y="247.0" width="0.8" height="0.8" fill="#b4bcc4"/>
<rect x="406.0" y="268.2" width="0.8" height="0.8" fill="#b4bcc4"/>
<rect x="393.5" y="254.9" width="0.8" height="0.8" fill="#b4bcc4"/>
<rect x="395.6" y="236.9" width="0.8" height="0.8" fill="#b4bcc4"/>
<rect x="398.0" y="254.9" width="0.8" height="0.8" fill="#b4bcc4"/>
<rect x="408.7" y="262.7" width="0.8" height="0.8" fill="#b4bcc4"/>
<rect x="437.5" y="256.5" width="0.8" height="0.8" fill="#b4bcc4"/>
<rect x="398.1" y="238.3" width="0.8" height="0.8" fill="#b4bcc4"/>
<rect x="426.7" y="249.0" width="0.8" height="0.8" fill="#b4bcc4"/>
<rect x="408.0" y="242.2" width="0.8" height="0.8" fill="#b4bcc4"/>
<rect x="420.0" y="266.5" width="0.8" height="0.8" fill="#b4bcc4"/>
<rect x="418.5" y="238.4" width="0.8" height="0.8" fill="#b4bcc4"/>
<rect x="389.8" y="236.4" width="0.8" height="0.8" fill="#b4bcc4"/>
<rect x="429.1" y="258.5" width="0.8" height="0.8" fill="#b4bcc4"/>
<rect x="408.6" y="232.1" width="0.8" height="0.8" fill="#b4bcc4"/>
<rect x="390.0" y="233.2" width="0.8" height="0.8" fill="#b4bcc4"/>
<rect x="398.3" y="233.2" width="0.8" height="0.8" fill="#b4bcc4"/>
<rect x="422.6" y="235.5" width="0.8" height="0.8" fill="#b4bcc4"/>
<rect x="416.9" y="244.1" width="0.8" height="0.8" fill="#b4bcc4"/>
<rect x="398.4" y="242.4" width="0.8" height="0.8" fill="#b4bcc4"/>
<rect x="417.3" y="267.5" width="0.8" height="0.8" fill="#b4bcc4"/>
<rect x="408.7" y="257.9" width="0.8" height="0.8" fill="#b4bcc4"/>
<rect x="426.2" y="266.2" width="0.8" height="0.8" fill="#b4bcc4"/>
<rect x="428.0" y="264.4" width="0.8" height="0.8" fill="#b4bcc4"/>
<rect x="395.8" y="245.3" width="0.8" height="0.8" fill="#b4bcc4"/>
<rect x="395.1" y="260.9" width="0.8" height="0.8" fill="#b4bcc4"/>
<rect x="434.3" y="269.5" width="0.8" height="0.8" fill="#b4bcc4"/>
<rect x="407.7" y="257.3" width="0.8" height="0.8" fill="#b4bcc4"/>
<rect x="406.3" y="228.5" width="0.8" height="0.8" fill="#b4bcc4"/>
<rect x="388.1" y="242.1" width="0.8" height="0.8" fill="#b4bcc4"/>
<rect x="441.5" y="255.0" width="0.8" height="0.8" fill="#b4bcc4"/>
<rect x="404.9" y="259.3" width="0.8" height="0.8" fill="#b4bcc4"/>
<rect x="396.8" y="230.0" width="0.8" height="0.8" fill="#b4bcc4"/>
<rect x="397.9" y="258.8" width="0.8" height="0.8" fill="#b4bcc4"/>
<rect x="424.4" y="268.7" width="0.8" height="0.8" fill="#b4bcc4"/>
<rect x="393.3" y="230.0" width="0.8" height="0.8" fill="#b4bcc4"/>
<rect x="434.2" y="243.9" width="0.8" height="0.8" fill="#b4bcc4"/>
<rect x="389.6" y="235.2" width="0.8" height="0.8" fill="#b4bcc4"/>
<rect x="432.5" y="242.8" width="0.8" height="0.8" fill="#b4bcc4"/>
<rect x="424.6" y="269.0" width="0.8" height="0.8" fill="#b4bcc4"/>
<rect x="388.6" y="248.3" width="0.8" height="0.8" fill="#b4bcc4"/>
<rect x="403.7" y="247.4" width="0.8" height="0.8" fill="#b4bcc4"/>
<rect x="407.3" y="270.0" width="0.8" height="0.8" fill="#b4bcc4"/>
<rect x="396.1" y="234.7" width="0.8" height="0.8" fill="#b4bcc4"/>
<rect x="414.1" y="234.0" width="0.8" height="0.8" fill="#b4bcc4"/>
<rect x="436.1" y="259.6" width="0.8" height="0.8" fill="#b4bcc4"/>
<rect x="399.3" y="255.2" width="0.8" height="0.8" fill="#b4bcc4"/>
<rect x="394.4" y="232.5" width="0.8" height="0.8" fill="#b4bcc4"/>
<rect x="407.7" y="243.8" width="0.8" height="0.8" fill="#b4bcc4"/>
<rect x="440.6" y="253.6" width="0.8" height="0.8" fill="#b4bcc4"/>
<rect x="408.2" y="245.5" width="0.8" height="0.8" fill="#b4bcc4"/>
<rect x="401.6" y="241.6" width="0.8" height="0.8" fill="#b4bcc4"/>
<rect x="431.1" y="266.7" width="0.8" height="0.8" fill="#b4bcc4"/>
<rect x="408.4" y="233.4" width="0.8" height="0.8" fill="#b4bcc4"/>
<rect x="422.5" y="265.5" width="0.8" height="0.8" fill="#b4bcc4"/>
<rect x="401.7" y="260.0" width="0.8" height="0.8" fill="#b4bcc4"/>
<rect x="398.9" y="240.6" width="0.8" height="0.8" fill="#b4bcc4"/>
<rect x="403.0" y="258.8" width="0.8" height="0.8" fill="#b4bcc4"/>
<rect x="422.5" y="261.8" width="0.8" height="0.8" fill="#b4bcc4"/>
<rect x="398.3" y="233.5" width="0.8" height="0.8" fill="#b4bcc4"/>
<rect x="430.8" y="253.5" width="0.8" height="0.8" fill="#b4bcc4"/>
<rect x="412.5" y="253.3" width="0.8" height="0.8" fill="#b4bcc4"/>
<rect x="389.9" y="246.0" width="0.8" height="0.8" fill="#b4bcc4"/>
<rect x="434.9" y="252.3" width="0.8" height="0.8" fill="#b4bcc4"/>
<rect x="393.3" y="232.3" width="0.8" height="0.8" fill="#b4bcc4"/>
<rect x="396.4" y="269.7" width="0.8" height="0.8" fill="#b4bcc4"/>
<rect x="404.7" y="246.7" width="0.8" height="0.8" fill="#b4bcc4"/>
<rect x="388.1" y="251.2" width="0.8" height="0.8" fill="#b4bcc4"/>
<rect x="410.3" y="250.1" width="0.8" height="0.8" fill="#b4bcc4"/>
<rect x="393.8" y="234.2" width="0.8" height="0.8" fill="#b4bcc4"/>
<rect x="416.8" y="252.6" width="0.8" height="0.8" fill="#b4bcc4"/>
<rect x="437.1" y="248.2" width="0.8" height="0.8" fill="#b4bcc4"/>
<rect x="412.7" y="247.9" width="0.8" height="0.8" fill="#b4bcc4"/>
<rect x="405.6" y="252.0" width="0.8" height="0.8" fill="#b4bcc4"/>
<rect x="390.4" y="244.6" width="0.8" height="0.8" fill="#b4bcc4"/>
<rect x="389.8" y="231.8" width="0.8" height="0.8" fill="#b4bcc4"/>
<rect x="438.9" y="263.3" width="0.8" height="0.8" fill="#b4bcc4"/>
<rect x="405.1" y="243.8" width="0.8" height="0.8" fill="#b4bcc4"/>
<rect x="408.6" y="235.8" width="0.8" height="0.8" fill="#b4bcc4"/>
<rect x="388.8" y="260.3" width="0.8" height="0.8" fill="#b4bcc4"/>
<rect x="427.1" y="261.3" width="0.8" height="0.8" fill="#b4bcc4"/>
<rect x="397.2" y="269.6" width="0.8" height="0.8" fill="#b4bcc4"/>
<rect x="420.1" y="262.5" width="0.8" height="0.8" fill="#b4bcc4"/>
<rect x="401.3" y="258.8" width="0.8" height="0.8" fill="#b4bcc4"/>
<rect x="400.3" y="231.1" width="0.8" height="0.8" fill="#b4bcc4"/>
<rect x="410.3" y="251.2" width="0.8" height="0.8" fill="#b4bcc4"/>
<rect x="418.5" y="240.6" width="0.8" height="0.8" fill="#b4bcc4"/>
<rect x="408.4" y="239.7" width="0.8" height="0.8" fill="#b4bcc4"/>
<rect x="404.0" y="240.9" width="0.8" height="0.8" fill="#b4bcc4"/>
<rect x="389.6" y="248.4" width="0.8" height="0.8" fill="#b4bcc4"/>
<rect x="416.4" y="229.5" width="0.8" height="0.8" fill="#b4bcc4"/>
<rect x="406.6" y="259.7" width="0.8" height="0.8" fill="#b4bcc4"/>
<rect x="432.2" y="264.1" width="0.8" height="0.8" fill="#b4bcc4"/>
<rect x="408.3" y="267.9" width="0.8" height="0.8" fill="#b4bcc4"/>
<rect x="414.4" y="259.0" width="0.8" height="0.8" fill="#b4bcc4"/>
<rect x="402.8" y="256.4" width="0.8" height="0.8" fill="#b4bcc4"/>
<rect x="400.3" y="238.6" width="0.8" height="0.8" fill="#b4bcc4"/>
<rect x="422.7" y="253.7" width="0.8" height="0.8" fill="#b4bcc4"/>
<rect x="441.6" y="241.5" width="0.8" height="0.8" fill="#b4bcc4"/>
<rect x="405.5" y="255.0" width="0.8" height="0.8" fill="#b4bcc4"/>
<rect x="433.1" y="263.3" width="0.8" height="0.8" fill="#b4bcc4"/>
<rect x="391.3" y="258.8" width="0.8" height="0.8" fill="#b4bcc4"/>
<rect x="407.9" y="255.0" width="0.8" height="0.8" fill="#b4bcc4"/>
<rect x="424.8" y="251.2" width="0.8" height="0.8" fill="#b4bcc4"/>
<rect x="388.2" y="245.0" width="0.8" height="0.8" fill="#b4bcc4"/>
<rect x="400.2" y="237.7" width="0.8" height="0.8" fill="#b4bcc4"/>
<rect x="389.1" y="264.5" width="0.8" height="0.8" fill="#b4bcc4"/>
<rect x="413.0" y="265.7" width="0.8" height="0.8" fill="#b4bcc4"/>
<rect x="388.6" y="242.0" width="0.8" height="0.8" fill="#b4bcc4"/>
<rect x="410.8" y="261.8" width="0.8" height="0.8" fill="#b4bcc4"/>
<rect x="400.2" y="229.1" width="0.8" height="0.8" fill="#b4bcc4"/>
<rect x="391.5" y="243.0" width="0.8" height="0.8" fill="#b4bcc4"/>
<rect x="402.0" y="237.6" width="0.8" height="0.8" fill="#b4bcc4"/>
<rect x="392.8" y="252.6" width="0.8" height="0.8" fill="#b4bcc4"/>
<rect x="393.4" y="267.9" width="0.8" height="0.8" fill="#b4bcc4"/>
<rect x="426.7" y="250.4" width="0.8" height="0.8" fill="#b4bcc4"/>
<rect x="389.5" y="257.5" width="0.8" height="0.8" fill="#b4bcc4"/>
<rect x="405.8" y="260.5" width="0.8" height="0.8" fill="#b4bcc4"/>
<rect x="410.3" y="250.3" width="0.8" height="0.8" fill="#b4bcc4"/>
<rect x="403.5" y="265.4" width="0.8" height="0.8" fill="#b4bcc4"/>
<rect x="429.6" y="243.7" width="0.8" height="0.8" fill="#b4bcc4"/>
<rect x="388.1" y="268.5" width="0.8" height="0.8" fill="#b4bcc4"/>
<rect x="441.0" y="252.9" width="0.8" height="0.8" fill="#b4bcc4"/>
<rect x="421.6" y="268.2" width="0.8" height="0.8" fill="#b4bcc4"/>
<rect x="400.6" y="237.7" width="0.8" height="0.8" fill="#b4bcc4"/>
<rect x="389.5" y="249.0" width="0.8" height="0.8" fill="#b4bcc4"/>
<rect x="407.9" y="268.0" width="0.8" height="0.8" fill="#b4bcc4"/>
<rect x="432.7" y="250.6" width="0.8" height="0.8" fill="#b4bcc4"/>
<rect x="390.7" y="257.6" width="0.8" height="0.8" fill="#b4bcc4"/>
<rect x="391.6" y="240.8" width="0.8" height="0.8" fill="#b4bcc4"/>
<rect x="435.5" y="243.2" width="0.8" height="0.8" fill="#b4bcc4"/>
<rect x="421.3" y="255.8" width="0.8" height="0.8" fill="#b4bcc4"/>
<rect x="388.2" y="251.5" width="0.8" height="0.8" fill="#b4bcc4"/>
<rect x="403.2" y="251.5" width="0.8" height="0.8" fill="#b4bcc4"/>
<rect x="425.5" y="245.8" width="0.8" height="0.8" fill="#b4bcc4"/>
<rect x="399.3" y="228.7" width="0.8" height="0.8" fill="#b4bcc4"/>
<rect x="392.5" y="261.8" width="0.8" height="0.8" fill="#b4bcc4"/>
<rect x="395.4" y="241.1" width="0.8" height="0.8" fill="#b4bcc4"/>
<rect x="391.0" y="260.2" width="0.8" height="0.8" fill="#b4bcc4"/>
<rect x="435.7" y="266.8" width="0.8" height="0.8" fill="#b4bcc4"/>
<rect x="439.4" y="249.5" width="0.8" height="0.8" fill="#b4bcc4"/>
<rect x="418.8" y="245.4" width="0.8" height="0.8" fill="#b4bcc4"/>
<rect x="412.8" y="231.1" width="0.8" height="0.8" fill="#b4bcc4"/>
<rect x="392.3" y="246.1" width="0.8" height="0.8" fill="#b4bcc4"/>
<rect x="419.9" y="239.3" width="0.8" height="0.8" fill="#b4bcc4"/>
<rect x="399.2" y="237.0" width="0.8" height="0.8" fill="#b4bcc4"/>
<rect x="403.6" y="260.0" width="0.8" height="0.8" fill="#b4bcc4"/>
<rect x="406.7" y="268.1" width="0.8" height="0.8" fill="#b4bcc4"/>
<rect x="401.9" y="255.3" width="0.8" height="0.8" fill="#b4bcc4"/>
<rect x="395.7" y="259.8" width="0.8" height="0.8" fill="#b4bcc4"/>
<rect x="426.9" y="237.8" width="0.8" height="0.8" fill="#b4bcc4"/>
<rect x="417.8" y="238.3" width="0.8" height="0.8" fill="#b4bcc4"/>
<rect x="403.8" y="252.4" width="0.8" height="0.8" fill="#b4bcc4"/>
<rect x="392.6" y="238.0" width="0.8" height="0.8" fill="#b4bcc4"/>
<rect x="399.0" y="236.5" width="0.8" height="0.8" fill="#b4bcc4"/>
<rect x="417.6" y="260.4" width="0.8" height="0.8" fill="#b4bcc4"/>
<rect x="421.5" y="244.5" width="0.8" height="0.8" fill="#b4bcc4"/>
<rect x="421.3" y="261.0" width="0.8" height="0.8" fill="#b4bcc4"/>
<rect x="411.1" y="268.8" width="0.8" height="0.8" fill="#b4bcc4"/>
<rect x="397.0" y="249.7" width="0.8" height="0.8" fill="#b4bcc4"/>
<rect x="396.9" y="265.4" width="0.8" height="0.8" fill="#b4bcc4"/>
<rect x="412.2" y="255.0" width="0.8" height="0.8" fill="#b4bcc4"/>
<rect x="396.8" y="243.3" width="0.8" height="0.8" fill="#b4bcc4"/>
<rect x="414.3" y="240.5" width="0.8" height="0.8" fill="#b4bcc4"/>
<rect x="400.5" y="246.7" width="0.8" height="0.8" fill="#b4bcc4"/>
<rect x="400.8" y="269.0" width="0.8" height="0.8" fill="#b4bcc4"/>
<rect x="411.6" y="256.9" width="0.8" height="0.8" fill="#b4bcc4"/>
<rect x="439.3" y="259.3" width="0.8" height="0.8" fill="#b4bcc4"/>
<rect x="432.2" y="239.9" width="0.8" height="0.8" fill="#b4bcc4"/>
<rect x="389.1" y="235.4" width="0.8" height="0.8" fill="#b4bcc4"/>
<rect x="390.9" y="241.6" width="0.8" height="0.8" fill="#b4bcc4"/>
<rect x="401.0" y="244.0" width="0.8" height="0.8" fill="#b4bcc4"/>
<rect x="393.9" y="266.9" width="0.8" height="0.8" fill="#b4bcc4"/>
<rect x="402.8" y="252.9" width="0.8" height="0.8" fill="#b4bcc4"/>
<rect x="406.0" y="269.9" width="0.8" height="0.8" fill="#b4bcc4"/>
<rect x="415.5" y="235.9" width="0.8" height="0.8" fill="#b4bcc4"/>
<rect x="422.9" y="232.8" width="0.8" height="0.8" fill="#b4bcc4"/>
<rect x="392.5" y="251.0" width="0.8" height="0.8" fill="#b4bcc4"/>
<rect x="402.2" y="260.3" width="0.8" height="0.8" fill="#b4bcc4"/>
<rect x="401.4" y="260.9" width="0.8" height="0.8" fill="#b4bcc4"/>
<rect x="394.9" y="249.6" width="0.8" height="0.8" fill="#b4bcc4"/>
<rect x="412.4" y="260.4" width="0.8" height="0.8" fill="#b4bcc4"/>
<rect x="401.7" y="245.2" width="0.8" height="0.8" fill="#b4bcc4"/>
<rect x="393.7" y="248.9" width="0.8" height="0.8" fill="#b4bcc4"/>
<rect x="404.1" y="267.8" width="0.8" height="0.8" fill="#b4bcc4"/>
<rect x="394.4" y="237.7" width="0.8" height="0.8" fill="#b4bcc4"/>
<rect x="398.0" y="231.3" width="0.8" height="0.8" fill="#b4bcc4"/>
<rect x="410.2" y="263.4" width="0.8" height="0.8" fill="#b4bcc4"/>
<rect x="401.4" y="253.9" width="0.8" height="0.8" fill="#b4bcc4"/>
<rect x="420.8" y="246.3" width="0.8" height="0.8" fill="#b4bcc4"/>
<rect x="405.2" y="241.5" width="0.8" height="0.8" fill="#b4bcc4"/>
<rect x="407.7" y="228.9" width="0.8" height="0.8" fill="#b4bcc4"/>
<rect x="413.7" y="268.0" width="0.8" height="0.8" fill="#b4bcc4"/>
<rect x="397.6" y="249.4" width="0.8" height="0.8" fill="#b4bcc4"/>
<rect x="403.6" y="256.2" width="0.8" height="0.8" fill="#b4bcc4"/>
<rect x="419.7" y="258.1" width="0.8" height="0.8" fill="#b4bcc4"/>
<rect x="401.8" y="248.0" width="0.8" height="0.8" fill="#b4bcc4"/>
<rect x="407.0" y="252.6" width="0.8" height="0.8" fill="#b4bcc4"/>
<rect x="401.7" y="233.4" width="0.8" height="0.8" fill="#b4bcc4"/>
<rect x="416.4" y="259.1" width="0.8" height="0.8" fill="#b4bcc4"/>
<rect x="403.5" y="265.8" width="0.8" height="0.8" fill="#b4bcc4"/>
<rect x="396.4" y="244.5" width="0.8" height="0.8" fill="#b4bcc4"/>
<rect x="406.1" y="243.5" width="0.8" height="0.8" fill="#b4bcc4"/>
<rect x="407.1" y="258.1" width="0.8" height="0.8" fill="#b4bcc4"/>
<rect x="410.3" y="253.1" width="0.8" height="0.8" fill="#b4bcc4"/>
<rect x="388.4" y="259.8" width="0.8" height="0.8" fill="#b4bcc4"/>
<rect x="400.7" y="254.1" width="0.8" height="0.8" fill="#b4bcc4"/>
<rect x="404.7" y="268.2" width="0.8" height="0.8" fill="#b4bcc4"/>
<rect x="424.4" y="232.3" width="0.8" height="0.8" fill="#b4bcc4"/>
<rect x="397.6" y="241.1" width="0.8" height="0.8" fill="#b4bcc4"/>
<rect x="403.5" y="233.2" width="0.8" height="0.8" fill="#b4bcc4"/>
<rect x="416.3" y="260.0" width="0.8" height="0.8" fill="#b4bcc4"/>
<rect x="393.1" y="258.7" width="0.8" height="0.8" fill="#b4bcc4"/>
<rect x="395.6" y="248.9" width="0.8" height="0.8" fill="#b4bcc4"/>
<rect x="409.0" y="262.8" width="0.8" height="0.8" fill="#b4bcc4"/>
<rect x="411.3" y="250.9" width="0.8" height="0.8" fill="#b4bcc4"/>
<rect x="420.5" y="248.3" width="0.8" height="0.8" fill="#b4bcc4"/>
<rect x="390.3" y="240.7" width="0.8" height="0.8" fill="#b4bcc4"/>
<rect x="409.2" y="228.6" width="0.8" height="0.8" fill="#b4bcc4"/>
<rect x="406.5" y="255.7" width="0.8" height="0.8" fill="#b4bcc4"/>
<rect x="410.2" y="235.9" width="0.8" height="0.8" fill="#b4bcc4"/>
<rect x="430.9" y="249.9" width="0.8" height="0.8" fill="#b4bcc4"/>
<rect x="397.7" y="268.0" width="0.8" height="0.8" fill="#b4bcc4"/>
<rect x="415.4" y="247.6" width="0.8" height="0.8" fill="#b4bcc4"/>
<rect x="402.4" y="236.2" width="0.8" height="0.8" fill="#b4bcc4"/>
<rect x="390.2" y="255.3" width="0.8" height="0.8" fill="#b4bcc4"/>
<rect x="401.6" y="268.0" width="0.8" height="0.8" fill="#b4bcc4"/>
<rect x="428.4" y="253.4" width="0.8" height="0.8" fill="#b4bcc4"/>
<rect x="421.6" y="254.9" width="0.8" height="0.8" fill="#b4bcc4"/>
<rect x="407.7" y="258.9" width="0.8" height="0.8" fill="#b4bcc4"/>
<rect x="422.0" y="238.0" width="0.8" height="0.8" fill="#b4bcc4"/>
<rect x="399.2" y="259.7" width="0.8" height="0.8" fill="#b4bcc4"/>
<rect x="429.2" y="239.6" width="0.8" height="0.8" fill="#b4bcc4"/>
<rect x="415.1" y="269.0" width="0.8" height="0.8" fill="#b4bcc4"/>
<rect x="419.7" y="267.5" width="0.8" height="0.8" fill="#b4bcc4"/>
<rect x="389.5" y="253.5" width="0.8" height="0.8" fill="#b4bcc4"/>
<rect x="411.7" y="237.5" width="0.8" height="0.8" fill="#b4bcc4"/>
<rect x="407.6" y="259.0" width="0.8" height="0.8" fill="#b4bcc4"/>
<rect x="391.4" y="240.2" width="0.8" height="0.8" fill="#b4bcc4"/>
<rect x="404.0" y="262.7" width="0.8" height="0.8" fill="#b4bcc4"/>
<rect x="388.8" y="247.2" width="0.8" height="0.8" fill="#b4bcc4"/>
<rect x="389.5" y="253.7" width="0.8" height="0.8" fill="#b4bcc4"/>
<rect x="416.2" y="241.1" width="0.8" height="0.8" fill="#b4bcc4"/>
<rect x="396.4" y="248.6" width="0.8" height="0.8" fill="#b4bcc4"/>
<rect x="419.6" y="256.5" width="0.8" height="0.8" fill="#b4bcc4"/>
<rect x="402.4" y="254.5" width="0.8" height="0.8" fill="#b4bcc4"/>
<rect x="416.7" y="242.6" width="0.8" height="0.8" fill="#b4bcc4"/>
<rect x="408.5" y="260.6" width="0.8" height="0.8" fill="#b4bcc4"/>
<rect x="406.3" y="256.6" width="0.8" height="0.8" fill="#b4bcc4"/>
<rect x="392.9" y="260.8" width="0.8" height="0.8" fill="#b4bcc4"/>
<rect x="397.2" y="234.4" width="0.8" height="0.8" fill="#b4bcc4"/>
<rect x="390.6" y="260.0" width="0.8" height="0.8" fill="#b4bcc4"/>
<rect x="393.6" y="266.8" width="0.8" height="0.8" fill="#b4bcc4"/>
<rect x="392.1" y="246.1" width="0.8" height="0.8" fill="#b4bcc4"/>
<rect x="438.3" y="254.3" width="0.8" height="0.8" fill="#b4bcc4"/>
<rect x="391.8" y="234.2" width="0.8" height="0.8" fill="#b4bcc4"/>
<rect x="404.8" y="257.7" width="0.8" height="0.8" fill="#b4bcc4"/>
<rect x="433.4" y="247.1" width="0.8" height="0.8" fill="#b4bcc4"/>
<rect x="403.7" y="254.6" width="0.8" height="0.8" fill="#b4bcc4"/>
<rect x="420.6" y="238.4" width="0.8" height="0.8" fill="#b4bcc4"/>
<rect x="417.9" y="238.2" width="0.8" height="0.8" fill="#b4bcc4"/>
<rect x="395.9" y="268.6" width="0.8" height="0.8" fill="#b4bcc4"/>
<rect x="388.3" y="244.4" width="0.8" height="0.8" fill="#b4bcc4"/>
<rect x="404.7" y="231.3" width="0.8" height="0.8" fill="#b4bcc4"/>
<rect x="388.9" y="247.1" width="0.8" height="0.8" fill="#b4bcc4"/>
<rect x="415.0" y="261.8" width="0.8" height="0.8" fill="#b4bcc4"/>
<rect x="428.7" y="260.8" width="0.8" height="0.8" fill="#b4bcc4"/>
<rect x="428.0" y="243.1" width="0.8" height="0.8" fill="#b4bcc4"/>
<rect x="409.4" y="256.7" width="0.8" height="0.8" fill="#b4bcc4"/>
<rect x="393.0" y="254.1" width="0.8" height="0.8" fill="#b4bcc4"/>
<rect x="430.7" y="269.0" width="0.8" height="0.8" fill="#b4bcc4"/>
<rect x="427.2" y="240.1" width="0.8" height="0.8" fill="#b4bcc4"/>
<rect x="405.4" y="234.7" width="0.8" height="0.8" fill="#b4bcc4"/>
<rect x="425.0" y="262.3" width="0.8" height="0.8" fill="#b4bcc4"/>
<rect x="415.7" y="269.2" width="0.8" height="0.8" fill="#b4bcc4"/>
<rect x="416.9" y="262.1" width="0.8" height="0.8" fill="#b4bcc4"/>
<rect x="419.6" y="258.6" width="0.8" height="0.8" fill="#b4bcc4"/>
<rect x="392.9" y="241.5" width="0.8" height="0.8" fill="#b4bcc4"/>
<rect x="406.0" y="235.6" width="0.8" height="0.8" fill="#b4bcc4"/>
<rect x="407.7" y="263.7" width="0.8" height="0.8" fill="#b4bcc4"/>
<rect x="395.4" y="246.7" width="0.8" height="0.8" fill="#b4bcc4"/>
<rect x="394.8" y="239.6" width="0.8" height="0.8" fill="#b4bcc4"/>
<rect x="391.1" y="260.5" width="0.8" height="0.8" fill="#b4bcc4"/>
<rect x="394.3" y="254.3" width="0.8" height="0.8" fill="#b4bcc4"/>
<rect x="399.3" y="259.1" width="0.8" height="0.8" fill="#b4bcc4"/>
<rect x="399.4" y="236.5" width="0.8" height="0.8" fill="#b4bcc4"/>
<rect x="413.5" y="252.6" width="0.8" height="0.8" fill="#b4bcc4"/>
<rect x="410.1" y="258.6" width="0.8" height="0.8" fill="#b4bcc4"/>
<rect x="412.5" y="239.0" width="0.8" height="0.8" fill="#b4bcc4"/>
<rect x="390.2" y="238.4" width="0.8" height="0.8" fill="#b4bcc4"/>
<rect x="397.8" y="263.1" width="0.8" height="0.8" fill="#b4bcc4"/>
<rect x="433.1" y="264.2" width="0.8" height="0.8" fill="#b4bcc4"/>
<rect x="389.5" y="242.5" width="0.8" height="0.8" fill="#b4bcc4"/>
<rect x="388.3" y="243.0" width="0.8" height="0.8" fill="#b4bcc4"/>
<rect x="397.4" y="263.7" width="0.8" height="0.8" fill="#b4bcc4"/>
<rect x="411.7" y="237.7" width="0.8" height="0.8" fill="#b4bcc4"/>
<rect x="422.3" y="237.9" width="0.8" height="0.8" fill="#b4bcc4"/>
<rect x="441.2" y="253.9" width="0.8" height="0.8" fill="#b4bcc4"/>
<rect x="428.0" y="256.0" width="0.8" height="0.8" fill="#b4bcc4"/>
<rect x="388.1" y="268.7" width="0.8" height="0.8" fill="#b4bcc4"/>
<rect x="413.9" y="231.1" width="0.8" height="0.8" fill="#b4bcc4"/>
<rect x="429.7" y="240.7" width="0.8" height="0.8" fill="#b4bcc4"/>
<rect x="411.1" y="252.5" width="0.8" height="0.8" fill="#b4bcc4"/>
<rect x="410.0" y="269.6" width="0.8" height="0.8" fill="#b4bcc4"/>
<rect x="426.1" y="237.5" width="0.8" height="0.8" fill="#b4bcc4"/>
<rect x="392.9" y="245.4" width="0.8" height="0.8" fill="#b4bcc4"/>
<rect x="393.7" y="265.9" width="0.8" height="0.8" fill="#b4bcc4"/>
<rect x="406.2" y="267.9" width="0.8" height="0.8" fill="#b4bcc4"/>
<rect x="411.2" y="235.0" width="0.8" height="0.8" fill="#b4bcc4"/>
<rect x="405.0" y="242.3" width="0.8" height="0.8" fill="#b4bcc4"/>
<rect x="404.0" y="260.0" width="0.8" height="0.8" fill="#b4bcc4"/>
<rect x="418.0" y="258.1" width="0.8" height="0.8" fill="#b4bcc4"/>
<rect x="393.5" y="241.7" width="0.8" height="0.8" fill="#b4bcc4"/>
<rect x="421.0" y="247.7" width="0.8" height="0.8" fill="#b4bcc4"/>
<rect x="417.1" y="264.4" width="0.8" height="0.8" fill="#b4bcc4"/>
<rect x="399.2" y="254.3" width="0.8" height="0.8" fill="#b4bcc4"/>
<rect x="435.2" y="263.7" width="0.8" height="0.8" fill="#b4bcc4"/>
<rect x="422.6" y="254.6" width="0.8" height="0.8" fill="#b4bcc4"/>
<rect x="392.9" y="242.2" width="0.8" height="0.8" fill="#b4bcc4"/>
<rect x="413.3" y="261.7" width="0.8" height="0.8" fill="#b4bcc4"/>
<rect x="407.1" y="261.6" width="0.8" height="0.8" fill="#b4bcc4"/>
<rect x="421.7" y="244.7" width="0.8" height="0.8" fill="#b4bcc4"/>
<rect x="392.7" y="233.4" width="0.8" height="0.8" fill="#b4bcc4"/>
<rect x="388.9" y="250.1" width="0.8" height="0.8" fill="#b4bcc4"/>
<rect x="394.2" y="233.5" width="0.8" height="0.8" fill="#b4bcc4"/>
<rect x="413.7" y="237.6" width="0.8" height="0.8" fill="#b4bcc4"/>
<rect x="438.4" y="259.9" width="0.8" height="0.8" fill="#b4bcc4"/>
<rect x="425.9" y="264.6" width="0.8" height="0.8" fill="#b4bcc4"/>
<rect x="388.7" y="241.8" width="0.8" height="0.8" fill="#b4bcc4"/>
<rect x="423.1" y="266.3" width="0.8" height="0.8" fill="#b4bcc4"/>
<rect x="432.9" y="235.0" width="0.8" height="0.8" fill="#b4bcc4"/>
<rect x="426.2" y="262.4" width="0.8" height="0.8" fill="#b4bcc4"/>
<rect x="433.9" y="259.9" width="0.8" height="0.8" fill="#b4bcc4"/>
<rect x="396.4" y="255.8" width="0.8" height="0.8" fill="#b4bcc4"/>
<rect x="396.6" y="266.2" width="0.8" height="0.8" fill="#b4bcc4"/>
<rect x="433.0" y="267.7" width="0.8" height="0.8" fill="#b4bcc4"/>
<rect x="412.0" y="245.6" width="0.8" height="0.8" fill="#b4bcc4"/>
<rect x="389.9" y="265.4" width="0.8" height="0.8" fill="#b4bcc4"/>
<rect x="427.1" y="267.9" width="0.8" height="0.8" fill="#b4bcc4"/>
<rect x="419.9" y="245.7" width="0.8" height="0.8" fill="#b4bcc4"/>
<rect x="389.9" y="235.3" width="0.8" height="0.8" fill="#b4bcc4"/>
<rect x="432.1" y="229.5" width="0.8" height="0.8" fill="#b4bcc4"/>
<rect x="391.8" y="248.0" width="0.8" height="0.8" fill="#b4bcc4"/>
<rect x="424.8" y="236.5" width="0.8" height="0.8" fill="#b4bcc4"/>
<rect x="402.7" y="268.0" width="0.8" height="0.8" fill="#b4bcc4"/>
<rect x="407.9" y="259.4" width="0.8" height="0.8" fill="#b4bcc4"/>
<rect x="425.0" y="254.6" width="0.8" height="0.8" fill="#b4bcc4"/>
<rect x="401.8" y="268.4" width="0.8" height="0.8" fill="#b4bcc4"/>
<rect x="434.4" y="249.4" width="0.8" height="0.8" fill="#b4bcc4"/>
<rect x="416.8" y="235.4" width="0.8" height="0.8" fill="#b4bcc4"/>
<rect x="401.5" y="252.7" width="0.8" height="0.8" fill="#b4bcc4"/>
<rect x="421.4" y="249.6" width="0.8" height="0.8" fill="#b4bcc4"/>
<rect x="417.5" y="268.9" width="0.8" height="0.8" fill="#b4bcc4"/>
<rect x="421.0" y="249.7" width="0.8" height="0.8" fill="#b4bcc4"/>
<rect x="437.0" y="263.1" width="0.8" height="0.8" fill="#b4bcc4"/>
<rect x="426.6" y="256.2" width="0.8" height="0.8" fill="#b4bcc4"/>
<rect x="397.0" y="240.9" width="0.8" height="0.8" fill="#b4bcc4"/>
<rect x="422.5" y="233.2" width="0.8" height="0.8" fill="#b4bcc4"/>
<rect x="412.4" y="256.8" width="0.8" height="0.8" fill="#b4bcc4"/>
<rect x="413.3" y="268.8" width="0.8" height="0.8" fill="#b4bcc4"/>
<rect x="401.6" y="254.8" width="0.8" height="0.8" fill="#b4bcc4"/>
<rect x="411.9" y="252.5" width="0.8" height="0.8" fill="#b4bcc4"/>
<rect x="391.5" y="250.6" width="0.8" height="0.8" fill="#b4bcc4"/>
<rect x="408.0" y="230.1" width="0.8" height="0.8" fill="#b4bcc4"/>
<rect x="407.6" y="250.4" width="0.8" height="0.8" fill="#b4bcc4"/>
<rect x="404.5" y="248.2" width="0.8" height="0.8" fill="#b4bcc4"/>
<rect x="397.9" y="250.0" width="0.8" height="0.8" fill="#b4bcc4"/>
<rect x="399.5" y="267.6" width="0.8" height="0.8" fill="#b4bcc4"/>
<rect x="404.4" y="245.8" width="0.8" height="0.8" fill="#b4bcc4"/>
<rect x="399.4" y="264.2" width="0.8" height="0.8" fill="#b4bcc4"/>
<rect x="417.5" y="253.8" width="0.8" height="0.8" fill="#b4bcc4"/>
<rect x="408.2" y="267.7" width="0.8" height="0.8" fill="#b4bcc4"/>
<rect x="426.3" y="249.9" width="0.8" height="0.8" fill="#b4bcc4"/>
<rect x="400.7" y="260.7" width="0.8" height="0.8" fill="#b4bcc4"/>
<rect x="408.7" y="251.3" width="0.8" height="0.8" fill="#b4bcc4"/>
<rect x="429.0" y="255.8" width="0.8" height="0.8" fill="#b4bcc4"/>
<rect x="398.7" y="238.4" width="0.8" height="0.8" fill="#b4bcc4"/>
<rect x="390.0" y="253.2" width="0.8" height="0.8" fill="#b4bcc4"/>
<rect x="408.7" y="269.6" width="0.8" height="0.8" fill="#b4bcc4"/>
<rect x="388.9" y="232.9" width="0.8" height="0.8" fill="#b4bcc4"/>
<rect x="427.8" y="259.2" width="0.8" height="0.8" fill="#b4bcc4"/>
<rect x="404.7" y="265.9" width="0.8" height="0.8" fill="#b4bcc4"/>
<rect x="425.2" y="252.3" width="0.8" height="0.8" fill="#b4bcc4"/>
<rect x="418.4" y="267.6" width="0.8" height="0.8" fill="#b4bcc4"/>
<rect x="405.8" y="241.3" width="0.8" height="0.8" fill="#b4bcc4"/>
<rect x="429.7" y="255.4" width="0.8" height="0.8" fill="#b4bcc4"/>
<rect x="426.0" y="265.0" width="0.8" height="0.8" fill="#b4bcc4"/>
<rect x="404.2" y="269.1" width="0.8" height="0.8" fill="#b4bcc4"/>
<rect x="391.8" y="250.1" width="0.8" height="0.8" fill="#b4bcc4"/>
<rect x="414.1" y="262.9" width="0.8" height="0.8" fill="#b4bcc4"/>
<rect x="411.5" y="267.6" width="0.8" height="0.8" fill="#b4bcc4"/>
<rect x="402.6" y="247.0" width="0.8" height="0.8" fill="#b4bcc4"/>
<rect x="392.2" y="243.7" width="0.8" height="0.8" fill="#b4bcc4"/>
<rect x="403.8" y="258.5" width="0.8" height="0.8" fill="#b4bcc4"/>
<rect x="418.6" y="264.8" width="0.8" height="0.8" fill="#b4bcc4"/>
<rect x="409.9" y="268.7" width="0.8" height="0.8" fill="#b4bcc4"/>
<rect x="416.0" y="255.8" width="0.8" height="0.8" fill="#b4bcc4"/>
<rect x="427.5" y="255.6" width="0.8" height="0.8" fill="#b4bcc4"/>
<rect x="462.0" y="253.2" width="0.8" height="0.8" fill="#b4bcc4"/>
<rect x="458.6" y="260.6" width="0.8" height="0.8" fill="#b4bcc4"/>
<rect x="474.4" y="265.3" width="0.8" height="0.8" fill="#b4bcc4"/>
<rect x="457.9" y="267.5" width="0.8" height="0.8" fill="#b4bcc4"/>
<rect x="460.4" y="252.7" width="0.8" height="0.8" fill="#b4bcc4"/>
<rect x="470.0" y="258.6" width="0.8" height="0.8" fill="#b4bcc4"/>
<rect x="501.9" y="259.9" width="0.8" height="0.8" fill="#b4bcc4"/>
<rect x="479.5" y="264.3" width="0.8" height="0.8" fill="#b4bcc4"/>
<rect x="456.4" y="264.7" width="0.8" height="0.8" fill="#b4bcc4"/>
<rect x="473.6" y="263.2" width="0.8" height="0.8" fill="#b4bcc4"/>
<rect x="471.4" y="247.2" width="0.8" height="0.8" fill="#b4bcc4"/>
<rect x="502.9" y="255.1" width="0.8" height="0.8" fill="#b4bcc4"/>
<rect x="477.9" y="258.8" width="0.8" height="0.8" fill="#b4bcc4"/>
<rect x="500.4" y="266.8" width="0.8" height="0.8" fill="#b4bcc4"/>
<rect x="469.0" y="266.2" width="0.8" height="0.8" fill="#b4bcc4"/>
<rect x="461.3" y="266.6" width="0.8" height="0.8" fill="#b4bcc4"/>
<rect x="501.2" y="262.8" width="0.8" height="0.8" fill="#b4bcc4"/>
<rect x="490.3" y="256.9" width="0.8" height="0.8" fill="#b4bcc4"/>
<rect x="498.1" y="267.3" width="0.8" height="0.8" fill="#b4bcc4"/>
<rect x="492.9" y="251.4" width="0.8" height="0.8" fill="#b4bcc4"/>
<rect x="470.5" y="260.6" width="0.8" height="0.8" fill="#b4bcc4"/>
<rect x="484.1" y="265.3" width="0.8" height="0.8" fill="#b4bcc4"/>
<rect x="471.8" y="262.0" width="0.8" height="0.8" fill="#b4bcc4"/>
<rect x="474.8" y="258.5" width="0.8" height="0.8" fill="#b4bcc4"/>
<rect x="474.2" y="264.2" width="0.8" height="0.8" fill="#b4bcc4"/>
<rect x="496.9" y="264.6" width="0.8" height="0.8" fill="#b4bcc4"/>
<rect x="490.3" y="249.2" width="0.8" height="0.8" fill="#b4bcc4"/>
<rect x="496.5" y="265.0" width="0.8" height="0.8" fill="#b4bcc4"/>
<rect x="486.3" y="264.0" width="0.8" height="0.8" fill="#b4bcc4"/>
<rect x="478.6" y="265.7" width="0.8" height="0.8" fill="#b4bcc4"/>
<rect x="500.9" y="260.5" width="0.8" height="0.8" fill="#b4bcc4"/>
<rect x="455.4" y="247.5" width="0.8" height="0.8" fill="#b4bcc4"/>
<rect x="475.3" y="256.3" width="0.8" height="0.8" fill="#b4bcc4"/>
<rect x="502.5" y="254.5" width="0.8" height="0.8" fill="#b4bcc4"/>
<rect x="485.0" y="256.1" width="0.8" height="0.8" fill="#b4bcc4"/>
<rect x="479.1" y="253.8" width="0.8" height="0.8" fill="#b4bcc4"/>
<rect x="458.5" y="260.1" width="0.8" height="0.8" fill="#b4bcc4"/>
<rect x="468.6" y="265.2" width="0.8" height="0.8" fill="#b4bcc4"/>
<rect x="484.6" y="261.4" width="0.8" height="0.8" fill="#b4bcc4"/>
<rect x="460.6" y="249.2" width="0.8" height="0.8" fill="#b4bcc4"/>
<rect x="460.8" y="265.0" width="0.8" height="0.8" fill="#b4bcc4"/>
<rect x="460.2" y="258.5" width="0.8" height="0.8" fill="#b4bcc4"/>
<rect x="495.2" y="265.2" width="0.8" height="0.8" fill="#b4bcc4"/>
<rect x="472.2" y="252.0" width="0.8" height="0.8" fill="#b4bcc4"/>
<rect x="495.4" y="266.9" width="0.8" height="0.8" fill="#b4bcc4"/>
<rect x="481.1" y="265.4" width="0.8" height="0.8" fill="#b4bcc4"/>
<rect x="487.5" y="266.1" width="0.8" height="0.8" fill="#b4bcc4"/>
<rect x="472.4" y="248.6" width="0.8" height="0.8" fill="#b4bcc4"/>
<rect x="461.8" y="258.1" width="0.8" height="0.8" fill="#b4bcc4"/>
<rect x="501.4" y="256.0" width="0.8" height="0.8" fill="#b4bcc4"/>
<rect x="468.7" y="262.7" width="0.8" height="0.8" fill="#b4bcc4"/>
<rect x="475.7" y="264.6" width="0.8" height="0.8" fill="#b4bcc4"/>
<rect x="502.9" y="263.4" width="0.8" height="0.8" fill="#b4bcc4"/>
<rect x="498.7" y="249.5" width="0.8" height="0.8" fill="#b4bcc4"/>
<rect x="501.1" y="266.4" width="0.8" height="0.8" fill="#b4bcc4"/>
<rect x="487.5" y="257.7" width="0.8" height="0.8" fill="#b4bcc4"/>
<rect x="477.6" y="253.4" width="0.8" height="0.8" fill="#b4bcc4"/>
<rect x="464.7" y="252.3" width="0.8" height="0.8" fill="#b4bcc4"/>
<rect x="461.9" y="256.2" width="0.8" height="0.8" fill="#b4bcc4"/>
<rect x="470.6" y="257.6" width="0.8" height="0.8" fill="#b4bcc4"/>
<rect x="466.2" y="261.9" width="0.8" height="0.8" fill="#b4bcc4"/>
<rect x="478.8" y="267.3" width="0.8" height="0.8" fill="#b4bcc4"/>
<rect x="468.2" y="256.5" width="0.8" height="0.8" fill="#b4bcc4"/>
<rect x="496.3" y="247.8" width="0.8" height="0.8" fill="#b4bcc4"/>
<rect x="497.2" y="260.1" width="0.8" height="0.8" fill="#b4bcc4"/>
<rect x="457.0" y="264.9" width="0.8" height="0.8" fill="#b4bcc4"/>
<rect x="455.4" y="262.0" width="0.8" height="0.8" fill="#b4bcc4"/>
<rect x="499.2" y="265.2" width="0.8" height="0.8" fill="#b4bcc4"/>
<rect x="493.1" y="267.5" width="0.8" height="0.8" fill="#b4bcc4"/>
<rect x="467.6" y="261.6" width="0.8" height="0.8" fill="#b4bcc4"/>
<rect x="490.6" y="266.4" width="0.8" height="0.8" fill="#b4bcc4"/>
<rect x="467.3" y="263.0" width="0.8" height="0.8" fill="#b4bcc4"/>
<rect x="496.4" y="267.5" width="0.8" height="0.8" fill="#b4bcc4"/>
<rect x="459.4" y="266.7" width="0.8" height="0.8" fill="#b4bcc4"/>
<rect x="460.2" y="252.7" width="0.8" height="0.8" fill="#b4bcc4"/>
<rect x="490.4" y="246.8" width="0.8" height="0.8" fill="#b4bcc4"/>
<rect x="461.9" y="263.8" width="0.8" height="0.8" fill="#b4bcc4"/>
<rect x="458.5" y="265.8" width="0.8" height="0.8" fill="#b4bcc4"/>
<rect x="478.1" y="265.6" width="0.8" height="0.8" fill="#b4bcc4"/>
<rect x="470.8" y="261.6" width="0.8" height="0.8" fill="#b4bcc4"/>
<rect x="497.3" y="252.8" width="0.8" height="0.8" fill="#b4bcc4"/>
<rect x="463.6" y="260.5" width="0.8" height="0.8" fill="#b4bcc4"/>
<rect x="458.0" y="267.0" width="0.8" height="0.8" fill="#b4bcc4"/>
<rect x="473.4" y="258.7" width="0.8" height="0.8" fill="#b4bcc4"/>
<rect x="476.5" y="264.0" width="0.8" height="0.8" fill="#b4bcc4"/>
<rect x="485.1" y="256.2" width="0.8" height="0.8" fill="#b4bcc4"/>
<rect x="479.7" y="259.4" width="0.8" height="0.8" fill="#b4bcc4"/>
<rect x="477.9" y="260.7" width="0.8" height="0.8" fill="#b4bcc4"/>
<rect x="484.9" y="265.4" width="0.8" height="0.8" fill="#b4bcc4"/>
<rect x="463.6" y="264.5" width="0.8" height="0.8" fill="#b4bcc4"/>
<rect x="460.0" y="253.6" width="0.8" height="0.8" fill="#b4bcc4"/>
<rect x="461.5" y="265.0" width="0.8" height="0.8" fill="#b4bcc4"/>
<rect x="461.8" y="260.7" width="0.8" height="0.8" fill="#b4bcc4"/>
<rect x="498.0" y="261.5" width="0.8" height="0.8" fill="#b4bcc4"/>
<rect x="487.6" y="265.6" width="0.8" height="0.8" fill="#b4bcc4"/>
<rect x="496.6" y="247.7" width="0.8" height="0.8" fill="#b4bcc4"/>
<rect x="464.5" y="262.3" width="0.8" height="0.8" fill="#b4bcc4"/>
<rect x="472.9" y="262.3" width="0.8" height="0.8" fill="#b4bcc4"/>
<rect x="493.8" y="262.2" width="0.8" height="0.8" fill="#b4bcc4"/>
<rect x="494.3" y="264.5" width="0.8" height="0.8" fill="#b4bcc4"/>
<rect x="470.6" y="253.9" width="0.8" height="0.8" fill="#b4bcc4"/>
<rect x="480.1" y="253.9" width="0.8" height="0.8" fill="#b4bcc4"/>
<rect x="492.6" y="251.0" width="0.8" height="0.8" fill="#b4bcc4"/>
<rect x="501.5" y="258.6" width="0.8" height="0.8" fill="#b4bcc4"/>
<rect x="459.3" y="257.2" width="0.8" height="0.8" fill="#b4bcc4"/>
<rect x="498.1" y="261.5" width="0.8" height="0.8" fill="#b4bcc4"/>
<rect x="481.8" y="266.5" width="0.8" height="0.8" fill="#b4bcc4"/>
<rect x="501.2" y="247.7" width="0.8" height="0.8" fill="#b4bcc4"/>
<rect x="476.3" y="258.4" width="0.8" height="0.8" fill="#b4bcc4"/>
<rect x="465.9" y="256.8" width="0.8" height="0.8" fill="#b4bcc4"/>
<rect x="499.5" y="266.1" width="0.8" height="0.8" fill="#b4bcc4"/>
<rect x="474.5" y="264.7" width="0.8" height="0.8" fill="#b4bcc4"/>
<rect x="491.5" y="267.1" width="0.8" height="0.8" fill="#b4bcc4"/>
<rect x="471.3" y="255.2" width="0.8" height="0.8" fill="#b4bcc4"/>
<rect x="486.3" y="253.7" width="0.8" height="0.8" fill="#b4bcc4"/>
<rect x="480.2" y="264.3" width="0.8" height="0.8" fill="#b4bcc4"/>
<rect x="455.6" y="256.8" width="0.8" height="0.8" fill="#b4bcc4"/>
<rect x="459.6" y="255.2" width="0.8" height="0.8" fill="#b4bcc4"/>
<rect x="490.6" y="266.6" width="0.8" height="0.8" fill="#b4bcc4"/>
<rect x="486.8" y="256.8" width="0.8" height="0.8" fill="#b4bcc4"/>
<rect x="490.7" y="249.9" width="0.8" height="0.8" fill="#b4bcc4"/>
<rect x="476.7" y="265.6" width="0.8" height="0.8" fill="#b4bcc4"/>
<rect x="498.2" y="262.4" width="0.8" height="0.8" fill="#b4bcc4"/>
<rect x="465.9" y="263.7" width="0.8" height="0.8" fill="#b4bcc4"/>
<rect x="457.3" y="264.3" width="0.8" height="0.8" fill="#b4bcc4"/>
<rect x="465.5" y="247.3" width="0.8" height="0.8" fill="#b4bcc4"/>
<rect x="489.2" y="263.6" width="0.8" height="0.8" fill="#b4bcc4"/>
<rect x="478.6" y="263.5" width="0.8" height="0.8" fill="#b4bcc4"/>
<rect x="470.4" y="250.2" width="0.8" height="0.8" fill="#b4bcc4"/>
<rect x="496.4" y="253.4" width="0.8" height="0.8" fill="#b4bcc4"/>
<rect x="502.9" y="260.9" width="0.8" height="0.8" fill="#b4bcc4"/>
<rect x="471.0" y="264.5" width="0.8" height="0.8" fill="#b4bcc4"/>
<rect x="494.9" y="249.2" width="0.8" height="0.8" fill="#b4bcc4"/>
<rect x="490.6" y="253.4" width="0.8" height="0.8" fill="#b4bcc4"/>
<rect x="469.9" y="248.1" width="0.8" height="0.8" fill="#b4bcc4"/>
<rect x="500.0" y="255.8" width="0.8" height="0.8" fill="#b4bcc4"/>
<rect x="457.5" y="264.2" width="0.8" height="0.8" fill="#b4bcc4"/>
<rect x="489.7" y="262.2" width="0.8" height="0.8" fill="#b4bcc4"/>
<rect x="488.3" y="251.3" width="0.8" height="0.8" fill="#b4bcc4"/>
<rect x="480.2" y="262.2" width="0.8" height="0.8" fill="#b4bcc4"/>
<rect x="498.4" y="261.5" width="0.8" height="0.8" fill="#b4bcc4"/>
<rect x="485.2" y="260.4" width="0.8" height="0.8" fill="#b4bcc4"/>
<rect x="473.1" y="266.7" width="0.8" height="0.8" fill="#b4bcc4"/>
<rect x="482.7" y="254.5" width="0.8" height="0.8" fill="#b4bcc4"/>
<rect x="482.1" y="259.2" width="0.8" height="0.8" fill="#b4bcc4"/>
<rect x="502.7" y="260.1" width="0.8" height="0.8" fill="#b4bcc4"/>
<rect x="480.2" y="244.7" width="0.8" height="0.8" fill="#b4bcc4"/>
<rect x="488.6" y="261.7" width="0.8" height="0.8" fill="#b4bcc4"/>
<rect x="471.9" y="266.1" width="0.8" height="0.8" fill="#b4bcc4"/>
<rect x="464.9" y="260.4" width="0.8" height="0.8" fill="#b4bcc4"/>
<rect x="468.8" y="265.0" width="0.8" height="0.8" fill="#b4bcc4"/>
<rect x="487.0" y="261.7" width="0.8" height="0.8" fill="#b4bcc4"/>
<rect x="490.0" y="266.0" width="0.8" height="0.8" fill="#b4bcc4"/>
<rect x="474.0" y="256.7" width="0.8" height="0.8" fill="#b4bcc4"/>
<rect x="467.3" y="256.6" width="0.8" height="0.8" fill="#b4bcc4"/>
<rect x="465.5" y="259.4" width="0.8" height="0.8" fill="#b4bcc4"/>
<rect x="500.2" y="259.0" width="0.8" height="0.8" fill="#b4bcc4"/>
<rect x="496.4" y="266.0" width="0.8" height="0.8" fill="#b4bcc4"/>
<rect x="465.6" y="265.9" width="0.8" height="0.8" fill="#b4bcc4"/>
<rect x="474.4" y="266.6" width="0.8" height="0.8" fill="#b4bcc4"/>
<rect x="456.9" y="244.1" width="0.8" height="0.8" fill="#b4bcc4"/>
<rect x="456.2" y="245.3" width="0.8" height="0.8" fill="#b4bcc4"/>
<rect x="457.0" y="244.1" width="0.8" height="0.8" fill="#b4bcc4"/>
<rect x="456.6" y="249.5" width="0.8" height="0.8" fill="#b4bcc4"/>
<rect x="456.6" y="252.0" width="0.8" height="0.8" fill="#b4bcc4"/>
<rect x="454.7" y="246.7" width="0.8" height="0.8" fill="#b4bcc4"/>
<rect x="456.1" y="246.2" width="0.8" height="0.8" fill="#b4bcc4"/>
<rect x="454.8" y="245.8" width="0.8" height="0.8" fill="#b4bcc4"/>
<rect x="401.7" y="327.5" width="0.8" height="0.8" fill="#b4bcc4"/>
<rect x="400.4" y="302.8" width="0.8" height="0.8" fill="#b4bcc4"/>
<rect x="413.9" y="305.8" width="0.8" height="0.8" fill="#b4bcc4"/>
<rect x="409.4" y="334.5" width="0.8" height="0.8" fill="#b4bcc4"/>
<rect x="401.6" y="335.1" width="0.8" height="0.8" fill="#b4bcc4"/>
<rect x="424.0" y="322.0" width="0.8" height="0.8" fill="#b4bcc4"/>
<rect x="406.4" y="315.8" width="0.8" height="0.8" fill="#b4bcc4"/>
<rect x="414.9" y="330.4" width="0.8" height="0.8" fill="#b4bcc4"/>
<rect x="420.5" y="316.4" width="0.8" height="0.8" fill="#b4bcc4"/>
<rect x="399.1" y="320.0" width="0.8" height="0.8" fill="#b4bcc4"/>
<rect x="410.7" y="323.9" width="0.8" height="0.8" fill="#b4bcc4"/>
<rect x="395.9" y="318.6" width="0.8" height="0.8" fill="#b4bcc4"/>
<rect x="400.6" y="304.9" width="0.8" height="0.8" fill="#b4bcc4"/>
<rect x="426.3" y="334.6" width="0.8" height="0.8" fill="#b4bcc4"/>
<rect x="429.9" y="332.9" width="0.8" height="0.8" fill="#b4bcc4"/>
<rect x="417.2" y="329.2" width="0.8" height="0.8" fill="#b4bcc4"/>
<rect x="417.8" y="322.7" width="0.8" height="0.8" fill="#b4bcc4"/>
<rect x="406.2" y="329.5" width="0.8" height="0.8" fill="#b4bcc4"/>
<rect x="403.3" y="303.6" width="0.8" height="0.8" fill="#b4bcc4"/>
<rect x="395.1" y="306.4" width="0.8" height="0.8" fill="#b4bcc4"/>
<rect x="419.0" y="321.6" width="0.8" height="0.8" fill="#b4bcc4"/>
<rect x="391.7" y="316.2" width="0.8" height="0.8" fill="#b4bcc4"/>
<rect x="403.6" y="308.4" width="0.8" height="0.8" fill="#b4bcc4"/>
<rect x="393.5" y="317.6" width="0.8" height="0.8" fill="#b4bcc4"/>
<rect x="413.3" y="317.8" width="0.8" height="0.8" fill="#b4bcc4"/>
<rect x="401.6" y="323.0" width="0.8" height="0.8" fill="#b4bcc4"/>
<rect x="401.0" y="309.2" width="0.8" height="0.8" fill="#b4bcc4"/>
<rect x="424.1" y="323.6" width="0.8" height="0.8" fill="#b4bcc4"/>
<rect x="424.8" y="304.8" width="0.8" height="0.8" fill="#b4bcc4"/>
<rect x="415.0" y="311.3" width="0.8" height="0.8" fill="#b4bcc4"/>
<rect x="395.0" y="333.9" width="0.8" height="0.8" fill="#b4bcc4"/>
<rect x="403.7" y="313.9" width="0.8" height="0.8" fill="#b4bcc4"/>
<rect x="395.8" y="312.6" width="0.8" height="0.8" fill="#b4bcc4"/>
<rect x="392.0" y="320.6" width="0.8" height="0.8" fill="#b4bcc4"/>
<rect x="414.5" y="301.8" width="0.8" height="0.8" fill="#b4bcc4"/>
<rect x="401.2" y="335.9" width="0.8" height="0.8" fill="#b4bcc4"/>
<rect x="411.6" y="313.1" width="0.8" height="0.8" fill="#b4bcc4"/>
<rect x="420.0" y="339.0" width="0.8" height="0.8" fill="#b4bcc4"/>
<rect x="431.4" y="316.3" width="0.8" height="0.8" fill="#b4bcc4"/>
<rect x="414.0" y="333.4" width="0.8" height="0.8" fill="#b4bcc4"/>
<rect x="403.5" y="340.2" width="0.8" height="0.8" fill="#b4bcc4"/>
<rect x="391.4" y="329.4" width="0.8" height="0.8" fill="#b4bcc4"/>
<rect x="426.4" y="315.5" width="0.8" height="0.8" fill="#b4bcc4"/>
<rect x="427.5" y="328.9" width="0.8" height="0.8" fill="#b4bcc4"/>
<rect x="403.9" y="341.8" width="0.8" height="0.8" fill="#b4bcc4"/>
<rect x="402.0" y="332.1" width="0.8" height="0.8" fill="#b4bcc4"/>
<rect x="411.8" y="308.0" width="0.8" height="0.8" fill="#b4bcc4"/>
<rect x="430.6" y="320.7" width="0.8" height="0.8" fill="#b4bcc4"/>
<rect x="406.9" y="317.9" width="0.8" height="0.8" fill="#b4bcc4"/>
<rect x="394.6" y="323.1" width="0.8" height="0.8" fill="#b4bcc4"/>
<rect x="429.8" y="318.9" width="0.8" height="0.8" fill="#b4bcc4"/>
<rect x="423.5" y="325.9" width="0.8" height="0.8" fill="#b4bcc4"/>
<rect x="401.6" y="318.4" width="0.8" height="0.8" fill="#b4bcc4"/>
<rect x="401.0" y="320.4" width="0.8" height="0.8" fill="#b4bcc4"/>
<rect x="410.2" y="330.9" width="0.8" height="0.8" fill="#b4bcc4"/>
<rect x="426.8" y="334.2" width="0.8" height="0.8" fill="#b4bcc4"/>
<rect x="422.4" y="326.7" width="0.8" height="0.8" fill="#b4bcc4"/>
<rect x="418.9" y="324.1" width="0.8" height="0.8" fill="#b4bcc4"/>
<rect x="424.9" y="336.3" width="0.8" height="0.8" fill="#b4bcc4"/>
<rect x="426.7" y="319.0" width="0.8" height="0.8" fill="#b4bcc4"/>
<rect x="408.6" y="338.9" width="0.8" height="0.8" fill="#b4bcc4"/>
<rect x="420.3" y="338.0" width="0.8" height="0.8" fill="#b4bcc4"/>
<rect x="410.1" y="314.9" width="0.8" height="0.8" fill="#b4bcc4"/>
<rect x="399.7" y="302.7" width="0.8" height="0.8" fill="#b4bcc4"/>
<rect x="403.5" y="340.5" width="0.8" height="0.8" fill="#b4bcc4"/>
<rect x="399.2" y="340.8" width="0.8" height="0.8" fill="#b4bcc4"/>
<rect x="393.0" y="313.8" width="0.8" height="0.8" fill="#b4bcc4"/>
<rect x="425.9" y="335.2" width="0.8" height="0.8" fill="#b4bcc4"/>
<rect x="392.4" y="324.6" width="0.8" height="0.8" fill="#b4bcc4"/>
<rect x="413.4" y="332.0" width="0.8" height="0.8" fill="#b4bcc4"/>
<rect x="421.8" y="315.6" width="0.8" height="0.8" fill="#b4bcc4"/>
<rect x="401.0" y="309.0" width="0.8" height="0.8" fill="#b4bcc4"/>
<rect x="414.9" y="337.7" width="0.8" height="0.8" fill="#b4bcc4"/>
<rect x="426.4" y="306.1" width="0.8" height="0.8" fill="#b4bcc4"/>
<rect x="394.6" y="316.3" width="0.8" height="0.8" fill="#b4bcc4"/>
<rect x="421.7" y="322.5" width="0.8" height="0.8" fill="#b4bcc4"/>
<rect x="421.9" y="306.7" width="0.8" height="0.8" fill="#b4bcc4"/>
<rect x="410.1" y="315.4" width="0.8" height="0.8" fill="#b4bcc4"/>
<rect x="390.1" y="319.9" width="0.8" height="0.8" fill="#b4bcc4"/>
<rect x="396.8" y="337.7" width="0.8" height="0.8" fill="#b4bcc4"/>
<rect x="394.8" y="330.1" width="0.8" height="0.8" fill="#b4bcc4"/>
<rect x="417.0" y="331.4" width="0.8" height="0.8" fill="#b4bcc4"/>
<rect x="414.8" y="333.6" width="0.8" height="0.8" fill="#b4bcc4"/>
<rect x="425.5" y="311.6" width="0.8" height="0.8" fill="#b4bcc4"/>
<rect x="402.9" y="321.5" width="0.8" height="0.8" fill="#b4bcc4"/>
<rect x="427.5" y="323.3" width="0.8" height="0.8" fill="#b4bcc4"/>
<rect x="425.2" y="316.3" width="0.8" height="0.8" fill="#b4bcc4"/>
<rect x="430.1" y="321.7" width="0.8" height="0.8" fill="#b4bcc4"/>
<rect x="398.5" y="307.1" width="0.8" height="0.8" fill="#b4bcc4"/>
<rect x="412.4" y="337.4" width="0.8" height="0.8" fill="#b4bcc4"/>
<rect x="405.7" y="330.0" width="0.8" height="0.8" fill="#b4bcc4"/>
<rect x="424.7" y="315.8" width="0.8" height="0.8" fill="#b4bcc4"/>
<rect x="423.1" y="321.9" width="0.8" height="0.8" fill="#b4bcc4"/>
<rect x="391.8" y="328.2" width="0.8" height="0.8" fill="#b4bcc4"/>
<rect x="422.6" y="324.2" width="0.8" height="0.8" fill="#b4bcc4"/>
<rect x="433.6" y="323.0" width="0.8" height="0.8" fill="#b4bcc4"/>
<rect x="432.1" y="319.6" width="0.8" height="0.8" fill="#b4bcc4"/>
<rect x="392.7" y="332.7" width="0.8" height="0.8" fill="#b4bcc4"/>
<rect x="390.8" y="322.0" width="0.8" height="0.8" fill="#b4bcc4"/>
<rect x="421.3" y="340.2" width="0.8" height="0.8" fill="#b4bcc4"/>
<rect x="412.2" y="323.8" width="0.8" height="0.8" fill="#b4bcc4"/>
<rect x="393.0" y="320.2" width="0.8" height="0.8" fill="#b4bcc4"/>
<rect x="396.4" y="324.9" width="0.8" height="0.8" fill="#b4bcc4"/>
<rect x="422.0" y="322.3" width="0.8" height="0.8" fill="#b4bcc4"/>
<rect x="422.5" y="319.6" width="0.8" height="0.8" fill="#b4bcc4"/>
<rect x="417.8" y="307.3" width="0.8" height="0.8" fill="#b4bcc4"/>
<rect x="410.3" y="330.6" width="0.8" height="0.8" fill="#b4bcc4"/>
<rect x="409.9" y="306.8" width="0.8" height="0.8" fill="#b4bcc4"/>
<rect x="410.9" y="306.0" width="0.8" height="0.8" fill="#b4bcc4"/>
<rect x="414.2" y="333.1" width="0.8" height="0.8" fill="#b4bcc4"/>
<rect x="390.0" y="331.9" width="0.8" height="0.8" fill="#b4bcc4"/>
<rect x="409.0" y="307.1" width="0.8" height="0.8" fill="#b4bcc4"/>
<rect x="421.1" y="308.5" width="0.8" height="0.8" fill="#b4bcc4"/>
<rect x="429.5" y="316.3" width="0.8" height="0.8" fill="#b4bcc4"/>
<rect x="406.4" y="324.5" width="0.8" height="0.8" fill="#b4bcc4"/>
<rect x="415.6" y="336.5" width="0.8" height="0.8" fill="#b4bcc4"/>
<rect x="416.8" y="339.7" width="0.8" height="0.8" fill="#b4bcc4"/>
<rect x="416.2" y="327.6" width="0.8" height="0.8" fill="#b4bcc4"/>
<rect x="426.5" y="315.2" width="0.8" height="0.8" fill="#b4bcc4"/>
<rect x="398.7" y="322.6" width="0.8" height="0.8" fill="#b4bcc4"/>
<rect x="411.3" y="327.4" width="0.8" height="0.8" fill="#b4bcc4"/>
<rect x="393.2" y="324.2" width="0.8" height="0.8" fill="#b4bcc4"/>
<rect x="395.5" y="324.4" width="0.8" height="0.8" fill="#b4bcc4"/>
<rect x="423.8" y="331.4" width="0.8" height="0.8" fill="#b4bcc4"/>
<rect x="401.2" y="335.9" width="0.8" height="0.8" fill="#b4bcc4"/>
<rect x="427.4" y="334.7" width="0.8" height="0.8" fill="#b4bcc4"/>
<rect x="390.5" y="330.0" width="0.8" height="0.8" fill="#b4bcc4"/>
<rect x="393.0" y="329.6" width="0.8" height="0.8" fill="#b4bcc4"/>
<rect x="394.7" y="336.2" width="0.8" height="0.8" fill="#b4bcc4"/>
<rect x="403.3" y="321.8" width="0.8" height="0.8" fill="#b4bcc4"/>
<rect x="395.5" y="337.1" width="0.8" height="0.8" fill="#b4bcc4"/>
<rect x="399.3" y="311.4" width="0.8" height="0.8" fill="#b4bcc4"/>
<rect x="394.1" y="326.1" width="0.8" height="0.8" fill="#b4bcc4"/>
<rect x="398.5" y="319.7" width="0.8" height="0.8" fill="#b4bcc4"/>
<rect x="420.7" y="340.4" width="0.8" height="0.8" fill="#b4bcc4"/>
<rect x="409.0" y="314.3" width="0.8" height="0.8" fill="#b4bcc4"/>
<rect x="408.6" y="304.2" width="0.8" height="0.8" fill="#b4bcc4"/>
<rect x="421.1" y="318.1" width="0.8" height="0.8" fill="#b4bcc4"/>
<rect x="396.5" y="334.7" width="0.8" height="0.8" fill="#b4bcc4"/>
<rect x="427.4" y="324.4" width="0.8" height="0.8" fill="#b4bcc4"/>
<rect x="406.0" y="322.7" width="0.8" height="0.8" fill="#b4bcc4"/>
<rect x="413.2" y="339.5" width="0.8" height="0.8" fill="#b4bcc4"/>
<rect x="426.6" y="335.6" width="0.8" height="0.8" fill="#b4bcc4"/>
<rect x="428.2" y="314.2" width="0.8" height="0.8" fill="#b4bcc4"/>
<rect x="413.4" y="305.5" width="0.8" height="0.8" fill="#b4bcc4"/>
<rect x="428.8" y="316.6" width="0.8" height="0.8" fill="#b4bcc4"/>
<rect x="406.5" y="304.8" width="0.8" height="0.8" fill="#b4bcc4"/>
<rect x="406.9" y="309.2" width="0.8" height="0.8" fill="#b4bcc4"/>
<rect x="398.2" y="310.5" width="0.8" height="0.8" fill="#b4bcc4"/>
<rect x="396.6" y="306.7" width="0.8" height="0.8" fill="#b4bcc4"/>
<rect x="403.2" y="323.0" width="0.8" height="0.8" fill="#b4bcc4"/>
<rect x="394.0" y="322.4" width="0.8" height="0.8" fill="#b4bcc4"/>
<rect x="405.8" y="315.1" width="0.8" height="0.8" fill="#b4bcc4"/>
<rect x="401.7" y="304.2" width="0.8" height="0.8" fill="#b4bcc4"/>
<rect x="393.1" y="333.5" width="0.8" height="0.8" fill="#b4bcc4"/>
<rect x="408.7" y="303.9" width="0.8" height="0.8" fill="#b4bcc4"/>
<rect x="414.4" y="315.9" width="0.8" height="0.8" fill="#b4bcc4"/>
<rect x="409.0" y="324.1" width="0.8" height="0.8" fill="#b4bcc4"/>
<rect x="425.3" y="316.5" width="0.8" height="0.8" fill="#b4bcc4"/>
<rect x="430.3" y="322.2" width="0.8" height="0.8" fill="#b4bcc4"/>
<rect x="430.7" y="318.1" width="0.8" height="0.8" fill="#b4bcc4"/>
<rect x="413.7" y="315.1" width="0.8" height="0.8" fill="#b4bcc4"/>
<rect x="428.5" y="330.9" width="0.8" height="0.8" fill="#b4bcc4"/>
<rect x="409.2" y="339.6" width="0.8" height="0.8" fill="#b4bcc4"/>
<rect x="393.4" y="315.5" width="0.8" height="0.8" fill="#b4bcc4"/>
<rect x="399.4" y="321.5" width="0.8" height="0.8" fill="#b4bcc4"/>
<rect x="410.8" y="340.4" width="0.8" height="0.8" fill="#b4bcc4"/>
<rect x="412.8" y="309.6" width="0.8" height="0.8" fill="#b4bcc4"/>
<rect x="423.0" y="322.7" width="0.8" height="0.8" fill="#b4bcc4"/>
<rect x="413.5" y="302.6" width="0.8" height="0.8" fill="#b4bcc4"/>
<rect x="420.2" y="311.7" width="0.8" height="0.8" fill="#b4bcc4"/>
<rect x="402.5" y="325.2" width="0.8" height="0.8" fill="#b4bcc4"/>
<rect x="406.0" y="305.6" width="0.8" height="0.8" fill="#b4bcc4"/>
<rect x="411.1" y="307.7" width="0.8" height="0.8" fill="#b4bcc4"/>
<rect x="418.0" y="328.0" width="0.8" height="0.8" fill="#b4bcc4"/>
<rect x="401.3" y="338.8" width="0.8" height="0.8" fill="#b4bcc4"/>
<rect x="416.5" y="311.1" width="0.8" height="0.8" fill="#b4bcc4"/>
<rect x="397.8" y="313.7" width="0.8" height="0.8" fill="#b4bcc4"/>
<rect x="410.9" y="314.7" width="0.8" height="0.8" fill="#b4bcc4"/>
<rect x="418.5" y="302.7" width="0.8" height="0.8" fill="#b4bcc4"/>
<rect x="394.6" y="321.8" width="0.8" height="0.8" fill="#b4bcc4"/>
<rect x="413.0" y="339.6" width="0.8" height="0.8" fill="#b4bcc4"/>
<rect x="406.4" y="305.6" width="0.8" height="0.8" fill="#b4bcc4"/>
<rect x="423.5" y="319.2" width="0.8" height="0.8" fill="#b4bcc4"/>
<rect x="416.3" y="328.7" width="0.8" height="0.8" fill="#b4bcc4"/>
<rect x="417.8" y="338.2" width="0.8" height="0.8" fill="#b4bcc4"/>
<rect x="420.3" y="335.5" width="0.8" height="0.8" fill="#b4bcc4"/>
<rect x="400.9" y="316.4" width="0.8" height="0.8" fill="#b4bcc4"/>
<rect x="403.2" y="326.8" width="0.8" height="0.8" fill="#b4bcc4"/>
<rect x="413.0" y="326.6" width="0.8" height="0.8" fill="#b4bcc4"/>
<rect x="419.1" y="316.8" width="0.8" height="0.8" fill="#b4bcc4"/>
<rect x="419.3" y="330.6" width="0.8" height="0.8" fill="#b4bcc4"/>
<rect x="398.0" y="320.5" width="0.8" height="0.8" fill="#b4bcc4"/>
<rect x="419.2" y="336.2" width="0.8" height="0.8" fill="#b4bcc4"/>
<rect x="433.1" y="317.0" width="0.8" height="0.8" fill="#b4bcc4"/>
<rect x="409.2" y="308.8" width="0.8" height="0.8" fill="#b4bcc4"/>
<rect x="415.0" y="305.9" width="0.8" height="0.8" fill="#b4bcc4"/>
<rect x="403.9" y="311.4" width="0.8" height="0.8" fill="#b4bcc4"/>
<rect x="417.3" y="304.2" width="0.8" height="0.8" fill="#b4bcc4"/>
<rect x="399.7" y="304.1" width="0.8" height="0.8" fill="#b4bcc4"/>
<rect x="421.1" y="304.2" width="0.8" height="0.8" fill="#b4bcc4"/>
<rect x="415.3" y="319.0" width="0.8" height="0.8" fill="#b4bcc4"/>
<rect x="410.1" y="301.1" width="0.8" height="0.8" fill="#b4bcc4"/>
<rect x="392.7" y="334.3" width="0.8" height="0.8" fill="#b4bcc4"/>
<rect x="392.3" y="307.5" width="0.8" height="0.8" fill="#b4bcc4"/>
<rect x="407.5" y="340.8" width="0.8" height="0.8" fill="#b4bcc4"/>
<rect x="414.9" y="315.1" width="0.8" height="0.8" fill="#b4bcc4"/>
<rect x="394.2" y="307.6" width="0.8" height="0.8" fill="#b4bcc4"/>
<rect x="411.8" y="339.9" width="0.8" height="0.8" fill="#b4bcc4"/>
<rect x="419.1" y="319.2" width="0.8" height="0.8" fill="#b4bcc4"/>
<rect x="405.6" y="336.0" width="0.8" height="0.8" fill="#b4bcc4"/>
<rect x="420.3" y="338.7" width="0.8" height="0.8" fill="#b4bcc4"/>
<rect x="411.0" y="322.6" width="0.8" height="0.8" fill="#b4bcc4"/>
<rect x="401.4" y="318.1" width="0.8" height="0.8" fill="#b4bcc4"/>
<rect x="421.8" y="306.7" width="0.8" height="0.8" fill="#b4bcc4"/>
<rect x="423.0" y="309.0" width="0.8" height="0.8" fill="#b4bcc4"/>
<rect x="418.0" y="312.1" width="0.8" height="0.8" fill="#b4bcc4"/>
<rect x="395.7" y="305.6" width="0.8" height="0.8" fill="#b4bcc4"/>
<rect x="395.6" y="323.8" width="0.8" height="0.8" fill="#b4bcc4"/>
<rect x="399.4" y="330.2" width="0.8" height="0.8" fill="#b4bcc4"/>
<rect x="403.6" y="334.1" width="0.8" height="0.8" fill="#b4bcc4"/>
<rect x="415.0" y="318.1" width="0.8" height="0.8" fill="#b4bcc4"/>
<rect x="411.2" y="336.4" width="0.8" height="0.8" fill="#b4bcc4"/>
<rect x="412.9" y="303.9" width="0.8" height="0.8" fill="#b4bcc4"/>
<rect x="397.0" y="322.0" width="0.8" height="0.8" fill="#b4bcc4"/>
<rect x="411.7" y="339.7" width="0.8" height="0.8" fill="#b4bcc4"/>
<rect x="426.4" y="309.7" width="0.8" height="0.8" fill="#b4bcc4"/>
<rect x="411.0" y="311.8" width="0.8" height="0.8" fill="#b4bcc4"/>
<rect x="416.3" y="310.5" width="0.8" height="0.8" fill="#b4bcc4"/>
<rect x="412.8" y="329.5" width="0.8" height="0.8" fill="#b4bcc4"/>
<rect x="410.7" y="325.9" width="0.8" height="0.8" fill="#b4bcc4"/>
<rect x="400.8" y="335.2" width="0.8" height="0.8" fill="#b4bcc4"/>
<rect x="417.4" y="308.6" width="0.8" height="0.8" fill="#b4bcc4"/>
<rect x="399.4" y="314.2" width="0.8" height="0.8" fill="#b4bcc4"/>
<rect x="407.7" y="324.2" width="0.8" height="0.8" fill="#b4bcc4"/>
<rect x="429.9" y="312.1" width="0.8" height="0.8" fill="#b4bcc4"/>
<rect x="421.1" y="303.4" width="0.8" height="0.8" fill="#b4bcc4"/>
<rect x="409.9" y="323.6" width="0.8" height="0.8" fill="#b4bcc4"/>
<rect x="396.2" y="305.4" width="0.8" height="0.8" fill="#b4bcc4"/>
<rect x="423.0" y="306.1" width="0.8" height="0.8" fill="#b4bcc4"/>
<rect x="401.5" y="323.5" width="0.8" height="0.8" fill="#b4bcc4"/>
<rect x="414.4" y="303.4" width="0.8" height="0.8" fill="#b4bcc4"/>
<rect x="423.6" y="336.2" width="0.8" height="0.8" fill="#b4bcc4"/>
<rect x="410.2" y="336.1" width="0.8" height="0.8" fill="#b4bcc4"/>
<rect x="426.2" y="327.1" width="0.8" height="0.8" fill="#b4bcc4"/>
<rect x="403.8" y="322.7" width="0.8" height="0.8" fill="#b4bcc4"/>
<rect x="405.0" y="331.7" width="0.8" height="0.8" fill="#b4bcc4"/>
<rect x="430.2" y="313.2" width="0.8" height="0.8" fill="#b4bcc4"/>
<rect x="402.8" y="337.3" width="0.8" height="0.8" fill="#b4bcc4"/>
<rect x="420.6" y="304.2" width="0.8" height="0.8" fill="#b4bcc4"/>
<rect x="390.9" y="311.4" width="0.8" height="0.8" fill="#b4bcc4"/>
<rect x="396.9" y="328.0" width="0.8" height="0.8" fill="#b4bcc4"/>
<rect x="412.7" y="333.7" width="0.8" height="0.8" fill="#b4bcc4"/>
<rect x="399.5" y="330.3" width="0.8" height="0.8" fill="#b4bcc4"/>
<rect x="427.8" y="326.3" width="0.8" height="0.8" fill="#b4bcc4"/>
<rect x="411.5" y="334.1" width="0.8" height="0.8" fill="#b4bcc4"/>
<rect x="392.4" y="314.6" width="0.8" height="0.8" fill="#b4bcc4"/>
<rect x="418.9" y="326.3" width="0.8" height="0.8" fill="#b4bcc4"/>
<rect x="406.8" y="329.7" width="0.8" height="0.8" fill="#b4bcc4"/>
<rect x="399.4" y="322.5" width="0.8" height="0.8" fill="#b4bcc4"/>
<rect x="424.4" y="319.6" width="0.8" height="0.8" fill="#b4bcc4"/>
<rect x="395.4" y="315.6" width="0.8" height="0.8" fill="#b4bcc4"/>
<rect x="422.1" y="304.7" width="0.8" height="0.8" fill="#b4bcc4"/>
<rect x="414.9" y="308.4" width="0.8" height="0.8" fill="#b4bcc4"/>
<rect x="430.2" y="317.1" width="0.8" height="0.8" fill="#b4bcc4"/>
<rect x="417.0" y="334.2" width="0.8" height="0.8" fill="#b4bcc4"/>
<rect x="396.0" y="306.4" width="0.8" height="0.8" fill="#b4bcc4"/>
<rect x="399.9" y="323.2" width="0.8" height="0.8" fill="#b4bcc4"/>
<rect x="399.4" y="326.5" width="0.8" height="0.8" fill="#b4bcc4"/>
<rect x="396.6" y="339.4" width="0.8" height="0.8" fill="#b4bcc4"/>
<rect x="400.9" y="311.1" width="0.8" height="0.8" fill="#b4bcc4"/>
<rect x="418.3" y="307.2" width="0.8" height="0.8" fill="#b4bcc4"/>
<rect x="428.2" y="320.4" width="0.8" height="0.8" fill="#b4bcc4"/>
<rect x="399.3" y="328.2" width="0.8" height="0.8" fill="#b4bcc4"/>
<rect x="415.3" y="332.5" width="0.8" height="0.8" fill="#b4bcc4"/>
<rect x="411.7" y="313.2" width="0.8" height="0.8" fill="#b4bcc4"/>
<rect x="421.8" y="340.3" width="0.8" height="0.8" fill="#b4bcc4"/>
<rect x="390.9" y="333.0" width="0.8" height="0.8" fill="#b4bcc4"/>
<rect x="405.1" y="339.6" width="0.8" height="0.8" fill="#b4bcc4"/>
<rect x="396.0" y="337.7" width="0.8" height="0.8" fill="#b4bcc4"/>
<rect x="392.3" y="328.2" width="0.8" height="0.8" fill="#b4bcc4"/>
<rect x="403.1" y="314.2" width="0.8" height="0.8" fill="#b4bcc4"/>
<rect x="423.5" y="327.2" width="0.8" height="0.8" fill="#b4bcc4"/>
<rect x="424.6" y="317.7" width="0.8" height="0.8" fill="#b4bcc4"/>
<rect x="419.4" y="328.1" width="0.8" height="0.8" fill="#b4bcc4"/>
<rect x="423.9" y="311.4" width="0.8" height="0.8" fill="#b4bcc4"/>
<rect x="408.5" y="300.6" width="0.8" height="0.8" fill="#b4bcc4"/>
<rect x="422.6" y="340.1" width="0.8" height="0.8" fill="#b4bcc4"/>
<rect x="414.6" y="303.7" width="0.8" height="0.8" fill="#b4bcc4"/>
<rect x="429.5" y="333.7" width="0.8" height="0.8" fill="#b4bcc4"/>
<rect x="416.1" y="335.4" width="0.8" height="0.8" fill="#b4bcc4"/>
<rect x="402.2" y="320.4" width="0.8" height="0.8" fill="#b4bcc4"/>
<rect x="416.4" y="318.6" width="0.8" height="0.8" fill="#b4bcc4"/>
<rect x="412.0" y="302.6" width="0.8" height="0.8" fill="#b4bcc4"/>
<rect x="424.5" y="327.7" width="0.8" height="0.8" fill="#b4bcc4"/>
<rect x="416.2" y="340.3" width="0.8" height="0.8" fill="#b4bcc4"/>
<rect x="403.6" y="315.2" width="0.8" height="0.8" fill="#b4bcc4"/>
<rect x="409.9" y="334.6" width="0.8" height="0.8" fill="#b4bcc4"/>
<rect x="426.4" y="330.3" width="0.8" height="0.8" fill="#b4bcc4"/>
<rect x="428.0" y="336.4" width="0.8" height="0.8" fill="#b4bcc4"/>
<rect x="396.9" y="339.5" width="0.8" height="0.8" fill="#b4bcc4"/>
<rect x="408.9" y="336.6" width="0.8" height="0.8" fill="#b4bcc4"/>
<rect x="394.5" y="317.8" width="0.8" height="0.8" fill="#b4bcc4"/>
<rect x="393.1" y="312.5" width="0.8" height="0.8" fill="#b4bcc4"/>
<rect x="421.2" y="309.4" width="0.8" height="0.8" fill="#b4bcc4"/>
<rect x="427.8" y="312.5" width="0.8" height="0.8" fill="#b4bcc4"/>
<rect x="399.5" y="312.1" width="0.8" height="0.8" fill="#b4bcc4"/>
<rect x="395.5" y="338.3" width="0.8" height="0.8" fill="#b4bcc4"/>
<rect x="401.6" y="308.0" width="0.8" height="0.8" fill="#b4bcc4"/>
<rect x="404.6" y="305.9" width="0.8" height="0.8" fill="#b4bcc4"/>
<rect x="421.9" y="303.3" width="0.8" height="0.8" fill="#b4bcc4"/>
<rect x="393.8" y="321.0" width="0.8" height="0.8" fill="#b4bcc4"/>
<rect x="429.1" y="333.2" width="0.8" height="0.8" fill="#b4bcc4"/>
<rect x="405.0" y="315.0" width="0.8" height="0.8" fill="#b4bcc4"/>
<rect x="414.5" y="337.7" width="0.8" height="0.8" fill="#b4bcc4"/>
<rect x="427.2" y="330.3" width="0.8" height="0.8" fill="#b4bcc4"/>
<rect x="413.6" y="336.5" width="0.8" height="0.8" fill="#b4bcc4"/>
<rect x="430.4" y="332.9" width="0.8" height="0.8" fill="#b4bcc4"/>
<rect x="412.9" y="311.8" width="0.8" height="0.8" fill="#b4bcc4"/>
<rect x="408.0" y="319.7" width="0.8" height="0.8" fill="#b4bcc4"/>
<rect x="397.2" y="327.8" width="0.8" height="0.8" fill="#b4bcc4"/>
<rect x="415.5" y="337.8" width="0.8" height="0.8" fill="#b4bcc4"/>
<rect x="401.7" y="334.8" width="0.8" height="0.8" fill="#b4bcc4"/>
<rect x="422.0" y="340.6" width="0.8" height="0.8" fill="#b4bcc4"/>
<rect x="420.0" y="338.9" width="0.8" height="0.8" fill="#b4bcc4"/>
<rect x="417.5" y="310.5" width="0.8" height="0.8" fill="#b4bcc4"/>
<rect x="429.6" y="316.1" width="0.8" height="0.8" fill="#b4bcc4"/>
<rect x="413.0" y="323.0" width="0.8" height="0.8" fill="#b4bcc4"/>
<rect x="426.2" y="309.7" width="0.8" height="0.8" fill="#b4bcc4"/>
<rect x="430.4" y="324.8" width="0.8" height="0.8" fill="#b4bcc4"/>
<rect x="431.1" y="331.3" width="0.8" height="0.8" fill="#b4bcc4"/>
<rect x="412.4" y="327.8" width="0.8" height="0.8" fill="#b4bcc4"/>
<rect x="392.5" y="323.6" width="0.8" height="0.8" fill="#b4bcc4"/>
<rect x="397.9" y="340.6" width="0.8" height="0.8" fill="#b4bcc4"/>
<rect x="409.7" y="327.1" width="0.8" height="0.8" fill="#b4bcc4"/>
<rect x="416.5" y="336.9" width="0.8" height="0.8" fill="#b4bcc4"/>
<rect x="430.9" y="322.0" width="0.8" height="0.8" fill="#b4bcc4"/>
<rect x="399.9" y="319.7" width="0.8" height="0.8" fill="#b4bcc4"/>
<rect x="393.1" y="318.8" width="0.8" height="0.8" fill="#b4bcc4"/>
<rect x="394.8" y="334.4" width="0.8" height="0.8" fill="#b4bcc4"/>
<rect x="417.1" y="303.1" width="0.8" height="0.8" fill="#b4bcc4"/>
<rect x="423.3" y="324.2" width="0.8" height="0.8" fill="#b4bcc4"/>
<rect x="405.1" y="337.6" width="0.8" height="0.8" fill="#b4bcc4"/>
<rect x="399.5" y="326.9" width="0.8" height="0.8" fill="#b4bcc4"/>
<rect x="421.9" y="308.4" width="0.8" height="0.8" fill="#b4bcc4"/>
<rect x="411.5" y="325.6" width="0.8" height="0.8" fill="#b4bcc4"/>
<rect x="416.7" y="309.5" width="0.8" height="0.8" fill="#b4bcc4"/>
<rect x="396.8" y="333.1" width="0.8" height="0.8" fill="#b4bcc4"/>
<rect x="404.4" y="341.5" width="0.8" height="0.8" fill="#b4bcc4"/>
<rect x="421.5" y="325.1" width="0.8" height="0.8" fill="#b4bcc4"/>
<rect x="428.0" y="327.9" width="0.8" height="0.8" fill="#b4bcc4"/>
<rect x="409.5" y="330.3" width="0.8" height="0.8" fill="#b4bcc4"/>
<rect x="400.3" y="324.1" width="0.8" height="0.8" fill="#b4bcc4"/>
<rect x="428.0" y="333.8" width="0.8" height="0.8" fill="#b4bcc4"/>
<rect x="415.8" y="336.8" width="0.8" height="0.8" fill="#b4bcc4"/>
<rect x="401.4" y="319.6" width="0.8" height="0.8" fill="#b4bcc4"/>
<rect x="403.1" y="308.5" width="0.8" height="0.8" fill="#b4bcc4"/>
<rect x="393.7" y="312.3" width="0.8" height="0.8" fill="#b4bcc4"/>
<rect x="415.1" y="321.8" width="0.8" height="0.8" fill="#b4bcc4"/>
<rect x="411.3" y="336.9" width="0.8" height="0.8" fill="#b4bcc4"/>
<rect x="422.6" y="323.0" width="0.8" height="0.8" fill="#b4bcc4"/>
<rect x="403.3" y="326.0" width="0.8" height="0.8" fill="#b4bcc4"/>
<rect x="400.1" y="316.0" width="0.8" height="0.8" fill="#b4bcc4"/>
<rect x="421.3" y="317.6" width="0.8" height="0.8" fill="#b4bcc4"/>
<rect x="426.9" y="316.4" width="0.8" height="0.8" fill="#b4bcc4"/>
<rect x="419.4" y="321.3" width="0.8" height="0.8" fill="#b4bcc4"/>
<rect x="415.0" y="316.4" width="0.8" height="0.8" fill="#b4bcc4"/>
<rect x="430.7" y="316.9" width="0.8" height="0.8" fill="#b4bcc4"/>
<rect x="399.4" y="321.9" width="0.8" height="0.8" fill="#b4bcc4"/>
<rect x="396.0" y="317.4" width="0.8" height="0.8" fill="#b4bcc4"/>
<rect x="411.8" y="306.0" width="0.8" height="0.8" fill="#b4bcc4"/>
<rect x="422.0" y="312.8" width="0.8" height="0.8" fill="#b4bcc4"/>
<rect x="416.6" y="322.9" width="0.8" height="0.8" fill="#b4bcc4"/>
<rect x="410.3" y="316.0" width="0.8" height="0.8" fill="#b4bcc4"/>
<rect x="409.7" y="332.2" width="0.8" height="0.8" fill="#b4bcc4"/>
<rect x="404.1" y="307.2" width="0.8" height="0.8" fill="#b4bcc4"/>
<rect x="406.8" y="318.7" width="0.8" height="0.8" fill="#b4bcc4"/>
<rect x="429.1" y="335.3" width="0.8" height="0.8" fill="#b4bcc4"/>
<rect x="425.6" y="305.6" width="0.8" height="0.8" fill="#b4bcc4"/>
<rect x="418.8" y="311.3" width="0.8" height="0.8" fill="#b4bcc4"/>
<rect x="426.8" y="330.7" width="0.8" height="0.8" fill="#b4bcc4"/>
<rect x="426.8" y="322.2" width="0.8" height="0.8" fill="#b4bcc4"/>
<rect x="424.7" y="339.0" width="0.8" height="0.8" fill="#b4bcc4"/>
<rect x="400.0" y="317.4" width="0.8" height="0.8" fill="#b4bcc4"/>
<rect x="412.8" y="322.0" width="0.8" height="0.8" fill="#b4bcc4"/>
<rect x="390.6" y="323.5" width="0.8" height="0.8" fill="#b4bcc4"/>
<rect x="423.5" y="313.3" width="0.8" height="0.8" fill="#b4bcc4"/>
<rect x="399.5" y="315.4" width="0.8" height="0.8" fill="#b4bcc4"/>
<rect x="399.9" y="316.5" width="0.8" height="0.8" fill="#b4bcc4"/>
<rect x="412.7" y="313.2" width="0.8" height="0.8" fill="#b4bcc4"/>
<rect x="428.5" y="327.5" width="0.8" height="0.8" fill="#b4bcc4"/>
<rect x="429.2" y="332.8" width="0.8" height="0.8" fill="#b4bcc4"/>
<rect x="431.2" y="329.2" width="0.8" height="0.8" fill="#b4bcc4"/>
<rect x="418.6" y="340.8" width="0.8" height="0.8" fill="#b4bcc4"/>
<rect x="401.0" y="324.1" width="0.8" height="0.8" fill="#b4bcc4"/>
<rect x="397.5" y="330.9" width="0.8" height="0.8" fill="#b4bcc4"/>
<rect x="404.4" y="308.6" width="0.8" height="0.8" fill="#b4bcc4"/>
<rect x="427.8" y="323.9" width="0.8" height="0.8" fill="#b4bcc4"/>
<rect x="424.4" y="335.8" width="0.8" height="0.8" fill="#b4bcc4"/>
<rect x="408.3" y="335.6" width="0.8" height="0.8" fill="#b4bcc4"/>
<rect x="407.2" y="309.4" width="0.8" height="0.8" fill="#b4bcc4"/>
<rect x="424.2" y="307.4" width="0.8" height="0.8" fill="#b4bcc4"/>
<rect x="421.8" y="328.7" width="0.8" height="0.8" fill="#b4bcc4"/>
<rect x="425.2" y="326.6" width="0.8" height="0.8" fill="#b4bcc4"/>
<rect x="431.8" y="326.4" width="0.8" height="0.8" fill="#b4bcc4"/>
<rect x="391.4" y="328.7" width="0.8" height="0.8" fill="#b4bcc4"/>
<rect x="394.8" y="335.8" width="0.8" height="0.8" fill="#b4bcc4"/>
<rect x="396.7" y="309.0" width="0.8" height="0.8" fill="#b4bcc4"/>
<rect x="421.0" y="338.7" width="0.8" height="0.8" fill="#b4bcc4"/>
<rect x="397.8" y="335.0" width="0.8" height="0.8" fill="#b4bcc4"/>
<rect x="394.8" y="313.5" width="0.8" height="0.8" fill="#b4bcc4"/>
<rect x="400.6" y="337.9" width="0.8" height="0.8" fill="#b4bcc4"/>
<rect x="421.3" y="314.1" width="0.8" height="0.8" fill="#b4bcc4"/>
<rect x="428.9" y="333.6" width="0.8" height="0.8" fill="#b4bcc4"/>
<rect x="390.6" y="324.5" width="0.8" height="0.8" fill="#b4bcc4"/>
<rect x="427.4" y="336.5" width="0.8" height="0.8" fill="#b4bcc4"/>
<rect x="423.7" y="335.6" width="0.8" height="0.8" fill="#b4bcc4"/>
<rect x="401.7" y="311.4" width="0.8" height="0.8" fill="#b4bcc4"/>
<rect x="409.6" y="312.0" width="0.8" height="0.8" fill="#b4bcc4"/>
<rect x="412.6" y="341.6" width="0.8" height="0.8" fill="#b4bcc4"/>
<rect x="419.7" y="319.5" width="0.8" height="0.8" fill="#b4bcc4"/>
<rect x="418.2" y="301.5" width="0.8" height="0.8" fill="#b4bcc4"/>
<rect x="406.2" y="314.5" width="0.8" height="0.8" fill="#b4bcc4"/>
<rect x="410.2" y="309.7" width="0.8" height="0.8" fill="#b4bcc4"/>
<rect x="426.2" y="310.4" width="0.8" height="0.8" fill="#b4bcc4"/>
<rect x="417.3" y="303.4" width="0.8" height="0.8" fill="#b4bcc4"/>
<rect x="424.8" y="323.1" width="0.8" height="0.8" fill="#b4bcc4"/>
<rect x="413.5" y="339.4" width="0.8" height="0.8" fill="#b4bcc4"/>
<rect x="422.3" y="330.4" width="0.8" height="0.8" fill="#b4bcc4"/>
<rect x="404.2" y="325.0" width="0.8" height="0.8" fill="#b4bcc4"/>
<rect x="403.8" y="326.2" width="0.8" height="0.8" fill="#b4bcc4"/>
<rect x="399.2" y="332.6" width="0.8" height="0.8" fill="#b4bcc4"/>
<rect x="415.0" y="316.8" width="0.8" height="0.8" fill="#b4bcc4"/>
<rect x="417.1" y="311.7" width="0.8" height="0.8" fill="#b4bcc4"/>
<rect x="392.7" y="330.1" width="0.8" height="0.8" fill="#b4bcc4"/>
<rect x="398.9" y="324.3" width="0.8" height="0.8" fill="#b4bcc4"/>
<rect x="417.0" y="311.2" width="0.8" height="0.8" fill="#b4bcc4"/>
<rect x="424.4" y="319.2" width="0.8" height="0.8" fill="#b4bcc4"/>
<rect x="432.0" y="330.5" width="0.8" height="0.8" fill="#b4bcc4"/>
<rect x="455.7" y="327.7" width="0.8" height="0.8" fill="#b4bcc4"/>
<rect x="499.8" y="307.0" width="0.8" height="0.8" fill="#b4bcc4"/>
<rect x="488.9" y="325.6" width="0.8" height="0.8" fill="#b4bcc4"/>
<rect x="483.5" y="301.2" width="0.8" height="0.8" fill="#b4bcc4"/>
<rect x="485.2" y="301.9" width="0.8" height="0.8" fill="#b4bcc4"/>
<rect x="456.5" y="310.2" width="0.8" height="0.8" fill="#b4bcc4"/>
<rect x="460.8" y="340.9" width="0.8" height="0.8" fill="#b4bcc4"/>
<rect x="502.5" y="315.1" width="0.8" height="0.8" fill="#b4bcc4"/>
<rect x="496.2" y="327.0" width="0.8" height="0.8" fill="#b4bcc4"/>
<rect x="481.2" y="324.4" width="0.8" height="0.8" fill="#b4bcc4"/>
<rect x="455.0" y="336.0" width="0.8" height="0.8" fill="#b4bcc4"/>
<rect x="460.3" y="315.7" width="0.8" height="0.8" fill="#b4bcc4"/>
<rect x="492.3" y="318.0" width="0.8" height="0.8" fill="#b4bcc4"/>
<rect x="493.4" y="298.3" width="0.8" height="0.8" fill="#b4bcc4"/>
<rect x="451.5" y="329.5" width="0.8" height="0.8" fill="#b4bcc4"/>
<rect x="477.9" y="298.5" width="0.8" height="0.8" fill="#b4bcc4"/>
<rect x="486.3" y="319.7" width="0.8" height="0.8" fill="#b4bcc4"/>
<rect x="475.7" y="315.0" width="0.8" height="0.8" fill="#b4bcc4"/>
<rect x="455.0" y="316.8" width="0.8" height="0.8" fill="#b4bcc4"/>
<rect x="500.0" y="314.3" width="0.8" height="0.8" fill="#b4bcc4"/>
<rect x="480.2" y="339.1" width="0.8" height="0.8" fill="#b4bcc4"/>
<rect x="466.0" y="303.1" width="0.8" height="0.8" fill="#b4bcc4"/>
<rect x="474.9" y="306.3" width="0.8" height="0.8" fill="#b4bcc4"/>
<rect x="469.0" y="306.1" width="0.8" height="0.8" fill="#b4bcc4"/>
<rect x="457.7" y="303.6" width="0.8" height="0.8" fill="#b4bcc4"/>
<rect x="496.3" y="306.7" width="0.8" height="0.8" fill="#b4bcc4"/>
<rect x="482.0" y="338.0" width="0.8" height="0.8" fill="#b4bcc4"/>
<rect x="490.4" y="311.7" width="0.8" height="0.8" fill="#b4bcc4"/>
<rect x="476.9" y="334.4" width="0.8" height="0.8" fill="#b4bcc4"/>
<rect x="470.4" y="340.1" width="0.8" height="0.8" fill="#b4bcc4"/>
<rect x="474.9" y="310.3" width="0.8" height="0.8" fill="#b4bcc4"/>
<rect x="455.5" y="303.6" width="0.8" height="0.8" fill="#b4bcc4"/>
<rect x="457.5" y="306.4" width="0.8" height="0.8" fill="#b4bcc4"/>
<rect x="463.6" y="311.7" width="0.8" height="0.8" fill="#b4bcc4"/>
<rect x="456.8" y="304.7" width="0.8" height="0.8" fill="#b4bcc4"/>
<rect x="488.4" y="301.0" width="0.8" height="0.8" fill="#b4bcc4"/>
<rect x="461.8" y="325.1" width="0.8" height="0.8" fill="#b4bcc4"/>
<rect x="468.7" y="338.8" width="0.8" height="0.8" fill="#b4bcc4"/>
<rect x="479.5" y="296.2" width="0.8" height="0.8" fill="#b4bcc4"/>
<rect x="486.0" y="338.8" width="0.8" height="0.8" fill="#b4bcc4"/>
<rect x="455.1" y="335.6" width="0.8" height="0.8" fill="#b4bcc4"/>
<rect x="453.6" y="332.1" width="0.8" height="0.8" fill="#b4bcc4"/>
<rect x="457.2" y="312.2" width="0.8" height="0.8" fill="#b4bcc4"/>
<rect x="476.3" y="319.4" width="0.8" height="0.8" fill="#b4bcc4"/>
<rect x="486.1" y="325.0" width="0.8" height="0.8" fill="#b4bcc4"/>
<rect x="471.1" y="315.4" width="0.8" height="0.8" fill="#b4bcc4"/>
<rect x="477.8" y="334.1" width="0.8" height="0.8" fill="#b4bcc4"/>
<rect x="472.2" y="303.6" width="0.8" height="0.8" fill="#b4bcc4"/>
<rect x="495.7" y="316.8" width="0.8" height="0.8" fill="#b4bcc4"/>
<rect x="477.5" y="299.8" width="0.8" height="0.8" fill="#b4bcc4"/>
<rect x="479.6" y="295.3" width="0.8" height="0.8" fill="#b4bcc4"/>
<rect x="483.1" y="327.8" width="0.8" height="0.8" fill="#b4bcc4"/>
<rect x="469.8" y="327.2" width="0.8" height="0.8" fill="#b4bcc4"/>
<rect x="466.5" y="302.4" width="0.8" height="0.8" fill="#b4bcc4"/>
<rect x="457.1" y="335.1" width="0.8" height="0.8" fill="#b4bcc4"/>
<rect x="497.9" y="319.6" width="0.8" height="0.8" fill="#b4bcc4"/>
<rect x="477.6" y="326.8" width="0.8" height="0.8" fill="#b4bcc4"/>
<rect x="459.2" y="332.3" width="0.8" height="0.8" fill="#b4bcc4"/>
<rect x="476.9" y="297.2" width="0.8" height="0.8" fill="#b4bcc4"/>
<rect x="481.2" y="337.4" width="0.8" height="0.8" fill="#b4bcc4"/>
<rect x="471.3" y="316.8" width="0.8" height="0.8" fill="#b4bcc4"/>
<rect x="502.9" y="314.7" width="0.8" height="0.8" fill="#b4bcc4"/>
<rect x="466.2" y="337.1" width="0.8" height="0.8" fill="#b4bcc4"/>
<rect x="460.5" y="332.0" width="0.8" height="0.8" fill="#b4bcc4"/>
<rect x="495.0" y="304.9" width="0.8" height="0.8" fill="#b4bcc4"/>
<rect x="462.8" y="322.4" width="0.8" height="0.8" fill="#b4bcc4"/>
<rect x="478.5" y="330.1" width="0.8" height="0.8" fill="#b4bcc4"/>
<rect x="483.2" y="333.9" width="0.8" height="0.8" fill="#b4bcc4"/>
<rect x="489.5" y="298.3" width="0.8" height="0.8" fill="#b4bcc4"/>
<rect x="462.2" y="337.3" width="0.8" height="0.8" fill="#b4bcc4"/>
<rect x="475.1" y="316.6" width="0.8" height="0.8" fill="#b4bcc4"/>
<rect x="469.1" y="337.1" width="0.8" height="0.8" fill="#b4bcc4"/>
<rect x="491.3" y="324.4" width="0.8" height="0.8" fill="#b4bcc4"/>
<rect x="473.9" y="294.7" width="0.8" height="0.8" fill="#b4bcc4"/>
<rect x="469.9" y="305.7" width="0.8" height="0.8" fill="#b4bcc4"/>
<rect x="498.6" y="314.5" width="0.8" height="0.8" fill="#b4bcc4"/>
<rect x="501.1" y="314.3" width="0.8" height="0.8" fill="#b4bcc4"/>
<rect x="487.2" y="339.4" width="0.8" height="0.8" fill="#b4bcc4"/>
<rect x="500.0" y="320.0" width="0.8" height="0.8" fill="#b4bcc4"/>
<rect x="465.9" y="305.7" width="0.8" height="0.8" fill="#b4bcc4"/>
<rect x="459.0" y="340.1" width="0.8" height="0.8" fill="#b4bcc4"/>
<rect x="462.9" y="324.4" width="0.8" height="0.8" fill="#b4bcc4"/>
<rect x="461.3" y="306.1" width="0.8" height="0.8" fill="#b4bcc4"/>
<rect x="450.5" y="329.5" width="0.8" height="0.8" fill="#b4bcc4"/>
<rect x="466.4" y="337.2" width="0.8" height="0.8" fill="#b4bcc4"/>
<rect x="461.7" y="340.3" width="0.8" height="0.8" fill="#b4bcc4"/>
<rect x="492.9" y="333.2" width="0.8" height="0.8" fill="#b4bcc4"/>
<rect x="494.9" y="314.2" width="0.8" height="0.8" fill="#b4bcc4"/>
<rect x="500.1" y="315.7" width="0.8" height="0.8" fill="#b4bcc4"/>
<rect x="474.1" y="328.1" width="0.8" height="0.8" fill="#b4bcc4"/>
<rect x="466.2" y="300.0" width="0.8" height="0.8" fill="#b4bcc4"/>
<rect x="467.2" y="314.4" width="0.8" height="0.8" fill="#b4bcc4"/>
<rect x="450.8" y="310.5" width="0.8" height="0.8" fill="#b4bcc4"/>
<rect x="500.8" y="315.1" width="0.8" height="0.8" fill="#b4bcc4"/>
<rect x="499.7" y="312.6" width="0.8" height="0.8" fill="#b4bcc4"/>
<rect x="465.2" y="318.5" width="0.8" height="0.8" fill="#b4bcc4"/>
<rect x="490.6" y="329.5" width="0.8" height="0.8" fill="#b4bcc4"/>
<rect x="499.7" y="328.3" width="0.8" height="0.8" fill="#b4bcc4"/>
<rect x="469.1" y="335.3" width="0.8" height="0.8" fill="#b4bcc4"/>
<rect x="489.7" y="312.6" width="0.8" height="0.8" fill="#b4bcc4"/>
<rect x="451.0" y="329.0" width="0.8" height="0.8" fill="#b4bcc4"/>
<rect x="500.1" y="325.8" width="0.8" height="0.8" fill="#b4bcc4"/>
<rect x="481.5" y="335.7" width="0.8" height="0.8" fill="#b4bcc4"/>
<rect x="452.1" y="309.6" width="0.8" height="0.8" fill="#b4bcc4"/>
<rect x="460.9" y="335.8" width="0.8" height="0.8" fill="#b4bcc4"/>
<rect x="450.6" y="304.7" width="0.8" height="0.8" fill="#b4bcc4"/>
<rect x="496.7" y="310.1" width="0.8" height="0.8" fill="#b4bcc4"/>
<rect x="450.9" y="320.0" width="0.8" height="0.8" fill="#b4bcc4"/>
<rect x="455.0" y="314.6" width="0.8" height="0.8" fill="#b4bcc4"/>
<rect x="450.7" y="324.7" width="0.8" height="0.8" fill="#b4bcc4"/>
<rect x="494.1" y="331.0" width="0.8" height="0.8" fill="#b4bcc4"/>
<rect x="485.9" y="331.7" width="0.8" height="0.8" fill="#b4bcc4"/>
<rect x="491.6" y="317.9" width="0.8" height="0.8" fill="#b4bcc4"/>
<rect x="475.3" y="296.0" width="0.8" height="0.8" fill="#b4bcc4"/>
<rect x="499.7" y="314.4" width="0.8" height="0.8" fill="#b4bcc4"/>
<rect x="477.0" y="341.7" width="0.8" height="0.8" fill="#b4bcc4"/>
<rect x="490.3" y="323.0" width="0.8" height="0.8" fill="#b4bcc4"/>
<rect x="470.2" y="300.3" width="0.8" height="0.8" fill="#b4bcc4"/>
<rect x="456.4" y="332.9" width="0.8" height="0.8" fill="#b4bcc4"/>
<rect x="470.0" y="334.9" width="0.8" height="0.8" fill="#b4bcc4"/>
<rect x="496.2" y="328.4" width="0.8" height="0.8" fill="#b4bcc4"/>
<rect x="454.6" y="325.0" width="0.8" height="0.8" fill="#b4bcc4"/>
<rect x="496.1" y="304.4" width="0.8" height="0.8" fill="#b4bcc4"/>
<rect x="464.9" y="308.0" width="0.8" height="0.8" fill="#b4bcc4"/>
<rect x="479.2" y="300.3" width="0.8" height="0.8" fill="#b4bcc4"/>
<rect x="493.5" y="327.0" width="0.8" height="0.8" fill="#b4bcc4"/>
<rect x="475.5" y="298.5" width="0.8" height="0.8" fill="#b4bcc4"/>
<rect x="484.3" y="338.2" width="0.8" height="0.8" fill="#b4bcc4"/>
<rect x="466.9" y="326.7" width="0.8" height="0.8" fill="#b4bcc4"/>
<rect x="464.3" y="323.6" width="0.8" height="0.8" fill="#b4bcc4"/>
<rect x="458.9" y="303.5" width="0.8" height="0.8" fill="#b4bcc4"/>
<rect x="496.0" y="303.6" width="0.8" height="0.8" fill="#b4bcc4"/>
<rect x="478.2" y="307.3" width="0.8" height="0.8" fill="#b4bcc4"/>
<rect x="493.5" y="298.9" width="0.8" height="0.8" fill="#b4bcc4"/>
<rect x="475.4" y="299.3" width="0.8" height="0.8" fill="#b4bcc4"/>
<rect x="459.0" y="313.4" width="0.8" height="0.8" fill="#b4bcc4"/>
<rect x="469.0" y="328.3" width="0.8" height="0.8" fill="#b4bcc4"/>
<rect x="474.7" y="332.3" width="0.8" height="0.8" fill="#b4bcc4"/>
<rect x="488.6" y="304.1" width="0.8" height="0.8" fill="#b4bcc4"/>
<rect x="470.1" y="325.9" width="0.8" height="0.8" fill="#b4bcc4"/>
<rect x="464.6" y="338.8" width="0.8" height="0.8" fill="#b4bcc4"/>
<rect x="475.3" y="300.3" width="0.8" height="0.8" fill="#b4bcc4"/>
<rect x="461.6" y="339.4" width="0.8" height="0.8" fill="#b4bcc4"/>
<rect x="457.5" y="299.8" width="0.8" height="0.8" fill="#b4bcc4"/>
<rect x="487.0" y="321.6" width="0.8" height="0.8" fill="#b4bcc4"/>
<rect x="461.4" y="316.8" width="0.8" height="0.8" fill="#b4bcc4"/>
<rect x="501.0" y="321.3" width="0.8" height="0.8" fill="#b4bcc4"/>
<rect x="473.8" y="299.6" width="0.8" height="0.8" fill="#b4bcc4"/>
<rect x="461.9" y="329.4" width="0.8" height="0.8" fill="#b4bcc4"/>
<rect x="475.4" y="310.4" width="0.8" height="0.8" fill="#b4bcc4"/>
<rect x="491.3" y="314.9" width="0.8" height="0.8" fill="#b4bcc4"/>
<rect x="462.7" y="310.9" width="0.8" height="0.8" fill="#b4bcc4"/>
<rect x="460.1" y="313.0" width="0.8" height="0.8" fill="#b4bcc4"/>
<rect x="475.6" y="339.4" width="0.8" height="0.8" fill="#b4bcc4"/>
<rect x="454.1" y="314.0" width="0.8" height="0.8" fill="#b4bcc4"/>
<rect x="473.4" y="295.7" width="0.8" height="0.8" fill="#b4bcc4"/>
<rect x="474.7" y="306.5" width="0.8" height="0.8" fill="#b4bcc4"/>
<rect x="470.9" y="331.4" width="0.8" height="0.8" fill="#b4bcc4"/>
<rect x="477.5" y="329.7" width="0.8" height="0.8" fill="#b4bcc4"/>
<rect x="471.8" y="297.4" width="0.8" height="0.8" fill="#b4bcc4"/>
<rect x="457.9" y="331.4" width="0.8" height="0.8" fill="#b4bcc4"/>
<rect x="501.2" y="321.7" width="0.8" height="0.8" fill="#b4bcc4"/>
<rect x="462.4" y="321.0" width="0.8" height="0.8" fill="#b4bcc4"/>
<rect x="461.8" y="303.8" width="0.8" height="0.8" fill="#b4bcc4"/>
<rect x="465.1" y="339.4" width="0.8" height="0.8" fill="#b4bcc4"/>
<rect x="451.4" y="304.0" width="0.8" height="0.8" fill="#b4bcc4"/>
<rect x="476.7" y="331.2" width="0.8" height="0.8" fill="#b4bcc4"/>
<rect x="453.1" y="305.6" width="0.8" height="0.8" fill="#b4bcc4"/>
<rect x="500.2" y="318.7" width="0.8" height="0.8" fill="#b4bcc4"/>
<rect x="467.1" y="306.7" width="0.8" height="0.8" fill="#b4bcc4"/>
<rect x="467.1" y="324.1" width="0.8" height="0.8" fill="#b4bcc4"/>
<rect x="455.8" y="299.1" width="0.8" height="0.8" fill="#b4bcc4"/>
<rect x="474.9" y="322.3" width="0.8" height="0.8" fill="#b4bcc4"/>
<rect x="502.7" y="322.7" width="0.8" height="0.8" fill="#b4bcc4"/>
<rect x="462.1" y="325.8" width="0.8" height="0.8" fill="#b4bcc4"/>
<rect x="473.2" y="319.8" width="0.8" height="0.8" fill="#b4bcc4"/>
<rect x="467.0" y="340.7" width="0.8" height="0.8" fill="#b4bcc4"/>
<rect x="460.4" y="318.9" width="0.8" height="0.8" fill="#b4bcc4"/>
<rect x="477.0" y="312.5" width="0.8" height="0.8" fill="#b4bcc4"/>
<rect x="478.6" y="332.2" width="0.8" height="0.8" fill="#b4bcc4"/>
<rect x="453.1" y="336.0" width="0.8" height="0.8" fill="#b4bcc4"/>
<rect x="480.2" y="312.6" width="0.8" height="0.8" fill="#b4bcc4"/>
<rect x="455.3" y="301.5" width="0.8" height="0.8" fill="#b4bcc4"/>
<rect x="465.9" y="318.2" width="0.8" height="0.8" fill="#b4bcc4"/>
<rect x="501.9" y="325.2" width="0.8" height="0.8" fill="#b4bcc4"/>
<rect x="485.1" y="309.3" width="0.8" height="0.8" fill="#b4bcc4"/>
<rect x="474.3" y="335.3" width="0.8" height="0.8" fill="#b4bcc4"/>
<rect x="486.0" y="308.1" width="0.8" height="0.8" fill="#b4bcc4"/>
<rect x="456.9" y="305.8" width="0.8" height="0.8" fill="#b4bcc4"/>
<rect x="501.1" y="328.6" width="0.8" height="0.8" fill="#b4bcc4"/>
<rect x="486.2" y="327.4" width="0.8" height="0.8" fill="#b4bcc4"/>
<rect x="463.3" y="317.6" width="0.8" height="0.8" fill="#b4bcc4"/>
<rect x="470.1" y="304.8" width="0.8" height="0.8" fill="#b4bcc4"/>
<rect x="484.4" y="305.1" width="0.8" height="0.8" fill="#b4bcc4"/>
<rect x="470.6" y="321.9" width="0.8" height="0.8" fill="#b4bcc4"/>
<rect x="496.6" y="330.5" width="0.8" height="0.8" fill="#b4bcc4"/>
<rect x="489.9" y="308.7" width="0.8" height="0.8" fill="#b4bcc4"/>
<rect x="481.2" y="304.4" width="0.8" height="0.8" fill="#b4bcc4"/>
<rect x="456.8" y="338.3" width="0.8" height="0.8" fill="#b4bcc4"/>
<rect x="477.4" y="332.4" width="0.8" height="0.8" fill="#b4bcc4"/>
<rect x="470.2" y="336.9" width="0.8" height="0.8" fill="#b4bcc4"/>
<rect x="494.7" y="299.5" width="0.8" height="0.8" fill="#b4bcc4"/>
<rect x="455.2" y="310.6" width="0.8" height="0.8" fill="#b4bcc4"/>
<rect x="485.1" y="308.4" width="0.8" height="0.8" fill="#b4bcc4"/>
<rect x="456.0" y="333.1" width="0.8" height="0.8" fill="#b4bcc4"/>
<rect x="479.5" y="303.3" width="0.8" height="0.8" fill="#b4bcc4"/>
<rect x="454.5" y="316.7" width="0.8" height="0.8" fill="#b4bcc4"/>
<rect x="477.1" y="304.1" width="0.8" height="0.8" fill="#b4bcc4"/>
<rect x="453.9" y="307.3" width="0.8" height="0.8" fill="#b4bcc4"/>
<rect x="452.3" y="319.6" width="0.8" height="0.8" fill="#b4bcc4"/>
<rect x="461.3" y="326.9" width="0.8" height="0.8" fill="#b4bcc4"/>
<rect x="477.8" y="300.1" width="0.8" height="0.8" fill="#b4bcc4"/>
<rect x="489.5" y="318.1" width="0.8" height="0.8" fill="#b4bcc4"/>
<rect x="462.0" y="302.8" width="0.8" height="0.8" fill="#b4bcc4"/>
<rect x="464.2" y="313.1" width="0.8" height="0.8" fill="#b4bcc4"/>
<rect x="492.3" y="306.1" width="0.8" height="0.8" fill="#b4bcc4"/>
<rect x="455.7" y="324.1" width="0.8" height="0.8" fill="#b4bcc4"/>
<rect x="459.5" y="334.4" width="0.8" height="0.8" fill="#b4bcc4"/>
<rect x="501.2" y="306.9" width="0.8" height="0.8" fill="#b4bcc4"/>
<rect x="491.2" y="330.0" width="0.8" height="0.8" fill="#b4bcc4"/>
<rect x="473.5" y="302.4" width="0.8" height="0.8" fill="#b4bcc4"/>
<rect x="477.3" y="320.5" width="0.8" height="0.8" fill="#b4bcc4"/>
<rect x="485.8" y="341.6" width="0.8" height="0.8" fill="#b4bcc4"/>
<rect x="489.0" y="332.4" width="0.8" height="0.8" fill="#b4bcc4"/>
<rect x="454.5" y="329.4" width="0.8" height="0.8" fill="#b4bcc4"/>
<rect x="502.2" y="308.2" width="0.8" height="0.8" fill="#b4bcc4"/>
<rect x="468.7" y="315.1" width="0.8" height="0.8" fill="#b4bcc4"/>
<rect x="460.2" y="315.4" width="0.8" height="0.8" fill="#b4bcc4"/>
<rect x="483.2" y="334.1" width="0.8" height="0.8" fill="#b4bcc4"/>
<rect x="469.0" y="314.6" width="0.8" height="0.8" fill="#b4bcc4"/>
<rect x="487.8" y="327.6" width="0.8" height="0.8" fill="#b4bcc4"/>
<rect x="477.6" y="306.3" width="0.8" height="0.8" fill="#b4bcc4"/>
<rect x="496.7" y="308.7" width="0.8" height="0.8" fill="#b4bcc4"/>
<rect x="469.3" y="303.3" width="0.8" height="0.8" fill="#b4bcc4"/>
<rect x="463.6" y="302.0" width="0.8" height="0.8" fill="#b4bcc4"/>
<rect x="485.7" y="308.9" width="0.8" height="0.8" fill="#b4bcc4"/>
<rect x="476.8" y="332.1" width="0.8" height="0.8" fill="#b4bcc4"/>
<rect x="479.2" y="330.4" width="0.8" height="0.8" fill="#b4bcc4"/>
<rect x="476.9" y="295.8" width="0.8" height="0.8" fill="#b4bcc4"/>
<rect x="451.0" y="317.3" width="0.8" height="0.8" fill="#b4bcc4"/>
<rect x="476.7" y="335.2" width="0.8" height="0.8" fill="#b4bcc4"/>
<rect x="480.5" y="330.9" width="0.8" height="0.8" fill="#b4bcc4"/>
<rect x="460.2" y="313.0" width="0.8" height="0.8" fill="#b4bcc4"/>
<rect x="480.3" y="329.2" width="0.8" height="0.8" fill="#b4bcc4"/>
<rect x="450.1" y="308.6" width="0.8" height="0.8" fill="#b4bcc4"/>
<rect x="456.5" y="328.8" width="0.8" height="0.8" fill="#b4bcc4"/>
<rect x="474.1" y="340.8" width="0.8" height="0.8" fill="#b4bcc4"/>
<rect x="463.5" y="327.4" width="0.8" height="0.8" fill="#b4bcc4"/>
<rect x="492.6" y="318.1" width="0.8" height="0.8" fill="#b4bcc4"/>
<rect x="500.9" y="324.8" width="0.8" height="0.8" fill="#b4bcc4"/>
<rect x="466.0" y="300.7" width="0.8" height="0.8" fill="#b4bcc4"/>
<rect x="457.5" y="328.9" width="0.8" height="0.8" fill="#b4bcc4"/>
<rect x="474.1" y="296.7" width="0.8" height="0.8" fill="#b4bcc4"/>
<rect x="463.8" y="319.9" width="0.8" height="0.8" fill="#b4bcc4"/>
<rect x="489.2" y="296.7" width="0.8" height="0.8" fill="#b4bcc4"/>
<rect x="491.4" y="328.9" width="0.8" height="0.8" fill="#b4bcc4"/>
<rect x="476.1" y="315.3" width="0.8" height="0.8" fill="#b4bcc4"/>
<rect x="484.9" y="324.7" width="0.8" height="0.8" fill="#b4bcc4"/>
<rect x="489.7" y="311.8" width="0.8" height="0.8" fill="#b4bcc4"/>
<rect x="461.2" y="307.0" width="0.8" height="0.8" fill="#b4bcc4"/>
<rect x="455.9" y="318.6" width="0.8" height="0.8" fill="#b4bcc4"/>
<rect x="455.9" y="334.4" width="0.8" height="0.8" fill="#b4bcc4"/>
<rect x="479.3" y="302.6" width="0.8" height="0.8" fill="#b4bcc4"/>
<rect x="487.2" y="298.7" width="0.8" height="0.8" fill="#b4bcc4"/>
<rect x="491.5" y="333.7" width="0.8" height="0.8" fill="#b4bcc4"/>
<rect x="473.5" y="301.3" width="0.8" height="0.8" fill="#b4bcc4"/>
<rect x="474.3" y="307.6" width="0.8" height="0.8" fill="#b4bcc4"/>
<rect x="474.3" y="328.4" width="0.8" height="0.8" fill="#b4bcc4"/>
<rect x="458.9" y="316.2" width="0.8" height="0.8" fill="#b4bcc4"/>
<rect x="492.6" y="299.6" width="0.8" height="0.8" fill="#b4bcc4"/>
<rect x="473.4" y="297.1" width="0.8" height="0.8" fill="#b4bcc4"/>
<rect x="487.5" y="297.7" width="0.8" height="0.8" fill="#b4bcc4"/>
<rect x="462.3" y="322.1" width="0.8" height="0.8" fill="#b4bcc4"/>
<rect x="469.5" y="303.0" width="0.8" height="0.8" fill="#b4bcc4"/>
<rect x="471.0" y="333.7" width="0.8" height="0.8" fill="#b4bcc4"/>
<rect x="485.1" y="316.4" width="0.8" height="0.8" fill="#b4bcc4"/>
<rect x="463.6" y="298.7" width="0.8" height="0.8" fill="#b4bcc4"/>
<rect x="458.6" y="326.0" width="0.8" height="0.8" fill="#b4bcc4"/>
<rect x="488.6" y="305.9" width="0.8" height="0.8" fill="#b4bcc4"/>
<rect x="484.8" y="315.9" width="0.8" height="0.8" fill="#b4bcc4"/>
<rect x="490.6" y="325.3" width="0.8" height="0.8" fill="#b4bcc4"/>
<rect x="479.5" y="315.0" width="0.8" height="0.8" fill="#b4bcc4"/>
<rect x="469.8" y="317.7" width="0.8" height="0.8" fill="#b4bcc4"/>
<rect x="474.7" y="326.2" width="0.8" height="0.8" fill="#b4bcc4"/>
<rect x="474.2" y="316.1" width="0.8" height="0.8" fill="#b4bcc4"/>
<rect x="471.6" y="312.6" width="0.8" height="0.8" fill="#b4bcc4"/>
<rect x="481.9" y="297.3" width="0.8" height="0.8" fill="#b4bcc4"/>
<rect x="450.9" y="332.8" width="0.8" height="0.8" fill="#b4bcc4"/>
<rect x="463.1" y="324.3" width="0.8" height="0.8" fill="#b4bcc4"/>
<rect x="469.2" y="298.8" width="0.8" height="0.8" fill="#b4bcc4"/>
<rect x="483.9" y="306.3" width="0.8" height="0.8" fill="#b4bcc4"/>
<rect x="501.8" y="328.4" width="0.8" height="0.8" fill="#b4bcc4"/>
<rect x="453.3" y="324.7" width="0.8" height="0.8" fill="#b4bcc4"/>
<rect x="495.2" y="302.7" width="0.8" height="0.8" fill="#b4bcc4"/>
<rect x="455.8" y="331.3" width="0.8" height="0.8" fill="#b4bcc4"/>
<rect x="459.0" y="311.2" width="0.8" height="0.8" fill="#b4bcc4"/>
<rect x="471.8" y="305.9" width="0.8" height="0.8" fill="#b4bcc4"/>
<rect x="477.1" y="314.9" width="0.8" height="0.8" fill="#b4bcc4"/>
<rect x="468.7" y="338.0" width="0.8" height="0.8" fill="#b4bcc4"/>
<rect x="490.2" y="301.3" width="0.8" height="0.8" fill="#b4bcc4"/>
<rect x="455.4" y="307.1" width="0.8" height="0.8" fill="#b4bcc4"/>
<rect x="462.6" y="302.3" width="0.8" height="0.8" fill="#b4bcc4"/>
<rect x="492.9" y="337.2" width="0.8" height="0.8" fill="#b4bcc4"/>
<rect x="498.6" y="321.6" width="0.8" height="0.8" fill="#b4bcc4"/>
<rect x="471.3" y="318.8" width="0.8" height="0.8" fill="#b4bcc4"/>
<rect x="462.5" y="301.5" width="0.8" height="0.8" fill="#b4bcc4"/>
<rect x="482.6" y="327.6" width="0.8" height="0.8" fill="#b4bcc4"/>
<rect x="470.1" y="295.7" width="0.8" height="0.8" fill="#b4bcc4"/>
<rect x="483.5" y="320.5" width="0.8" height="0.8" fill="#b4bcc4"/>
<rect x="476.4" y="335.0" width="0.8" height="0.8" fill="#b4bcc4"/>
<rect x="459.6" y="337.1" width="0.8" height="0.8" fill="#b4bcc4"/>
<rect x="469.9" y="299.7" width="0.8" height="0.8" fill="#b4bcc4"/>
<rect x="488.2" y="297.7" width="0.8" height="0.8" fill="#b4bcc4"/>
<rect x="452.7" y="314.4" width="0.8" height="0.8" fill="#b4bcc4"/>
<rect x="481.2" y="326.7" width="0.8" height="0.8" fill="#b4bcc4"/>
<rect x="476.1" y="340.7" width="0.8" height="0.8" fill="#b4bcc4"/>
<rect x="455.4" y="331.3" width="0.8" height="0.8" fill="#b4bcc4"/>
<rect x="495.8" y="326.1" width="0.8" height="0.8" fill="#b4bcc4"/>
<rect x="489.0" y="317.7" width="0.8" height="0.8" fill="#b4bcc4"/>
<rect x="457.2" y="338.7" width="0.8" height="0.8" fill="#b4bcc4"/>
<rect x="462.5" y="340.6" width="0.8" height="0.8" fill="#b4bcc4"/>
<rect x="473.9" y="317.7" width="0.8" height="0.8" fill="#b4bcc4"/>
<rect x="471.2" y="311.5" width="0.8" height="0.8" fill="#b4bcc4"/>
<rect x="483.9" y="331.2" width="0.8" height="0.8" fill="#b4bcc4"/>
<rect x="456.4" y="314.4" width="0.8" height="0.8" fill="#b4bcc4"/>
<rect x="462.7" y="304.1" width="0.8" height="0.8" fill="#b4bcc4"/>
<rect x="458.8" y="334.4" width="0.8" height="0.8" fill="#b4bcc4"/>
<rect x="471.5" y="336.4" width="0.8" height="0.8" fill="#b4bcc4"/>
<rect x="459.5" y="320.2" width="0.8" height="0.8" fill="#b4bcc4"/>
<rect x="464.7" y="324.7" width="0.8" height="0.8" fill="#b4bcc4"/>
<rect x="472.6" y="298.4" width="0.8" height="0.8" fill="#b4bcc4"/>
<rect x="479.5" y="325.1" width="0.8" height="0.8" fill="#b4bcc4"/>
<rect x="464.7" y="321.9" width="0.8" height="0.8" fill="#b4bcc4"/>
<rect x="465.8" y="334.4" width="0.8" height="0.8" fill="#b4bcc4"/>
<rect x="500.4" y="323.5" width="0.8" height="0.8" fill="#b4bcc4"/>
<rect x="482.6" y="341.2" width="0.8" height="0.8" fill="#b4bcc4"/>
<rect x="463.1" y="294.8" width="0.8" height="0.8" fill="#b4bcc4"/>
<rect x="457.1" y="307.3" width="0.8" height="0.8" fill="#b4bcc4"/>
<rect x="475.0" y="315.5" width="0.8" height="0.8" fill="#b4bcc4"/>
<rect x="483.7" y="331.5" width="0.8" height="0.8" fill="#b4bcc4"/>
<rect x="473.1" y="340.1" width="0.8" height="0.8" fill="#b4bcc4"/>
<rect x="467.2" y="328.8" width="0.8" height="0.8" fill="#b4bcc4"/>
<rect x="485.5" y="321.9" width="0.8" height="0.8" fill="#b4bcc4"/>
<rect x="490.6" y="332.9" width="0.8" height="0.8" fill="#b4bcc4"/>
<rect x="451.4" y="307.6" width="0.8" height="0.8" fill="#b4bcc4"/>
<rect x="484.6" y="335.0" width="0.8" height="0.8" fill="#b4bcc4"/>
<rect x="484.7" y="307.1" width="0.8" height="0.8" fill="#b4bcc4"/>
<rect x="489.4" y="314.3" width="0.8" height="0.8" fill="#b4bcc4"/>
<rect x="467.4" y="316.5" width="0.8" height="0.8" fill="#b4bcc4"/>
<rect x="465.1" y="322.6" width="0.8" height="0.8" fill="#b4bcc4"/>
<rect x="466.4" y="313.4" width="0.8" height="0.8" fill="#b4bcc4"/>
<rect x="500.2" y="323.6" width="0.8" height="0.8" fill="#b4bcc4"/>
<rect x="472.3" y="306.7" width="0.8" height="0.8" fill="#b4bcc4"/>
<rect x="479.5" y="313.5" width="0.8" height="0.8" fill="#b4bcc4"/>
<rect x="460.0" y="304.4" width="0.8" height="0.8" fill="#b4bcc4"/>
<rect x="459.3" y="335.2" width="0.8" height="0.8" fill="#b4bcc4"/>
<rect x="466.6" y="312.2" width="0.8" height="0.8" fill="#b4bcc4"/>
<rect x="491.6" y="306.9" width="0.8" height="0.8" fill="#b4bcc4"/>
<rect x="494.0" y="322.3" width="0.8" height="0.8" fill="#b4bcc4"/>
<rect x="486.3" y="335.2" width="0.8" height="0.8" fill="#b4bcc4"/>
<rect x="473.8" y="321.4" width="0.8" height="0.8" fill="#b4bcc4"/>
<rect x="491.4" y="322.3" width="0.8" height="0.8" fill="#b4bcc4"/>
<rect x="476.9" y="336.6" width="0.8" height="0.8" fill="#b4bcc4"/>
<rect x="501.4" y="316.1" width="0.8" height="0.8" fill="#b4bcc4"/>
<rect x="469.3" y="320.6" width="0.8" height="0.8" fill="#b4bcc4"/>
<rect x="453.7" y="322.0" width="0.8" height="0.8" fill="#b4bcc4"/>
<rect x="496.0" y="320.3" width="0.8" height="0.8" fill="#b4bcc4"/>
<rect x="493.5" y="317.0" width="0.8" height="0.8" fill="#b4bcc4"/>
<rect x="490.9" y="299.4" width="0.8" height="0.8" fill="#b4bcc4"/>
<rect x="485.8" y="339.0" width="0.8" height="0.8" fill="#b4bcc4"/>
<rect x="453.8" y="336.3" width="0.8" height="0.8" fill="#b4bcc4"/>
<rect x="464.2" y="308.3" width="0.8" height="0.8" fill="#b4bcc4"/>
<rect x="482.7" y="313.1" width="0.8" height="0.8" fill="#b4bcc4"/>
<rect x="478.9" y="325.5" width="0.8" height="0.8" fill="#b4bcc4"/>
<rect x="469.0" y="335.9" width="0.8" height="0.8" fill="#b4bcc4"/>
<rect x="490.3" y="328.4" width="0.8" height="0.8" fill="#b4bcc4"/>
<rect x="495.0" y="306.0" width="0.8" height="0.8" fill="#b4bcc4"/>
<rect x="481.9" y="303.5" width="0.8" height="0.8" fill="#b4bcc4"/>
<rect x="470.5" y="323.1" width="0.8" height="0.8" fill="#b4bcc4"/>
<rect x="488.4" y="322.0" width="0.8" height="0.8" fill="#b4bcc4"/>
<rect x="480.3" y="307.7" width="0.8" height="0.8" fill="#b4bcc4"/>
<rect x="496.8" y="328.0" width="0.8" height="0.8" fill="#b4bcc4"/>
<rect x="484.1" y="309.3" width="0.8" height="0.8" fill="#b4bcc4"/>
<rect x="488.6" y="299.0" width="0.8" height="0.8" fill="#b4bcc4"/>
<rect x="456.8" y="317.1" width="0.8" height="0.8" fill="#b4bcc4"/>
<rect x="480.9" y="330.6" width="0.8" height="0.8" fill="#b4bcc4"/>
<rect x="473.7" y="334.5" width="0.8" height="0.8" fill="#b4bcc4"/>
<rect x="471.8" y="331.3" width="0.8" height="0.8" fill="#b4bcc4"/>
<rect x="474.7" y="297.0" width="0.8" height="0.8" fill="#b4bcc4"/>
<rect x="452.5" y="316.0" width="0.8" height="0.8" fill="#b4bcc4"/>
<rect x="481.5" y="331.2" width="0.8" height="0.8" fill="#b4bcc4"/>
<rect x="464.9" y="317.9" width="0.8" height="0.8" fill="#b4bcc4"/>
<rect x="460.6" y="299.7" width="0.8" height="0.8" fill="#b4bcc4"/>
<rect x="500.8" y="309.4" width="0.8" height="0.8" fill="#b4bcc4"/>
<rect x="459.9" y="304.6" width="0.8" height="0.8" fill="#b4bcc4"/>
<rect x="457.7" y="309.6" width="0.8" height="0.8" fill="#b4bcc4"/>
<rect x="472.2" y="297.8" width="0.8" height="0.8" fill="#b4bcc4"/>
<rect x="474.7" y="295.7" width="0.8" height="0.8" fill="#b4bcc4"/>
<rect x="461.8" y="298.2" width="0.8" height="0.8" fill="#b4bcc4"/>
<rect x="463.8" y="336.5" width="0.8" height="0.8" fill="#b4bcc4"/>
<rect x="499.6" y="304.8" width="0.8" height="0.8" fill="#b4bcc4"/>
<rect x="476.2" y="321.0" width="0.8" height="0.8" fill="#b4bcc4"/>
<rect x="484.9" y="330.2" width="0.8" height="0.8" fill="#b4bcc4"/>
<rect x="486.7" y="336.4" width="0.8" height="0.8" fill="#b4bcc4"/>
<rect x="494.3" y="305.2" width="0.8" height="0.8" fill="#b4bcc4"/>
<rect x="478.0" y="313.9" width="0.8" height="0.8" fill="#b4bcc4"/>
<rect x="471.2" y="314.9" width="0.8" height="0.8" fill="#b4bcc4"/>
<rect x="494.2" y="309.4" width="0.8" height="0.8" fill="#b4bcc4"/>
<rect x="480.0" y="301.4" width="0.8" height="0.8" fill="#b4bcc4"/>
<rect x="466.1" y="332.9" width="0.8" height="0.8" fill="#b4bcc4"/>
<rect x="494.8" y="302.5" width="0.8" height="0.8" fill="#b4bcc4"/>
<rect x="478.0" y="327.9" width="0.8" height="0.8" fill="#b4bcc4"/>
<rect x="462.3" y="313.9" width="0.8" height="0.8" fill="#b4bcc4"/>
<rect x="458.3" y="305.8" width="0.8" height="0.8" fill="#b4bcc4"/>
<rect x="450.1" y="329.1" width="0.8" height="0.8" fill="#b4bcc4"/>
<rect x="483.3" y="334.9" width="0.8" height="0.8" fill="#b4bcc4"/>
<rect x="468.1" y="320.2" width="0.8" height="0.8" fill="#b4bcc4"/>
<rect x="451.1" y="326.0" width="0.8" height="0.8" fill="#b4bcc4"/>
<rect x="457.9" y="327.9" width="0.8" height="0.8" fill="#b4bcc4"/>
<rect x="460.4" y="331.6" width="0.8" height="0.8" fill="#b4bcc4"/>
<rect x="468.6" y="324.3" width="0.8" height="0.8" fill="#b4bcc4"/>
<rect x="457.2" y="314.9" width="0.8" height="0.8" fill="#b4bcc4"/>
<rect x="499.0" y="312.2" width="0.8" height="0.8" fill="#b4bcc4"/>
<rect x="494.7" y="333.0" width="0.8" height="0.8" fill="#b4bcc4"/>
<rect x="471.1" y="339.6" width="0.8" height="0.8" fill="#b4bcc4"/>
<rect x="472.8" y="332.4" width="0.8" height="0.8" fill="#b4bcc4"/>
<rect x="471.6" y="294.5" width="0.8" height="0.8" fill="#b4bcc4"/>
<rect x="486.8" y="315.2" width="0.8" height="0.8" fill="#b4bcc4"/>
<rect x="476.8" y="340.1" width="0.8" height="0.8" fill="#b4bcc4"/>
<rect x="500.6" y="310.7" width="0.8" height="0.8" fill="#b4bcc4"/>
<rect x="500.4" y="323.7" width="0.8" height="0.8" fill="#b4bcc4"/>
<rect x="491.0" y="302.0" width="0.8" height="0.8" fill="#b4bcc4"/>
<rect x="473.7" y="338.6" width="0.8" height="0.8" fill="#b4bcc4"/>
<rect x="491.6" y="317.1" width="0.8" height="0.8" fill="#b4bcc4"/>
<rect x="452.2" y="322.3" width="0.8" height="0.8" fill="#b4bcc4"/>
<rect x="488.3" y="295.9" width="0.8" height="0.8" fill="#b4bcc4"/>
<rect x="461.4" y="295.1" width="0.8" height="0.8" fill="#b4bcc4"/>
<rect x="490.0" y="313.4" width="0.8" height="0.8" fill="#b4bcc4"/>
<rect x="470.7" y="339.1" width="0.8" height="0.8" fill="#b4bcc4"/>
<rect x="478.6" y="326.4" width="0.8" height="0.8" fill="#b4bcc4"/>
<rect x="452.2" y="324.2" width="0.8" height="0.8" fill="#b4bcc4"/>
<rect x="475.9" y="310.2" width="0.8" height="0.8" fill="#b4bcc4"/>
<rect x="469.1" y="306.4" width="0.8" height="0.8" fill="#b4bcc4"/>
<rect x="472.8" y="337.9" width="0.8" height="0.8" fill="#b4bcc4"/>
<rect x="472.3" y="294.7" width="0.8" height="0.8" fill="#b4bcc4"/>
<rect x="473.5" y="333.3" width="0.8" height="0.8" fill="#b4bcc4"/>
<rect x="475.3" y="328.6" width="0.8" height="0.8" fill="#b4bcc4"/>
<rect x="462.6" y="323.7" width="0.8" height="0.8" fill="#b4bcc4"/>
<rect x="476.0" y="334.2" width="0.8" height="0.8" fill="#b4bcc4"/>
<rect x="481.9" y="308.1" width="0.8" height="0.8" fill="#b4bcc4"/>
<rect x="496.2" y="308.1" width="0.8" height="0.8" fill="#b4bcc4"/>
<rect x="474.8" y="324.7" width="0.8" height="0.8" fill="#b4bcc4"/>
<rect x="496.5" y="303.0" width="0.8" height="0.8" fill="#b4bcc4"/>
<rect x="477.0" y="336.4" width="0.8" height="0.8" fill="#b4bcc4"/>
<rect x="473.0" y="322.5" width="0.8" height="0.8" fill="#b4bcc4"/>
<rect x="455.0" y="336.5" width="0.8" height="0.8" fill="#b4bcc4"/>
<rect x="463.5" y="308.2" width="0.8" height="0.8" fill="#b4bcc4"/>
<rect x="488.1" y="337.4" width="0.8" height="0.8" fill="#b4bcc4"/>
<rect x="461.6" y="340.8" width="0.8" height="0.8" fill="#b4bcc4"/>
<rect x="455.0" y="318.5" width="0.8" height="0.8" fill="#b4bcc4"/>
<rect x="478.0" y="309.3" width="0.8" height="0.8" fill="#b4bcc4"/>
<rect x="489.3" y="339.5" width="0.8" height="0.8" fill="#b4bcc4"/>
<rect x="484.6" y="294.6" width="0.8" height="0.8" fill="#b4bcc4"/>
<rect x="454.3" y="314.8" width="0.8" height="0.8" fill="#b4bcc4"/>
<rect x="466.1" y="339.9" width="0.8" height="0.8" fill="#b4bcc4"/>
<rect x="468.4" y="326.7" width="0.8" height="0.8" fill="#b4bcc4"/>
<rect x="476.0" y="305.1" width="0.8" height="0.8" fill="#b4bcc4"/>
<rect x="491.7" y="326.4" width="0.8" height="0.8" fill="#b4bcc4"/>
<rect x="467.7" y="308.7" width="0.8" height="0.8" fill="#b4bcc4"/>
<rect x="459.6" y="309.0" width="0.8" height="0.8" fill="#b4bcc4"/>
<rect x="458.9" y="310.5" width="0.8" height="0.8" fill="#b4bcc4"/>
<rect x="480.0" y="318.0" width="0.8" height="0.8" fill="#b4bcc4"/>
<rect x="497.6" y="310.1" width="0.8" height="0.8" fill="#b4bcc4"/>
<rect x="500.2" y="315.4" width="0.8" height="0.8" fill="#b4bcc4"/>
<rect x="484.5" y="319.7" width="0.8" height="0.8" fill="#b4bcc4"/>
<rect x="487.0" y="323.5" width="0.8" height="0.8" fill="#b4bcc4"/>
<rect x="452.6" y="309.5" width="0.8" height="0.8" fill="#b4bcc4"/>
<rect x="488.2" y="324.4" width="0.8" height="0.8" fill="#b4bcc4"/>
<rect x="450.6" y="332.7" width="0.8" height="0.8" fill="#b4bcc4"/>
<rect x="477.6" y="309.8" width="0.8" height="0.8" fill="#b4bcc4"/>
<rect x="469.1" y="311.8" width="0.8" height="0.8" fill="#b4bcc4"/>
<rect x="492.9" y="313.4" width="0.8" height="0.8" fill="#b4bcc4"/>
<rect x="474.0" y="313.9" width="0.8" height="0.8" fill="#b4bcc4"/>
<rect x="453.5" y="308.3" width="0.8" height="0.8" fill="#b4bcc4"/>
<rect x="465.9" y="301.1" width="0.8" height="0.8" fill="#b4bcc4"/>
<rect x="488.7" y="329.9" width="0.8" height="0.8" fill="#b4bcc4"/>
<rect x="487.7" y="303.4" width="0.8" height="0.8" fill="#b4bcc4"/>
<rect x="484.2" y="326.9" width="0.8" height="0.8" fill="#b4bcc4"/>
<rect x="489.4" y="311.2" width="0.8" height="0.8" fill="#b4bcc4"/>
<rect x="451.0" y="307.0" width="0.8" height="0.8" fill="#b4bcc4"/>
<rect x="459.8" y="340.7" width="0.8" height="0.8" fill="#b4bcc4"/>
<rect x="479.3" y="305.2" width="0.8" height="0.8" fill="#b4bcc4"/>
<rect x="482.0" y="336.9" width="0.8" height="0.8" fill="#b4bcc4"/>
<rect x="497.0" y="322.7" width="0.8" height="0.8" fill="#b4bcc4"/>
<rect x="457.9" y="317.1" width="0.8" height="0.8" fill="#b4bcc4"/>
<rect x="483.0" y="338.4" width="0.8" height="0.8" fill="#b4bcc4"/>
<rect x="497.4" y="332.2" width="0.8" height="0.8" fill="#b4bcc4"/>
<rect x="501.6" y="319.5" width="0.8" height="0.8" fill="#b4bcc4"/>
<rect x="481.2" y="341.7" width="0.8" height="0.8" fill="#b4bcc4"/>
<rect x="493.3" y="312.0" width="0.8" height="0.8" fill="#b4bcc4"/>
<rect x="497.1" y="317.6" width="0.8" height="0.8" fill="#b4bcc4"/>
<rect x="482.7" y="312.2" width="0.8" height="0.8" fill="#b4bcc4"/>
<rect x="489.9" y="300.3" width="0.8" height="0.8" fill="#b4bcc4"/>
<rect x="459.2" y="319.2" width="0.8" height="0.8" fill="#b4bcc4"/>
<rect x="482.5" y="333.6" width="0.8" height="0.8" fill="#b4bcc4"/>
<rect x="476.7" y="334.6" width="0.8" height="0.8" fill="#b4bcc4"/>
<rect x="489.2" y="301.3" width="0.8" height="0.8" fill="#b4bcc4"/>
<rect x="480.7" y="312.0" width="0.8" height="0.8" fill="#b4bcc4"/>
<rect x="470.4" y="332.5" width="0.8" height="0.8" fill="#b4bcc4"/>
<rect x="452.4" y="325.3" width="0.8" height="0.8" fill="#b4bcc4"/>
<rect x="484.7" y="321.0" width="0.8" height="0.8" fill="#b4bcc4"/>
<rect x="464.9" y="311.8" width="0.8" height="0.8" fill="#b4bcc4"/>
<rect x="455.6" y="323.5" width="0.8" height="0.8" fill="#b4bcc4"/>
<rect x="476.2" y="296.6" width="0.8" height="0.8" fill="#b4bcc4"/>
<rect x="478.2" y="310.8" width="0.8" height="0.8" fill="#b4bcc4"/>
<rect x="462.1" y="325.2" width="0.8" height="0.8" fill="#b4bcc4"/>
<rect x="487.6" y="322.1" width="0.8" height="0.8" fill="#b4bcc4"/>
<rect x="481.6" y="324.4" width="0.8" height="0.8" fill="#b4bcc4"/>
<rect x="487.2" y="329.0" width="0.8" height="0.8" fill="#b4bcc4"/>
<rect x="470.9" y="337.6" width="0.8" height="0.8" fill="#b4bcc4"/>
<rect x="464.9" y="306.2" width="0.8" height="0.8" fill="#b4bcc4"/>
<rect x="493.0" y="320.4" width="0.8" height="0.8" fill="#b4bcc4"/>
<rect x="457.0" y="332.1" width="0.8" height="0.8" fill="#b4bcc4"/>
<rect x="463.6" y="301.1" width="0.8" height="0.8" fill="#b4bcc4"/>
<rect x="473.1" y="311.8" width="0.8" height="0.8" fill="#b4bcc4"/>
<rect x="498.6" y="307.2" width="0.8" height="0.8" fill="#b4bcc4"/>
<rect x="475.2" y="304.2" width="0.8" height="0.8" fill="#b4bcc4"/>
<rect x="477.5" y="341.0" width="0.8" height="0.8" fill="#b4bcc4"/>
<rect x="486.1" y="319.6" width="0.8" height="0.8" fill="#b4bcc4"/>
<rect x="469.4" y="341.3" width="0.8" height="0.8" fill="#b4bcc4"/>
<rect x="495.7" y="318.7" width="0.8" height="0.8" fill="#b4bcc4"/>
<rect x="459.8" y="317.0" width="0.8" height="0.8" fill="#b4bcc4"/>
<rect x="484.9" y="310.9" width="0.8" height="0.8" fill="#b4bcc4"/>
<rect x="496.8" y="324.0" width="0.8" height="0.8" fill="#b4bcc4"/>
<rect x="480.2" y="335.1" width="0.8" height="0.8" fill="#b4bcc4"/>
<rect x="474.4" y="304.6" width="0.8" height="0.8" fill="#b4bcc4"/>
<rect x="488.0" y="323.7" width="0.8" height="0.8" fill="#b4bcc4"/>
<rect x="492.1" y="331.9" width="0.8" height="0.8" fill="#b4bcc4"/>
<rect x="466.8" y="295.6" width="0.8" height="0.8" fill="#b4bcc4"/>
<rect x="497.8" y="318.4" width="0.8" height="0.8" fill="#b4bcc4"/>
<rect x="497.5" y="331.9" width="0.8" height="0.8" fill="#b4bcc4"/>
<rect x="476.6" y="302.8" width="0.8" height="0.8" fill="#b4bcc4"/>
<rect x="502.8" y="322.2" width="0.8" height="0.8" fill="#b4bcc4"/>
<rect x="465.7" y="324.6" width="0.8" height="0.8" fill="#b4bcc4"/>
<rect x="460.3" y="302.6" width="0.8" height="0.8" fill="#b4bcc4"/>
<rect x="476.8" y="324.0" width="0.8" height="0.8" fill="#b4bcc4"/>
<rect x="472.9" y="310.7" width="0.8" height="0.8" fill="#b4bcc4"/>
<rect x="483.1" y="330.9" width="0.8" height="0.8" fill="#b4bcc4"/>
<rect x="476.7" y="311.1" width="0.8" height="0.8" fill="#b4bcc4"/>
<rect x="487.7" y="339.0" width="0.8" height="0.8" fill="#b4bcc4"/>
<rect x="486.7" y="307.1" width="0.8" height="0.8" fill="#b4bcc4"/>
<rect x="487.3" y="330.6" width="0.8" height="0.8" fill="#b4bcc4"/>
<rect x="494.1" y="329.4" width="0.8" height="0.8" fill="#b4bcc4"/>
<rect x="474.6" y="303.5" width="0.8" height="0.8" fill="#b4bcc4"/>
<rect x="484.1" y="312.1" width="0.8" height="0.8" fill="#b4bcc4"/>
<rect x="469.5" y="311.4" width="0.8" height="0.8" fill="#b4bcc4"/>
<rect x="457.0" y="326.0" width="0.8" height="0.8" fill="#b4bcc4"/>
<rect x="454.0" y="302.4" width="0.8" height="0.8" fill="#b4bcc4"/>
<rect x="493.7" y="320.7" width="0.8" height="0.8" fill="#b4bcc4"/>
<rect x="464.7" y="334.8" width="0.8" height="0.8" fill="#b4bcc4"/>
<rect x="479.8" y="295.1" width="0.8" height="0.8" fill="#b4bcc4"/>
<rect x="463.9" y="327.2" width="0.8" height="0.8" fill="#b4bcc4"/>
<rect x="482.5" y="337.7" width="0.8" height="0.8" fill="#b4bcc4"/>
<rect x="485.2" y="326.7" width="0.8" height="0.8" fill="#b4bcc4"/>
<rect x="458.2" y="311.4" width="0.8" height="0.8" fill="#b4bcc4"/>
<rect x="450.4" y="320.7" width="0.8" height="0.8" fill="#b4bcc4"/>
<defs><filter id="bl" x="-50%" y="-50%" width="200%" height="200%"><feGaussianBlur stdDeviation="0.45"/></filter></defs>
<g filter="url(#bl)">
<ellipse cx="392.9" cy="253.2" rx="1.7" ry="15.6" fill="#aab8f8"/>
<ellipse cx="392.9" cy="257.5" rx="1.35" ry="10" fill="#6a86f2"/>
<ellipse cx="392.9" cy="262.6" rx="1.9" ry="5.6" fill="#52bfe6"/>
<ellipse cx="392.9" cy="264.6" rx="1.9" ry="3.7" fill="#6ed46c"/>
<ellipse cx="392.9" cy="265.2" rx="1.5" ry="2.5" fill="#dcd23e"/>
<ellipse cx="392.9" cy="265.4" rx="1.0" ry="1.5" fill="#e0541e"/>
<ellipse cx="453.9" cy="263" rx="1.9" ry="5.2" fill="#6f8bf0"/>
<ellipse cx="453.9" cy="264" rx="1.4" ry="3.4" fill="#40d0c8"/>
<ellipse cx="453.9" cy="265" rx="0.9" ry="1.6" fill="#c8e040"/>
</g>
<path d="M392,326 C392.08,324.00 392.17,321.67 393,320 C393.83,318.33 395.33,316.97 397,316 C398.67,315.03 400.83,314.53 403,314.2 C405.17,313.87 407.83,313.78 410,314 C412.17,314.22 414.17,314.83 416,315.5 C417.83,316.17 419.58,316.92 421,318 C422.42,319.08 423.83,320.50 424.5,322 C425.17,323.50 425.25,325.50 425,327 C424.75,328.50 424.17,329.83 423,331 C421.83,332.17 420.17,333.25 418,334 C415.83,334.75 412.67,335.17 410,335.5 C407.33,335.83 404.33,336.08 402,336 C399.67,335.92 397.58,335.67 396,335 C394.42,334.33 393.17,333.50 392.5,332 C391.83,330.50 391.92,328.00 392,326Z" fill="#f7f9ff" fill-opacity="1" stroke="#6b84f2" stroke-width="0.6" stroke-linejoin="round"/>
<path d="M394.04,326.0 C394.11,324.24 394.19,322.19 394.92,320.72 C395.65,319.25 396.97,318.05 398.44,317.2 C399.91,316.35 401.81,315.91 403.72,315.62 C405.63,315.33 407.97,315.25 409.88,315.44 C411.79,315.63 413.55,316.17 415.16,316.76 C416.77,317.35 418.31,318.01 419.56,318.96 C420.81,319.91 422.05,321.16 422.64,322.48 C423.23,323.80 423.30,325.56 423.08,326.88 C422.86,328.20 422.35,329.37 421.32,330.4 C420.29,331.43 418.83,332.38 416.92,333.04 C415.01,333.70 412.23,334.07 409.88,334.36 C407.53,334.65 404.89,334.87 402.84,334.8 C400.79,334.73 398.95,334.51 397.56,333.92 C396.17,333.33 395.07,332.60 394.48,331.28 C393.89,329.96 393.97,327.76 394.04,326.0Z" fill="none" fill-opacity="1" stroke="#7d94f4" stroke-width="0.5" stroke-linejoin="round"/>
<path d="M396.08,326.0 C396.14,324.48 396.21,322.71 396.84,321.44 C397.47,320.17 398.61,319.13 399.88,318.4 C401.15,317.66 402.79,317.28 404.44,317.03 C406.09,316.78 408.11,316.71 409.76,316.88 C411.41,317.05 412.93,317.51 414.32,318.02 C415.71,318.53 417.04,319.10 418.12,319.92 C419.20,320.74 420.27,321.82 420.78,322.96 C421.29,324.10 421.35,325.62 421.16,326.76 C420.97,327.90 420.53,328.91 419.64,329.8 C418.75,330.69 417.49,331.51 415.84,332.08 C414.19,332.65 411.79,332.97 409.76,333.22 C407.73,333.47 405.45,333.66 403.68,333.6 C401.91,333.54 400.32,333.35 399.12,332.84 C397.92,332.33 396.97,331.70 396.46,330.56 C395.95,329.42 396.02,327.52 396.08,326.0Z" fill="#e6f6f8" fill-opacity="1" stroke="#62a8f0" stroke-width="0.5" stroke-linejoin="round"/>
<path d="M396,327 C396.25,325.50 396.83,322.83 398,321.5 C399.17,320.17 401.00,319.45 403,319 C405.00,318.55 407.83,318.55 410,318.8 C412.17,319.05 414.33,319.63 416,320.5 C417.67,321.37 419.33,322.58 420,324 C420.67,325.42 420.67,327.67 420,329 C419.33,330.33 418.00,331.30 416,332 C414.00,332.70 410.67,333.07 408,333.2 C405.33,333.33 401.92,333.25 400,332.8 C398.08,332.35 397.17,331.47 396.5,330.5 C395.83,329.53 395.75,328.50 396,327Z" fill="#c8f2e0" fill-opacity="1" stroke="#58c8e0" stroke-width="0.5" stroke-linejoin="round"/>
<path d="M398.5,327 C398.83,325.75 400.08,323.40 401.5,322.5 C402.92,321.60 405.08,321.52 407,321.6 C408.92,321.68 411.33,322.23 413,323 C414.67,323.77 416.50,325.03 417,326.2 C417.50,327.37 417.00,329.07 416,330 C415.00,330.93 413.08,331.55 411,331.8 C408.92,332.05 405.42,331.80 403.5,331.5 C401.58,331.20 400.33,330.75 399.5,330 C398.67,329.25 398.17,328.25 398.5,327Z" fill="#a6e878" fill-opacity="1" stroke="#6ad070" stroke-width="0.5" stroke-linejoin="round"/>
<path d="M402.5,327.5 C402.92,326.67 404.50,325.17 406,324.8 C407.50,324.43 410.00,324.83 411.5,325.3 C413.00,325.77 414.75,326.78 415,327.6 C415.25,328.42 414.25,329.70 413,330.2 C411.75,330.70 409.08,330.67 407.5,330.6 C405.92,330.53 404.33,330.32 403.5,329.8 C402.67,329.28 402.08,328.33 402.5,327.5Z" fill="#d8f068" fill-opacity="1" stroke="#b8e050" stroke-width="0.4" stroke-linejoin="round"/>
<ellipse cx="409.2" cy="328.4" rx="4.2" ry="1.5" fill="#f07a3a"/>
<ellipse cx="409.4" cy="328.4" rx="3.2" ry="1.0" fill="#ee2a2a"/>
<path d="M451,319 C451.00,315.67 451.25,312.50 452,310 C452.75,307.50 454.00,305.58 455.5,304 C457.00,302.42 458.92,301.17 461,300.5 C463.08,299.83 465.83,299.83 468,300 C470.17,300.17 472.08,300.83 474,301.5 C475.92,302.17 477.92,303.08 479.5,304 C481.08,304.92 482.25,306.08 483.5,307 C484.75,307.92 485.33,308.92 487,309.5 C488.67,310.08 492.25,309.75 493.5,310.5 C494.75,311.25 495.25,313.08 494.5,314 C493.75,314.92 490.25,314.83 489,316 C487.75,317.17 487.50,319.17 487,321 C486.50,322.83 486.67,325.17 486,327 C485.33,328.83 484.67,330.73 483,332 C481.33,333.27 478.83,334.07 476,334.6 C473.17,335.13 469.33,335.20 466,335.2 C462.67,335.20 458.33,335.47 456,334.6 C453.67,333.73 452.83,332.60 452,330 C451.17,327.40 451.00,322.33 451,319Z" fill="#f8faff" fill-opacity="1" stroke="#6b84f2" stroke-width="0.6" stroke-linejoin="round"/>
<path d="M452.7,319.1 C452.70,316.10 452.93,313.25 453.6,311.0 C454.28,308.75 455.40,307.03 456.75,305.6 C458.10,304.18 459.82,303.05 461.7,302.45 C463.57,301.85 466.05,301.85 468.0,302.0 C469.95,302.15 471.67,302.75 473.4,303.35 C475.12,303.95 476.93,304.78 478.35,305.6 C479.78,306.43 480.82,307.48 481.95,308.3 C483.07,309.12 483.60,310.03 485.1,310.55 C486.60,311.07 489.82,310.77 490.95,311.45 C492.07,312.12 492.53,313.78 491.85,314.6 C491.18,315.43 488.02,315.35 486.9,316.4 C485.77,317.45 485.55,319.25 485.1,320.9 C484.65,322.55 484.80,324.65 484.2,326.3 C483.60,327.95 483.00,329.66 481.5,330.8 C480.00,331.94 477.75,332.66 475.2,333.14 C472.65,333.62 469.20,333.68 466.2,333.68 C463.20,333.68 459.30,333.92 457.2,333.14 C455.10,332.36 454.35,331.34 453.6,329.0 C452.85,326.66 452.70,322.10 452.7,319.1Z" fill="none" fill-opacity="1" stroke="#7d94f4" stroke-width="0.5" stroke-linejoin="round"/>
<path d="M454.4,319.2 C454.40,316.53 454.60,314.00 455.2,312.0 C455.80,310.00 456.80,308.47 458.0,307.2 C459.20,305.93 460.73,304.93 462.4,304.4 C464.07,303.87 466.27,303.87 468.0,304.0 C469.73,304.13 471.27,304.67 472.8,305.2 C474.33,305.73 475.93,306.47 477.2,307.2 C478.47,307.93 479.40,308.87 480.4,309.6 C481.40,310.33 481.87,311.13 483.2,311.6 C484.53,312.07 487.40,311.80 488.4,312.4 C489.40,313.00 489.80,314.47 489.2,315.2 C488.60,315.93 485.80,315.87 484.8,316.8 C483.80,317.73 483.60,319.33 483.2,320.8 C482.80,322.27 482.93,324.13 482.4,325.6 C481.87,327.07 481.33,328.59 480.0,329.6 C478.67,330.61 476.67,331.25 474.4,331.68 C472.13,332.11 469.07,332.16 466.4,332.16 C463.73,332.16 460.27,332.37 458.4,331.68 C456.53,330.99 455.87,330.08 455.2,328.0 C454.53,325.92 454.40,321.87 454.4,319.2Z" fill="#eef7fc" fill-opacity="1" stroke="#7aa8f4" stroke-width="0.5" stroke-linejoin="round"/>
<path d="M454.5,321 C454.67,318.33 454.92,314.33 456,312 C457.08,309.67 459.00,308.00 461,307 C463.00,306.00 465.67,305.83 468,306 C470.33,306.17 473.17,306.83 475,308 C476.83,309.17 478.08,311.00 479,313 C479.92,315.00 480.42,317.50 480.5,320 C480.58,322.50 480.42,326.00 479.5,328 C478.58,330.00 477.25,331.13 475,332 C472.75,332.87 468.83,333.17 466,333.2 C463.17,333.23 459.83,333.07 458,332.2 C456.17,331.33 455.58,329.87 455,328 C454.42,326.13 454.33,323.67 454.5,321Z" fill="#dcf5f4" fill-opacity="1" stroke="#60c0e8" stroke-width="0.5" stroke-linejoin="round"/>
<path d="M456.5,327 C456.33,325.12 456.67,322.25 457.5,320.5 C458.33,318.75 459.92,317.17 461.5,316.5 C463.08,315.83 465.17,316.08 467,316.5 C468.83,316.92 471.08,317.75 472.5,319 C473.92,320.25 475.00,322.25 475.5,324 C476.00,325.75 476.17,328.08 475.5,329.5 C474.83,330.92 473.42,331.88 471.5,332.5 C469.58,333.12 466.17,333.32 464,333.2 C461.83,333.08 459.75,332.83 458.5,331.8 C457.25,330.77 456.67,328.88 456.5,327Z" fill="#9ce47c" fill-opacity="1" stroke="#70d070" stroke-width="0.5" stroke-linejoin="round"/>
<path d="M459.5,327.5 C459.67,326.12 460.42,323.50 461.5,322.5 C462.58,321.50 464.42,321.33 466,321.5 C467.58,321.67 469.87,322.50 471,323.5 C472.13,324.50 472.80,326.25 472.8,327.5 C472.80,328.75 472.30,330.25 471,331 C469.70,331.75 466.75,332.03 465,332 C463.25,331.97 461.42,331.55 460.5,330.8 C459.58,330.05 459.33,328.88 459.5,327.5Z" fill="#dcee6a" fill-opacity="1" stroke="#c0e050" stroke-width="0.4" stroke-linejoin="round"/>
<path d="M461.5,327.5 C461.67,326.57 462.58,325.22 463.5,324.8 C464.42,324.38 465.92,324.55 467,325 C468.08,325.45 469.63,326.58 470,327.5 C470.37,328.42 469.95,329.82 469.2,330.5 C468.45,331.18 466.62,331.62 465.5,331.6 C464.38,331.58 463.17,331.08 462.5,330.4 C461.83,329.72 461.33,328.43 461.5,327.5Z" fill="#f4906a" fill-opacity="1" stroke="#ee4a3a" stroke-width="0.6" stroke-linejoin="round"/>
<circle cx="464.5" cy="327" r="1.1" fill="none" stroke="#e82a2a" stroke-width="0.6"/>
<circle cx="467.5" cy="329" r="1.0" fill="none" stroke="#e82a2a" stroke-width="0.6"/>
</svg><div id="frame"></div></div></body></html>
